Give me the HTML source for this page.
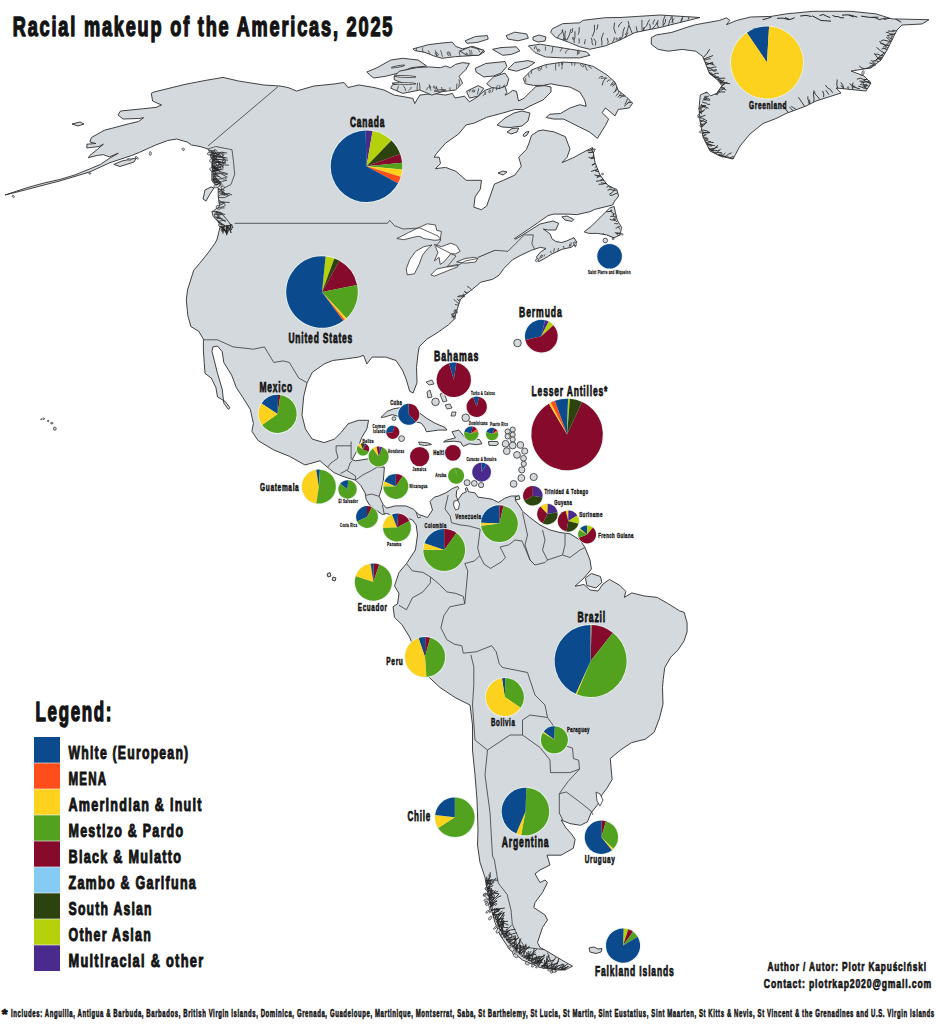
<!DOCTYPE html>
<html><head><meta charset="utf-8"><title>Racial makeup of the Americas, 2025</title>
<style>html,body{margin:0;padding:0;background:#fff;} svg{display:block;}</style>
</head><body><svg width="936" height="1024" viewBox="0 0 936 1024"><polygon points="5.0,195.0 26.0,188.0 44.0,183.0 60.0,179.4 75.0,174.9 89.9,168.9 100.4,164.4 109.4,158.4 118.3,153.2 109.4,156.9 103.4,154.7 97.4,155.4 88.4,157.7 89.9,155.4 97.4,149.4 103.4,144.2 98.9,146.5 86.9,148.0 86.9,144.2 95.9,143.5 89.9,142.0 91.4,137.5 104.9,130.0 113.0,128.0 128.0,124.0 138.5,121.5 143.6,117.7 138.5,118.5 123.0,119.0 118.0,115.0 120.5,111.0 143.6,108.7 156.0,107.4 161.5,105.0 152.6,101.0 151.3,93.3 154.0,92.0 185.0,84.4 205.0,80.5 223.0,77.4 238.5,81.0 264.0,85.0 280.0,86.0 288.0,87.5 296.5,91.0 314.0,86.0 334.0,84.0 344.0,82.5 348.0,87.5 359.0,85.0 374.0,87.5 384.0,90.0 394.2,95.1 404.4,96.8 413.0,98.5 414.7,103.6 419.8,95.1 433.5,93.4 445.5,95.1 452.3,93.4 455.0,98.0 464.6,96.2 469.4,101.9 477.1,97.1 484.8,90.4 495.4,86.5 505.0,86.5 506.9,92.3 505.0,95.2 508.8,93.3 512.7,90.4 516.5,91.3 518.5,101.0 524.2,98.1 531.9,90.4 535.8,86.5 545.0,85.6 551.0,87.0 551.0,92.0 543.0,100.0 530.0,106.0 523.7,109.5 514.6,109.6 501.2,113.5 486.7,117.3 474.2,123.1 466.0,125.0 458.5,134.1 445.6,143.1 436.7,153.3 434.1,157.2 439.2,157.2 440.5,163.6 435.4,168.7 445.6,167.4 455.9,171.3 466.2,180.3 481.5,180.3 480.3,189.2 475.1,196.9 473.8,207.2 481.5,209.7 486.7,205.9 494.4,184.1 503.3,180.3 514.9,175.1 521.3,166.2 518.7,157.2 526.4,149.5 529.0,143.1 531.5,135.4 538.0,131.0 543.1,130.0 554.1,131.9 565.3,136.7 570.0,149.0 567.0,157.4 562.0,162.6 574.0,157.4 580.0,154.0 592.5,147.5 595.0,162.5 600.0,175.0 607.5,185.0 617.0,190.0 618.6,196.0 614.0,202.0 612.6,205.0 594.7,209.4 590.0,211.7 576.9,214.6 567.3,214.1 553.8,214.1 548.1,215.6 538.5,222.3 528.8,229.0 514.4,238.7 516.0,239.0 529.0,231.0 540.0,224.0 553.0,221.0 558.7,223.3 555.8,230.0 548.1,230.0 543.3,229.0 550.0,233.8 551.9,238.7 555.8,241.5 561.5,242.5 566.3,241.1 574.0,237.7 576.9,242.5 571.2,247.3 562.5,249.2 551.9,254.0 544.2,258.8 538.5,261.7 536.5,256.9 540.4,252.1 546.0,248.5 540.4,247.3 531.7,250.2 521.2,255.0 512.5,259.8 503.8,268.5 499.0,275.3 492.6,279.3 480.8,282.2 472.0,289.6 466.2,294.0 460.3,299.8 457.4,308.6 454.5,318.9 448.6,324.7 438.4,332.0 426.6,339.4 419.3,346.7 418.0,354.0 416.5,367.4 417.0,382.7 413.1,393.0 409.7,391.3 406.2,379.3 402.8,370.8 396.0,360.5 385.7,357.1 372.1,357.1 366.9,363.9 363.5,355.4 358.4,357.1 346.4,358.8 332.7,360.5 324.2,363.9 312.2,372.5 307.1,382.7 303.7,396.4 302.0,415.2 305.4,428.9 312.2,439.1 324.2,442.6 334.4,439.1 341.3,432.3 348.1,423.8 358.4,420.3 368.6,420.3 366.9,428.9 361.8,437.4 356.7,451.1 352.2,459.7 355.4,460.8 363.0,459.7 369.4,458.7 384.4,467.3 383.4,480.1 381.2,489.8 379.1,496.3 383.4,504.9 386.6,508.1 395.2,505.9 405.9,505.9 413.4,509.2 418.8,514.5 427.5,517.5 432.5,510.0 430.0,501.4 434.3,497.1 438.5,496.0 446.0,492.8 452.4,488.5 457.8,486.4 458.8,488.5 456.7,490.7 456.2,496.0 457.8,500.3 459.9,497.1 462.0,493.9 466.3,491.8 465.3,488.5 466.9,487.5 468.5,491.8 474.9,492.8 478.0,497.1 485.6,498.2 492.0,499.2 498.4,502.4 504.8,498.2 511.2,496.0 517.6,496.0 515.0,500.0 518.8,505.0 522.5,511.2 530.0,517.5 540.0,525.0 550.0,530.0 560.0,532.5 570.0,533.8 580.0,540.0 585.0,547.5 590.0,560.0 591.4,569.0 584.0,578.0 575.0,586.2 584.0,584.5 590.0,590.0 598.0,591.0 603.0,584.0 609.4,579.4 619.8,585.4 625.8,591.4 624.3,597.4 631.8,592.9 643.8,595.9 657.2,597.4 667.7,603.4 679.7,610.9 684.1,612.3 687.1,622.8 687.1,631.8 684.1,640.8 678.2,649.7 670.7,657.2 664.7,667.7 663.2,679.7 662.5,687.5 663.0,704.1 659.5,718.1 654.2,732.2 645.4,739.2 631.4,742.7 620.8,749.8 610.3,758.5 611.2,769.1 612.1,779.6 606.8,788.4 601.5,795.4 598.0,804.2 591.0,813.0 587.5,821.8 580.4,825.3 569.9,823.6 561.1,820.0 566.0,828.0 571.6,834.1 575.1,839.4 573.4,848.2 561.1,855.2 547.0,855.2 550.0,865.0 540.0,870.0 535.0,873.8 540.0,882.5 545.0,880.0 547.5,882.5 542.5,892.5 535.0,902.5 533.8,907.5 545.0,915.0 547.5,920.0 542.5,927.5 540.0,935.0 537.5,942.5 540.0,947.5 545.0,950.0 557.5,957.5 572.5,966.2 565.0,970.0 555.0,970.0 540.0,967.5 522.5,960.0 510.0,950.0 500.0,935.0 495.0,922.5 490.0,905.0 487.5,892.5 485.0,877.5 480.0,862.5 477.5,845.0 478.0,830.0 477.0,800.0 475.0,775.0 472.5,750.0 472.5,725.0 470.0,705.0 455.0,697.5 440.0,687.5 428.9,677.1 420.0,662.0 409.4,636.7 402.0,624.8 394.5,617.3 393.0,606.8 397.5,603.8 399.0,593.4 394.5,585.9 399.0,572.4 406.5,563.5 415.4,550.0 417.5,535.0 416.2,525.0 412.5,520.0 405.0,517.5 397.5,517.5 386.6,513.4 382.3,514.5 374.8,509.2 369.4,504.9 366.2,499.5 365.1,493.0 360.8,485.5 355.4,480.1 347.9,478.0 341.5,475.9 334.0,472.6 327.5,467.3 320.0,460.8 305.0,465.0 289.4,456.3 273.8,450.0 258.1,440.6 251.9,431.3 253.4,423.4 250.3,409.4 242.5,396.9 236.3,387.5 231.6,375.0 223.8,362.5 222.2,351.6 217.5,346.1 212.8,346.9 212.0,351.6 214.4,360.9 217.5,373.4 222.2,389.1 223.8,403.1 228.4,409.4 230.0,407.8 225.3,401.6 217.5,396.9 215.9,387.5 211.3,378.1 205.0,373.4 204.2,362.5 203.4,350.0 203.4,339.1 198.8,331.3 190.9,326.6 187.8,315.6 186.3,300.0 187.5,290.0 193.7,270.3 199.5,263.5 208.0,253.0 215.2,243.0 217.1,239.1 220.0,227.3 219.5,224.0 214.4,216.3 213.1,211.2 219.5,206.0 218.2,196.0 218.2,188.4 211.9,180.8 211.9,168.0 211.9,160.5 209.3,151.6 208.0,149.0 200.0,146.5 191.6,145.0 187.1,142.0 176.7,139.0 167.7,140.5 155.7,145.0 139.3,152.4 131.8,155.4 109.4,162.9 89.9,171.9 75.0,176.4 60.0,180.9 44.0,185.0 25.0,190.0" fill="#d4d9dd" stroke="#2e2e2e" stroke-width="0.9" stroke-linejoin="round" /><polygon points="396.8,238.5 408.5,232.6 420.3,226.8 427.3,223.8 435.5,225.0 436.7,230.3 441.4,231.5 440.2,239.7 434.4,240.3 423.8,238.5 419.1,236.2 413.2,237.3 403.8,239.7" fill="#ffffff" stroke="#2e2e2e" stroke-width="0.8" stroke-linejoin="round" /><polygon points="432.0,245.0 423.8,246.7 415.6,251.4 409.7,259.7 406.2,269.0 407.3,274.9 414.4,273.8 419.1,264.4 422.6,255.0 427.3,249.1" fill="#ffffff" stroke="#2e2e2e" stroke-width="0.8" stroke-linejoin="round" /><polygon points="434.4,244.4 441.4,246.7 450.8,243.2 456.7,245.6 460.2,251.4 455.5,253.8 450.8,253.8 443.8,262.0 440.2,264.4 439.1,257.3 434.4,260.8 437.9,252.6 435.5,246.7" fill="#ffffff" stroke="#2e2e2e" stroke-width="0.8" stroke-linejoin="round" /><polygon points="430.8,274.9 436.7,269.0 447.3,266.7 457.9,264.4 457.9,266.7 446.1,271.4 434.4,276.1" fill="#ffffff" stroke="#2e2e2e" stroke-width="0.8" stroke-linejoin="round" /><polygon points="456.7,262.0 464.9,258.5 474.3,257.3 477.8,258.5 475.5,262.0 464.9,263.2" fill="#ffffff" stroke="#2e2e2e" stroke-width="0.8" stroke-linejoin="round" /><polyline points="477.8,257.5 486.0,254.0 495.0,250.3" fill="none" stroke="#2e2e2e" stroke-width="0.9" stroke-linejoin="round"/><polygon points="454.0,501.0 458.0,500.5 459.5,504.0 458.5,509.0 455.5,510.0 453.5,505.0" fill="#ffffff" stroke="#2e2e2e" stroke-width="0.8" stroke-linejoin="round" /><polygon points="596.0,792.0 600.0,794.0 603.0,800.0 600.0,806.0 597.0,801.0" fill="#ffffff" stroke="#2e2e2e" stroke-width="0.8" stroke-linejoin="round" /><polygon points="651.3,37.5 656.4,34.9 671.8,32.4 687.2,27.2 695.7,24.7 719.7,20.4 726.5,17.8 729.9,20.4 726.5,24.7 736.8,20.4 750.4,17.0 771.0,16.4 786.0,13.9 813.0,11.3 851.0,11.3 876.0,13.9 892.0,18.9 929.0,19.7 922.0,24.0 902.0,25.0 897.0,30.0 892.0,40.0 887.0,50.0 881.0,60.0 871.0,68.0 851.0,71.0 864.0,76.0 871.0,83.0 866.0,91.0 836.0,88.0 841.0,93.0 816.0,101.0 806.0,106.0 786.0,113.5 776.0,118.5 763.0,123.5 750.0,134.0 740.0,146.0 733.0,159.0 720.0,156.0 710.0,151.0 703.0,137.0 700.0,121.0 699.0,108.6 700.3,95.0 706.7,92.0 710.5,95.9 716.8,93.3 721.9,85.7 717.9,80.2 709.4,73.4 706.0,64.8 702.6,56.3 695.7,51.2 682.1,49.4 668.4,51.2 658.1,49.4 651.3,44.3" fill="#d4d9dd" stroke="#2e2e2e" stroke-width="0.9" stroke-linejoin="round" /><polygon points="523.2,78.4 531.8,69.8 545.5,64.7 562.6,62.1 579.7,63.0 593.3,66.4 607.0,75.0 615.0,82.2 618.2,90.3 626.2,96.7 632.6,103.1 629.4,107.9 618.2,109.5 615.0,115.9 605.4,107.9 602.2,112.7 608.6,119.1 605.4,125.5 597.4,138.3 589.4,131.9 579.7,127.1 570.1,122.3 563.7,119.1 554.1,119.1 546.1,117.5 549.3,114.3 560.5,113.5 570.1,107.9 579.7,104.7 586.2,106.3 584.6,99.9 579.7,91.9 570.1,87.1 558.9,85.4 550.9,83.8 542.9,85.4 533.3,85.4 525.3,83.8" fill="#d4d9dd" stroke="#2e2e2e" stroke-width="0.9" stroke-linejoin="round" /><polygon points="497.0,125.0 505.0,118.0 514.0,113.0 522.0,111.0 530.0,113.0 528.0,121.0 522.0,126.0 510.0,127.5 502.0,127.0" fill="#d4d9dd" stroke="#2e2e2e" stroke-width="0.9" stroke-linejoin="round" /><polygon points="366.8,72.0 377.1,67.7 390.8,60.0 402.7,58.3 418.1,60.0 426.7,66.0 411.3,67.7 399.3,72.9 385.6,76.3 373.7,78.0 370.3,75.4" fill="#d4d9dd" stroke="#2e2e2e" stroke-width="0.9" stroke-linejoin="round" /><polygon points="394.2,76.3 399.3,71.2 416.4,67.7 428.4,66.9 440.3,67.7 445.5,66.0 450.6,67.7 455.7,64.3 462.6,62.6 469.4,63.5 466.0,69.4 459.1,76.3 462.6,83.1 455.7,90.0 442.1,91.7 431.8,95.1 419.8,90.0 402.7,93.4 390.8,88.2 392.5,84.8 402.7,83.1 394.2,79.7" fill="#d4d9dd" stroke="#2e2e2e" stroke-width="0.9" stroke-linejoin="round" /><polygon points="413.0,48.9 428.4,44.7 442.1,43.0 452.3,42.1 455.7,46.4 462.6,48.9 472.8,46.4 479.7,48.9 484.8,51.5 479.7,54.9 469.4,55.8 455.7,56.6 442.1,58.3 433.5,55.8 425.0,52.4 414.7,50.6" fill="#d4d9dd" stroke="#2e2e2e" stroke-width="0.9" stroke-linejoin="round" /><polygon points="465.1,40.8 475.4,36.5 487.4,35.6 488.2,39.1 477.1,42.5 466.8,43.3" fill="#d4d9dd" stroke="#2e2e2e" stroke-width="0.9" stroke-linejoin="round" /><polygon points="506.2,35.6 514.7,32.2 526.7,33.9 528.4,38.2 518.1,40.8 507.9,39.1" fill="#d4d9dd" stroke="#2e2e2e" stroke-width="0.9" stroke-linejoin="round" /><polygon points="533.0,37.0 539.0,35.0 546.0,37.0 545.0,41.0 538.0,42.0 533.0,40.0" fill="#d4d9dd" stroke="#2e2e2e" stroke-width="0.9" stroke-linejoin="round" /><polygon points="552.3,28.8 562.6,23.7 579.7,22.8 583.1,20.3 605.3,17.7 620.0,17.5 660.0,15.0 700.0,17.5 680.0,22.5 660.0,27.5 635.0,32.5 620.0,40.0 605.3,45.9 589.9,49.3 579.7,46.8 569.4,42.5 555.7,37.4 550.6,32.2" fill="#d4d9dd" stroke="#2e2e2e" stroke-width="0.9" stroke-linejoin="round" /><polygon points="528.4,45.9 540.3,44.2 555.7,46.8 571.1,49.3 586.5,51.9 589.9,55.3 579.7,57.9 562.6,57.9 545.5,57.0 535.2,52.7" fill="#d4d9dd" stroke="#2e2e2e" stroke-width="0.9" stroke-linejoin="round" /><polygon points="492.5,49.3 501.0,47.6 516.4,46.8 519.8,51.0 511.3,54.4 502.7,55.3" fill="#d4d9dd" stroke="#2e2e2e" stroke-width="0.9" stroke-linejoin="round" /><polygon points="460.0,51.0 470.3,46.8 483.9,50.2 478.8,55.3 466.8,55.3" fill="#d4d9dd" stroke="#2e2e2e" stroke-width="0.9" stroke-linejoin="round" /><polygon points="475.2,68.3 485.8,63.5 505.0,61.5 506.9,66.3 501.2,73.1 493.5,76.0 483.8,76.9 476.2,72.1" fill="#d4d9dd" stroke="#2e2e2e" stroke-width="0.9" stroke-linejoin="round" /><polygon points="507.9,69.2 514.6,62.5 528.1,60.6 534.8,62.5 528.1,67.3 516.5,71.2" fill="#d4d9dd" stroke="#2e2e2e" stroke-width="0.9" stroke-linejoin="round" /><polygon points="486.7,83.7 493.5,76.9 505.0,73.1 508.8,78.8 506.9,85.6 499.2,88.5 491.5,87.5" fill="#d4d9dd" stroke="#2e2e2e" stroke-width="0.9" stroke-linejoin="round" /><polygon points="466.5,91.3 478.1,85.6 483.8,88.5 478.1,96.2 469.4,98.1" fill="#d4d9dd" stroke="#2e2e2e" stroke-width="0.9" stroke-linejoin="round" /><polygon points="507.0,132.0 512.0,128.5 518.7,128.0 517.0,132.0 511.0,134.0" fill="#d4d9dd" stroke="#2e2e2e" stroke-width="0.9" stroke-linejoin="round" /><polygon points="523.0,135.0 526.0,132.0 529.0,131.5 527.0,135.0 524.0,136.7" fill="#d4d9dd" stroke="#2e2e2e" stroke-width="0.9" stroke-linejoin="round" /><polygon points="498.0,173.0 503.0,171.0 507.0,172.0 503.0,175.0" fill="#d4d9dd" stroke="#2e2e2e" stroke-width="0.9" stroke-linejoin="round" /><polygon points="584.2,231.9 591.7,225.9 602.2,215.4 609.7,208.0 614.1,206.5 617.1,220.0 621.6,227.4 620.1,234.9 614.1,237.9 606.7,234.9 597.7,233.4 588.7,233.4" fill="#d4d9dd" stroke="#2e2e2e" stroke-width="0.9" stroke-linejoin="round" /><polygon points="561.8,216.9 567.0,216.0 573.8,219.5 572.0,221.4 565.0,220.0" fill="#d4d9dd" stroke="#2e2e2e" stroke-width="0.9" stroke-linejoin="round" /><polygon points="211.9,211.2 220.8,212.5 228.4,221.4 230.9,225.2 225.8,226.4 218.2,221.4 213.1,216.3" fill="#d4d9dd" stroke="#2e2e2e" stroke-width="0.9" stroke-linejoin="round" /><polygon points="205.0,190.0 211.0,187.0 214.0,188.0 210.0,194.0 206.0,201.0 203.0,199.0" fill="#d4d9dd" stroke="#2e2e2e" stroke-width="0.9" stroke-linejoin="round" /><polygon points="113.8,164.4 122.0,161.0 136.3,158.0 134.0,162.0 120.0,166.5" fill="#d4d9dd" stroke="#2e2e2e" stroke-width="0.9" stroke-linejoin="round" /><polygon points="72.0,124.0 80.0,122.0 84.0,124.0 78.0,126.0" fill="#d4d9dd" stroke="#2e2e2e" stroke-width="0.9" stroke-linejoin="round" /><polygon points="381.1,417.3 387.1,411.3 393.9,408.7 399.1,407.9 410.0,408.0 419.6,413.0 426.4,418.1 435.0,423.2 445.2,427.5 446.9,430.1 438.4,430.1 426.4,431.8 424.7,427.5 421.3,423.2 414.4,421.5 404.0,418.0 392.2,414.7 383.7,417.3" fill="#d4d9dd" stroke="#2e2e2e" stroke-width="0.9" stroke-linejoin="round" /><polygon points="452.0,431.8 458.9,430.1 463.2,435.2 465.7,438.6 472.6,438.6 479.4,439.5 482.0,443.8 476.0,444.6 469.1,443.8 463.2,446.3 460.6,442.0 453.8,441.2 443.5,442.0 446.1,440.3 455.5,437.8 453.8,435.2" fill="#d4d9dd" stroke="#2e2e2e" stroke-width="0.9" stroke-linejoin="round" /><polygon points="418.7,442.0 428.1,442.9 431.5,444.6 424.7,445.5 419.6,444.6" fill="#d4d9dd" stroke="#2e2e2e" stroke-width="0.9" stroke-linejoin="round" /><polygon points="488.5,441.5 497.5,441.5 498.5,444.0 496.0,445.5 489.0,445.3" fill="#d4d9dd" stroke="#2e2e2e" stroke-width="0.9" stroke-linejoin="round" /><polygon points="585.4,578.0 591.4,573.5 600.4,576.5 601.9,582.4 595.9,588.0 586.9,585.5" fill="#d4d9dd" stroke="#2e2e2e" stroke-width="0.9" stroke-linejoin="round" /><polygon points="589.0,948.0 594.0,947.0 598.0,949.0 602.0,948.5 601.0,952.0 596.0,953.5 590.0,952.0" fill="#d4d9dd" stroke="#2e2e2e" stroke-width="0.9" stroke-linejoin="round" /><polygon points="327.0,574.0 330.0,572.5 331.0,576.0 328.0,577.0" fill="#d4d9dd" stroke="#2e2e2e" stroke-width="0.9" stroke-linejoin="round" /><polygon points="333.0,577.0 336.0,578.0 335.0,581.0 332.0,580.0" fill="#d4d9dd" stroke="#2e2e2e" stroke-width="0.9" stroke-linejoin="round" /><polygon points="515.0,497.0 519.0,495.5 520.0,499.0 516.0,500.0" fill="#d4d9dd" stroke="#2e2e2e" stroke-width="0.9" stroke-linejoin="round" /><ellipse cx="405" cy="76.5" rx="11" ry="0.9" transform="rotate(2 405 76.5)" fill="#ffffff" stroke="#2e2e2e" stroke-width="0.8"/><ellipse cx="404" cy="83.5" rx="12" ry="0.9" transform="rotate(1 404 83.5)" fill="#ffffff" stroke="#2e2e2e" stroke-width="0.8"/><ellipse cx="398" cy="66.5" rx="7" ry="0.7" transform="rotate(-10 398 66.5)" fill="#ffffff" stroke="#2e2e2e" stroke-width="0.8"/><ellipse cx="440" cy="90.5" rx="6" ry="0.7" transform="rotate(-5 440 90.5)" fill="#ffffff" stroke="#2e2e2e" stroke-width="0.8"/><polygon points="426.0,382.0 432.0,380.0 434.0,384.0 429.0,385.0" fill="#d4d9dd" stroke="#2e2e2e" stroke-width="0.8" stroke-linejoin="round" /><polygon points="427.0,392.0 430.0,390.0 432.0,397.0 428.0,398.0" fill="#d4d9dd" stroke="#2e2e2e" stroke-width="0.8" stroke-linejoin="round" /><polygon points="440.0,394.0 444.0,393.0 447.0,401.0 443.0,402.0" fill="#d4d9dd" stroke="#2e2e2e" stroke-width="0.8" stroke-linejoin="round" /><polygon points="445.0,405.0 450.0,404.0 452.0,408.0 447.0,409.0" fill="#d4d9dd" stroke="#2e2e2e" stroke-width="0.8" stroke-linejoin="round" /><polygon points="452.0,412.0 456.0,412.0 455.0,416.0 451.0,416.0" fill="#d4d9dd" stroke="#2e2e2e" stroke-width="0.8" stroke-linejoin="round" /><ellipse cx="223.5" cy="193.5" rx="2.0" ry="1.0" transform="rotate(57 223.5 193.5)" fill="#d4d9dd" stroke="#262626" stroke-width="0.6"/><ellipse cx="215.4" cy="153.1" rx="3.4" ry="1.6" transform="rotate(58 215.4 153.1)" fill="#d4d9dd" stroke="#262626" stroke-width="0.6"/><ellipse cx="215.6" cy="181.5" rx="1.4" ry="1.2" transform="rotate(108 215.6 181.5)" fill="#d4d9dd" stroke="#262626" stroke-width="0.6"/><ellipse cx="216.8" cy="185.9" rx="3.0" ry="1.7" transform="rotate(160 216.8 185.9)" fill="#d4d9dd" stroke="#262626" stroke-width="0.6"/><ellipse cx="218.4" cy="216.9" rx="2.1" ry="1.0" transform="rotate(37 218.4 216.9)" fill="#d4d9dd" stroke="#262626" stroke-width="0.6"/><ellipse cx="214.3" cy="166.1" rx="3.1" ry="0.9" transform="rotate(136 214.3 166.1)" fill="#d4d9dd" stroke="#262626" stroke-width="0.6"/><ellipse cx="214.6" cy="157.8" rx="2.0" ry="1.1" transform="rotate(174 214.6 157.8)" fill="#d4d9dd" stroke="#262626" stroke-width="0.6"/><ellipse cx="210.3" cy="153.3" rx="3.1" ry="1.4" transform="rotate(166 210.3 153.3)" fill="#d4d9dd" stroke="#262626" stroke-width="0.6"/><ellipse cx="212.2" cy="169.5" rx="2.6" ry="1.7" transform="rotate(17 212.2 169.5)" fill="#d4d9dd" stroke="#262626" stroke-width="0.6"/><ellipse cx="218.4" cy="168.4" rx="2.2" ry="1.1" transform="rotate(156 218.4 168.4)" fill="#d4d9dd" stroke="#262626" stroke-width="0.6"/><ellipse cx="217.6" cy="206.8" rx="1.3" ry="1.6" transform="rotate(65 217.6 206.8)" fill="#d4d9dd" stroke="#262626" stroke-width="0.6"/><ellipse cx="222.8" cy="187.6" rx="1.5" ry="1.7" transform="rotate(59 222.8 187.6)" fill="#d4d9dd" stroke="#262626" stroke-width="0.6"/><ellipse cx="222.6" cy="190.2" rx="1.7" ry="1.0" transform="rotate(25 222.6 190.2)" fill="#d4d9dd" stroke="#262626" stroke-width="0.6"/><ellipse cx="216.9" cy="216.6" rx="2.9" ry="1.7" transform="rotate(108 216.9 216.6)" fill="#d4d9dd" stroke="#262626" stroke-width="0.6"/><ellipse cx="211.8" cy="160.1" rx="2.5" ry="1.6" transform="rotate(140 211.8 160.1)" fill="#d4d9dd" stroke="#262626" stroke-width="0.6"/><ellipse cx="219.1" cy="213.8" rx="2.8" ry="1.4" transform="rotate(170 219.1 213.8)" fill="#d4d9dd" stroke="#262626" stroke-width="0.6"/><ellipse cx="220.4" cy="225.2" rx="1.9" ry="1.4" transform="rotate(9 220.4 225.2)" fill="#d4d9dd" stroke="#262626" stroke-width="0.6"/><ellipse cx="216.2" cy="216.3" rx="3.0" ry="1.6" transform="rotate(80 216.2 216.3)" fill="#d4d9dd" stroke="#262626" stroke-width="0.6"/><ellipse cx="701.4" cy="132.0" rx="2.2" ry="1.0" transform="rotate(9 701.4 132.0)" fill="#d4d9dd" stroke="#262626" stroke-width="0.6"/><ellipse cx="722.2" cy="156.0" rx="1.5" ry="0.9" transform="rotate(25 722.2 156.0)" fill="#d4d9dd" stroke="#262626" stroke-width="0.6"/><ellipse cx="699.8" cy="108.6" rx="1.1" ry="1.1" transform="rotate(148 699.8 108.6)" fill="#d4d9dd" stroke="#262626" stroke-width="0.6"/><ellipse cx="701.2" cy="111.3" rx="2.0" ry="0.6" transform="rotate(89 701.2 111.3)" fill="#d4d9dd" stroke="#262626" stroke-width="0.6"/><ellipse cx="711.0" cy="73.4" rx="1.0" ry="0.6" transform="rotate(10 711.0 73.4)" fill="#d4d9dd" stroke="#262626" stroke-width="0.6"/><ellipse cx="720.9" cy="81.4" rx="1.7" ry="1.1" transform="rotate(163 720.9 81.4)" fill="#d4d9dd" stroke="#262626" stroke-width="0.6"/><ellipse cx="705.9" cy="138.1" rx="2.1" ry="0.6" transform="rotate(19 705.9 138.1)" fill="#d4d9dd" stroke="#262626" stroke-width="0.6"/><ellipse cx="713.2" cy="150.3" rx="1.1" ry="0.8" transform="rotate(54 713.2 150.3)" fill="#d4d9dd" stroke="#262626" stroke-width="0.6"/><ellipse cx="705.3" cy="99.0" rx="1.4" ry="1.1" transform="rotate(146 705.3 99.0)" fill="#d4d9dd" stroke="#262626" stroke-width="0.6"/><ellipse cx="699.1" cy="117.0" rx="1.2" ry="1.0" transform="rotate(178 699.1 117.0)" fill="#d4d9dd" stroke="#262626" stroke-width="0.6"/><ellipse cx="723.1" cy="82.9" rx="1.8" ry="1.0" transform="rotate(6 723.1 82.9)" fill="#d4d9dd" stroke="#262626" stroke-width="0.6"/><ellipse cx="698.5" cy="115.6" rx="1.1" ry="0.9" transform="rotate(116 698.5 115.6)" fill="#d4d9dd" stroke="#262626" stroke-width="0.6"/><ellipse cx="701.4" cy="125.8" rx="1.8" ry="0.8" transform="rotate(9 701.4 125.8)" fill="#d4d9dd" stroke="#262626" stroke-width="0.6"/><ellipse cx="710.0" cy="145.3" rx="2.0" ry="0.9" transform="rotate(7 710.0 145.3)" fill="#d4d9dd" stroke="#262626" stroke-width="0.6"/><ellipse cx="863.0" cy="72.8" rx="2.1" ry="1.1" transform="rotate(104 863.0 72.8)" fill="#d4d9dd" stroke="#262626" stroke-width="0.6"/><ellipse cx="893.4" cy="30.9" rx="1.0" ry="0.7" transform="rotate(119 893.4 30.9)" fill="#d4d9dd" stroke="#262626" stroke-width="0.6"/><ellipse cx="874.1" cy="63.9" rx="2.1" ry="0.9" transform="rotate(61 874.1 63.9)" fill="#d4d9dd" stroke="#262626" stroke-width="0.6"/><ellipse cx="884.8" cy="47.3" rx="1.5" ry="1.0" transform="rotate(63 884.8 47.3)" fill="#d4d9dd" stroke="#262626" stroke-width="0.6"/><ellipse cx="887.9" cy="43.6" rx="1.9" ry="0.6" transform="rotate(143 887.9 43.6)" fill="#d4d9dd" stroke="#262626" stroke-width="0.6"/><ellipse cx="865.9" cy="85.9" rx="2.0" ry="0.5" transform="rotate(113 865.9 85.9)" fill="#d4d9dd" stroke="#262626" stroke-width="0.6"/><ellipse cx="869.5" cy="82.2" rx="1.2" ry="0.7" transform="rotate(95 869.5 82.2)" fill="#d4d9dd" stroke="#262626" stroke-width="0.6"/><ellipse cx="879.6" cy="58.7" rx="1.9" ry="0.5" transform="rotate(10 879.6 58.7)" fill="#d4d9dd" stroke="#262626" stroke-width="0.6"/><ellipse cx="891.7" cy="38.7" rx="0.9" ry="1.2" transform="rotate(154 891.7 38.7)" fill="#d4d9dd" stroke="#262626" stroke-width="0.6"/><ellipse cx="891.8" cy="35.9" rx="1.2" ry="0.7" transform="rotate(63 891.8 35.9)" fill="#d4d9dd" stroke="#262626" stroke-width="0.6"/><ellipse cx="864.2" cy="86.5" rx="1.2" ry="0.6" transform="rotate(8 864.2 86.5)" fill="#d4d9dd" stroke="#262626" stroke-width="0.6"/><ellipse cx="853.9" cy="86.6" rx="0.9" ry="0.9" transform="rotate(37 853.9 86.6)" fill="#d4d9dd" stroke="#262626" stroke-width="0.6"/><ellipse cx="848.2" cy="87.7" rx="1.2" ry="0.6" transform="rotate(82 848.2 87.7)" fill="#d4d9dd" stroke="#262626" stroke-width="0.6"/><ellipse cx="809.2" cy="101.8" rx="2.0" ry="0.8" transform="rotate(94 809.2 101.8)" fill="#d4d9dd" stroke="#262626" stroke-width="0.6"/><ellipse cx="619.9" cy="38.4" rx="1.2" ry="0.5" transform="rotate(108 619.9 38.4)" fill="#d4d9dd" stroke="#262626" stroke-width="0.6"/><ellipse cx="565.2" cy="39.3" rx="1.2" ry="0.6" transform="rotate(13 565.2 39.3)" fill="#d4d9dd" stroke="#262626" stroke-width="0.6"/><ellipse cx="617.0" cy="39.2" rx="0.9" ry="1.2" transform="rotate(133 617.0 39.2)" fill="#d4d9dd" stroke="#262626" stroke-width="0.6"/><ellipse cx="573.1" cy="38.4" rx="1.3" ry="0.6" transform="rotate(85 573.1 38.4)" fill="#d4d9dd" stroke="#262626" stroke-width="0.6"/><ellipse cx="466.7" cy="53.9" rx="0.9" ry="0.7" transform="rotate(78 466.7 53.9)" fill="#d4d9dd" stroke="#262626" stroke-width="0.6"/><ellipse cx="448.2" cy="53.8" rx="1.8" ry="0.9" transform="rotate(66 448.2 53.8)" fill="#d4d9dd" stroke="#262626" stroke-width="0.6"/><ellipse cx="436.8" cy="54.1" rx="1.8" ry="1.1" transform="rotate(43 436.8 54.1)" fill="#d4d9dd" stroke="#262626" stroke-width="0.6"/><ellipse cx="429.8" cy="87.0" rx="0.9" ry="1.0" transform="rotate(7 429.8 87.0)" fill="#d4d9dd" stroke="#262626" stroke-width="0.6"/><ellipse cx="435.9" cy="88.3" rx="1.1" ry="0.6" transform="rotate(142 435.9 88.3)" fill="#d4d9dd" stroke="#262626" stroke-width="0.6"/><ellipse cx="434.0" cy="87.0" rx="1.0" ry="0.8" transform="rotate(107 434.0 87.0)" fill="#d4d9dd" stroke="#262626" stroke-width="0.6"/><ellipse cx="474.0" cy="91.0" rx="0.9" ry="0.8" transform="rotate(123 474.0 91.0)" fill="#d4d9dd" stroke="#262626" stroke-width="0.6"/><ellipse cx="489.7" cy="91.4" rx="1.5" ry="0.8" transform="rotate(107 489.7 91.4)" fill="#d4d9dd" stroke="#262626" stroke-width="0.6"/><ellipse cx="473.2" cy="91.0" rx="1.1" ry="1.1" transform="rotate(169 473.2 91.0)" fill="#d4d9dd" stroke="#262626" stroke-width="0.6"/><ellipse cx="539.0" cy="50.2" rx="1.3" ry="0.7" transform="rotate(56 539.0 50.2)" fill="#d4d9dd" stroke="#262626" stroke-width="0.6"/><ellipse cx="578.4" cy="51.8" rx="2.1" ry="0.7" transform="rotate(79 578.4 51.8)" fill="#d4d9dd" stroke="#262626" stroke-width="0.6"/><ellipse cx="582.1" cy="65.2" rx="2.1" ry="1.0" transform="rotate(43 582.1 65.2)" fill="#d4d9dd" stroke="#262626" stroke-width="0.6"/><ellipse cx="562.2" cy="63.5" rx="1.1" ry="0.6" transform="rotate(115 562.2 63.5)" fill="#d4d9dd" stroke="#262626" stroke-width="0.6"/><ellipse cx="539.3" cy="69.2" rx="1.4" ry="1.1" transform="rotate(84 539.3 69.2)" fill="#d4d9dd" stroke="#262626" stroke-width="0.6"/><ellipse cx="41.3" cy="419.3" rx="0.6" ry="0.5" fill="#d4d9dd" stroke="#333" stroke-width="0.8"/><ellipse cx="43.7" cy="418.7" rx="0.9" ry="0.7" fill="#d4d9dd" stroke="#333" stroke-width="0.8"/><ellipse cx="48.2" cy="421" rx="0.8" ry="0.7" fill="#d4d9dd" stroke="#333" stroke-width="0.8"/><ellipse cx="51.8" cy="423.2" rx="1.3" ry="0.7" fill="#d4d9dd" stroke="#333" stroke-width="0.8"/><ellipse cx="54.8" cy="428.7" rx="1.4" ry="1.6" fill="#d4d9dd" stroke="#333" stroke-width="0.8"/><ellipse cx="219.6" cy="168.5" rx="1.6" ry="1.3" transform="rotate(18 219.6 168.5)" fill="#d4d9dd" stroke="#262626" stroke-width="0.6"/><ellipse cx="220.6" cy="166.0" rx="3.1" ry="1.0" transform="rotate(33 220.6 166.0)" fill="#d4d9dd" stroke="#262626" stroke-width="0.6"/><ellipse cx="215.0" cy="174.4" rx="1.6" ry="1.3" transform="rotate(77 215.0 174.4)" fill="#d4d9dd" stroke="#262626" stroke-width="0.6"/><ellipse cx="214.7" cy="180.3" rx="3.0" ry="1.2" transform="rotate(25 214.7 180.3)" fill="#d4d9dd" stroke="#262626" stroke-width="0.6"/><ellipse cx="224.0" cy="160.8" rx="1.6" ry="1.2" transform="rotate(7 224.0 160.8)" fill="#d4d9dd" stroke="#262626" stroke-width="0.6"/><ellipse cx="221.7" cy="167.5" rx="2.7" ry="1.1" transform="rotate(77 221.7 167.5)" fill="#d4d9dd" stroke="#262626" stroke-width="0.6"/><ellipse cx="224.4" cy="178.3" rx="2.1" ry="0.8" transform="rotate(169 224.4 178.3)" fill="#d4d9dd" stroke="#262626" stroke-width="0.6"/><ellipse cx="218.9" cy="162.4" rx="1.3" ry="0.8" transform="rotate(20 218.9 162.4)" fill="#d4d9dd" stroke="#262626" stroke-width="0.6"/><ellipse cx="216.2" cy="167.6" rx="2.9" ry="0.9" transform="rotate(118 216.2 167.6)" fill="#d4d9dd" stroke="#262626" stroke-width="0.6"/><ellipse cx="216.5" cy="152.3" rx="3.2" ry="1.0" transform="rotate(57 216.5 152.3)" fill="#d4d9dd" stroke="#262626" stroke-width="0.6"/><ellipse cx="222.9" cy="154.5" rx="2.2" ry="1.0" transform="rotate(101 222.9 154.5)" fill="#d4d9dd" stroke="#262626" stroke-width="0.6"/><ellipse cx="223.8" cy="161.6" rx="2.1" ry="0.8" transform="rotate(39 223.8 161.6)" fill="#d4d9dd" stroke="#262626" stroke-width="0.6"/><ellipse cx="221.6" cy="154.7" rx="1.4" ry="1.3" transform="rotate(107 221.6 154.7)" fill="#d4d9dd" stroke="#262626" stroke-width="0.6"/><ellipse cx="220.2" cy="155.5" rx="2.5" ry="1.7" transform="rotate(169 220.2 155.5)" fill="#d4d9dd" stroke="#262626" stroke-width="0.6"/><ellipse cx="221.5" cy="228.3" rx="1.4" ry="0.8" transform="rotate(90 221.5 228.3)" fill="#d4d9dd" stroke="#262626" stroke-width="0.6"/><ellipse cx="227.5" cy="229.6" rx="2.0" ry="0.7" transform="rotate(67 227.5 229.6)" fill="#d4d9dd" stroke="#262626" stroke-width="0.6"/><ellipse cx="222.8" cy="230.1" rx="0.9" ry="0.9" transform="rotate(145 222.8 230.1)" fill="#d4d9dd" stroke="#262626" stroke-width="0.6"/><ellipse cx="454.1" cy="317.4" rx="2.0" ry="0.8" transform="rotate(68 454.1 317.4)" fill="#d4d9dd" stroke="#262626" stroke-width="0.6"/><ellipse cx="463.5" cy="294.7" rx="1.0" ry="0.5" transform="rotate(145 463.5 294.7)" fill="#d4d9dd" stroke="#262626" stroke-width="0.6"/><ellipse cx="456.2" cy="311.1" rx="2.0" ry="0.5" transform="rotate(46 456.2 311.1)" fill="#d4d9dd" stroke="#262626" stroke-width="0.6"/><ellipse cx="463.8" cy="296.1" rx="1.0" ry="0.5" transform="rotate(61 463.8 296.1)" fill="#d4d9dd" stroke="#262626" stroke-width="0.6"/><ellipse cx="453.6" cy="315.1" rx="1.8" ry="0.8" transform="rotate(45 453.6 315.1)" fill="#d4d9dd" stroke="#262626" stroke-width="0.6"/><ellipse cx="545.6" cy="964.5" rx="1.7" ry="1.2" transform="rotate(44 545.6 964.5)" fill="#d4d9dd" stroke="#262626" stroke-width="0.6"/><ellipse cx="497.3" cy="910.0" rx="1.8" ry="1.5" transform="rotate(32 497.3 910.0)" fill="#d4d9dd" stroke="#262626" stroke-width="0.6"/><ellipse cx="486.3" cy="900.3" rx="2.4" ry="1.2" transform="rotate(2 486.3 900.3)" fill="#d4d9dd" stroke="#262626" stroke-width="0.6"/><ellipse cx="491.0" cy="881.9" rx="1.9" ry="1.4" transform="rotate(7 491.0 881.9)" fill="#d4d9dd" stroke="#262626" stroke-width="0.6"/><ellipse cx="513.9" cy="952.2" rx="2.4" ry="1.2" transform="rotate(110 513.9 952.2)" fill="#d4d9dd" stroke="#262626" stroke-width="0.6"/><ellipse cx="495.8" cy="904.4" rx="1.2" ry="0.7" transform="rotate(123 495.8 904.4)" fill="#d4d9dd" stroke="#262626" stroke-width="0.6"/><ellipse cx="485.1" cy="894.4" rx="1.9" ry="1.2" transform="rotate(161 485.1 894.4)" fill="#d4d9dd" stroke="#262626" stroke-width="0.6"/><ellipse cx="527.2" cy="963.4" rx="2.2" ry="1.4" transform="rotate(22 527.2 963.4)" fill="#d4d9dd" stroke="#262626" stroke-width="0.6"/><ellipse cx="532.9" cy="964.0" rx="1.6" ry="0.7" transform="rotate(136 532.9 964.0)" fill="#d4d9dd" stroke="#262626" stroke-width="0.6"/><ellipse cx="514.3" cy="938.8" rx="1.9" ry="0.8" transform="rotate(39 514.3 938.8)" fill="#d4d9dd" stroke="#262626" stroke-width="0.6"/><ellipse cx="497.9" cy="909.5" rx="1.4" ry="0.7" transform="rotate(63 497.9 909.5)" fill="#d4d9dd" stroke="#262626" stroke-width="0.6"/><ellipse cx="487.9" cy="889.8" rx="2.2" ry="1.2" transform="rotate(31 487.9 889.8)" fill="#d4d9dd" stroke="#262626" stroke-width="0.6"/><ellipse cx="490.3" cy="897.0" rx="2.3" ry="1.1" transform="rotate(103 490.3 897.0)" fill="#d4d9dd" stroke="#262626" stroke-width="0.6"/><ellipse cx="551.7" cy="971.8" rx="1.5" ry="1.1" transform="rotate(97 551.7 971.8)" fill="#d4d9dd" stroke="#262626" stroke-width="0.6"/><ellipse cx="553.9" cy="968.1" rx="2.2" ry="1.0" transform="rotate(141 553.9 968.1)" fill="#d4d9dd" stroke="#262626" stroke-width="0.6"/><ellipse cx="543.4" cy="967.4" rx="1.2" ry="0.9" transform="rotate(64 543.4 967.4)" fill="#d4d9dd" stroke="#262626" stroke-width="0.6"/><ellipse cx="550.0" cy="969.9" rx="2.2" ry="1.2" transform="rotate(172 550.0 969.9)" fill="#d4d9dd" stroke="#262626" stroke-width="0.6"/><ellipse cx="492.1" cy="891.9" rx="1.7" ry="0.7" transform="rotate(114 492.1 891.9)" fill="#d4d9dd" stroke="#262626" stroke-width="0.6"/><ellipse cx="547.1" cy="965.5" rx="1.1" ry="1.5" transform="rotate(69 547.1 965.5)" fill="#d4d9dd" stroke="#262626" stroke-width="0.6"/><ellipse cx="523.8" cy="951.9" rx="1.5" ry="1.0" transform="rotate(59 523.8 951.9)" fill="#d4d9dd" stroke="#262626" stroke-width="0.6"/><ellipse cx="485.2" cy="894.8" rx="2.3" ry="1.0" transform="rotate(157 485.2 894.8)" fill="#d4d9dd" stroke="#262626" stroke-width="0.6"/><ellipse cx="486.5" cy="888.6" rx="1.4" ry="1.5" transform="rotate(142 486.5 888.6)" fill="#d4d9dd" stroke="#262626" stroke-width="0.6"/><ellipse cx="553.0" cy="968.3" rx="1.2" ry="1.0" transform="rotate(41 553.0 968.3)" fill="#d4d9dd" stroke="#262626" stroke-width="0.6"/><ellipse cx="488.4" cy="881.7" rx="1.6" ry="0.7" transform="rotate(92 488.4 881.7)" fill="#d4d9dd" stroke="#262626" stroke-width="0.6"/><ellipse cx="561.7" cy="966.1" rx="1.9" ry="0.7" transform="rotate(138 561.7 966.1)" fill="#d4d9dd" stroke="#262626" stroke-width="0.6"/><ellipse cx="490.0" cy="893.5" rx="1.2" ry="1.5" transform="rotate(98 490.0 893.5)" fill="#d4d9dd" stroke="#262626" stroke-width="0.6"/><ellipse cx="502.4" cy="935.5" rx="2.0" ry="1.5" transform="rotate(77 502.4 935.5)" fill="#d4d9dd" stroke="#262626" stroke-width="0.6"/><ellipse cx="491.7" cy="906.2" rx="2.7" ry="1.0" transform="rotate(114 491.7 906.2)" fill="#d4d9dd" stroke="#262626" stroke-width="0.6"/><ellipse cx="554.2" cy="970.6" rx="2.5" ry="1.1" transform="rotate(25 554.2 970.6)" fill="#d4d9dd" stroke="#262626" stroke-width="0.6"/><ellipse cx="492.2" cy="882.3" rx="1.9" ry="1.1" transform="rotate(165 492.2 882.3)" fill="#d4d9dd" stroke="#262626" stroke-width="0.6"/><ellipse cx="515.9" cy="947.8" rx="1.6" ry="1.3" transform="rotate(46 515.9 947.8)" fill="#d4d9dd" stroke="#262626" stroke-width="0.6"/><ellipse cx="509.1" cy="935.4" rx="2.1" ry="0.8" transform="rotate(36 509.1 935.4)" fill="#d4d9dd" stroke="#262626" stroke-width="0.6"/><ellipse cx="530.2" cy="956.3" rx="1.2" ry="1.6" transform="rotate(24 530.2 956.3)" fill="#d4d9dd" stroke="#262626" stroke-width="0.6"/><ellipse cx="487.2" cy="904.0" rx="1.9" ry="1.2" transform="rotate(154 487.2 904.0)" fill="#d4d9dd" stroke="#262626" stroke-width="0.6"/><ellipse cx="492.6" cy="898.6" rx="1.2" ry="1.2" transform="rotate(45 492.6 898.6)" fill="#d4d9dd" stroke="#262626" stroke-width="0.6"/><ellipse cx="495.4" cy="927.6" rx="2.4" ry="0.8" transform="rotate(138 495.4 927.6)" fill="#d4d9dd" stroke="#262626" stroke-width="0.6"/><ellipse cx="499.2" cy="920.9" rx="2.2" ry="1.1" transform="rotate(157 499.2 920.9)" fill="#d4d9dd" stroke="#262626" stroke-width="0.6"/><ellipse cx="553.9" cy="970.9" rx="1.6" ry="1.4" transform="rotate(24 553.9 970.9)" fill="#d4d9dd" stroke="#262626" stroke-width="0.6"/><ellipse cx="502.5" cy="932.4" rx="2.8" ry="0.8" transform="rotate(118 502.5 932.4)" fill="#d4d9dd" stroke="#262626" stroke-width="0.6"/><ellipse cx="537.4" cy="960.3" rx="1.0" ry="1.5" transform="rotate(56 537.4 960.3)" fill="#d4d9dd" stroke="#262626" stroke-width="0.6"/><ellipse cx="548.9" cy="965.2" rx="1.8" ry="1.4" transform="rotate(122 548.9 965.2)" fill="#d4d9dd" stroke="#262626" stroke-width="0.6"/><ellipse cx="500.7" cy="920.2" rx="2.0" ry="1.3" transform="rotate(111 500.7 920.2)" fill="#d4d9dd" stroke="#262626" stroke-width="0.6"/><ellipse cx="537.2" cy="966.7" rx="1.9" ry="0.7" transform="rotate(142 537.2 966.7)" fill="#d4d9dd" stroke="#262626" stroke-width="0.6"/><ellipse cx="540.2" cy="960.2" rx="1.1" ry="1.1" transform="rotate(86 540.2 960.2)" fill="#d4d9dd" stroke="#262626" stroke-width="0.6"/><ellipse cx="487.1" cy="896.8" rx="2.8" ry="1.4" transform="rotate(43 487.1 896.8)" fill="#d4d9dd" stroke="#262626" stroke-width="0.6"/><ellipse cx="545.8" cy="964.3" rx="1.7" ry="1.2" transform="rotate(41 545.8 964.3)" fill="#d4d9dd" stroke="#262626" stroke-width="0.6"/><ellipse cx="490.2" cy="918.1" rx="2.2" ry="1.2" transform="rotate(134 490.2 918.1)" fill="#d4d9dd" stroke="#262626" stroke-width="0.6"/><ellipse cx="509.0" cy="941.3" rx="1.6" ry="1.3" transform="rotate(67 509.0 941.3)" fill="#d4d9dd" stroke="#262626" stroke-width="0.6"/><ellipse cx="520.4" cy="947.9" rx="1.8" ry="1.3" transform="rotate(11 520.4 947.9)" fill="#d4d9dd" stroke="#262626" stroke-width="0.6"/><ellipse cx="496.8" cy="910.0" rx="1.3" ry="0.7" transform="rotate(3 496.8 910.0)" fill="#d4d9dd" stroke="#262626" stroke-width="0.6"/><ellipse cx="533.0" cy="965.7" rx="1.9" ry="1.0" transform="rotate(145 533.0 965.7)" fill="#d4d9dd" stroke="#262626" stroke-width="0.6"/><ellipse cx="507.5" cy="937.9" rx="1.1" ry="1.4" transform="rotate(138 507.5 937.9)" fill="#d4d9dd" stroke="#262626" stroke-width="0.6"/><ellipse cx="523.6" cy="949.8" rx="2.2" ry="1.3" transform="rotate(153 523.6 949.8)" fill="#d4d9dd" stroke="#262626" stroke-width="0.6"/><ellipse cx="515.7" cy="955.7" rx="2.6" ry="1.6" transform="rotate(36 515.7 955.7)" fill="#d4d9dd" stroke="#262626" stroke-width="0.6"/><ellipse cx="486.9" cy="888.7" rx="1.2" ry="1.0" transform="rotate(16 486.9 888.7)" fill="#d4d9dd" stroke="#262626" stroke-width="0.6"/><ellipse cx="487.3" cy="911.7" rx="1.8" ry="0.9" transform="rotate(131 487.3 911.7)" fill="#d4d9dd" stroke="#262626" stroke-width="0.6"/><ellipse cx="498.2" cy="930.7" rx="2.8" ry="1.5" transform="rotate(124 498.2 930.7)" fill="#d4d9dd" stroke="#262626" stroke-width="0.6"/><ellipse cx="490.8" cy="908.1" rx="1.9" ry="1.0" transform="rotate(5 490.8 908.1)" fill="#d4d9dd" stroke="#262626" stroke-width="0.6"/><ellipse cx="508.0" cy="933.7" rx="2.3" ry="1.4" transform="rotate(123 508.0 933.7)" fill="#d4d9dd" stroke="#262626" stroke-width="0.6"/><ellipse cx="539.4" cy="959.5" rx="2.7" ry="1.4" transform="rotate(75 539.4 959.5)" fill="#d4d9dd" stroke="#262626" stroke-width="0.6"/><ellipse cx="525.6" cy="954.3" rx="2.6" ry="1.3" transform="rotate(80 525.6 954.3)" fill="#d4d9dd" stroke="#262626" stroke-width="0.6"/><ellipse cx="489.7" cy="905.2" rx="1.5" ry="1.3" transform="rotate(138 489.7 905.2)" fill="#d4d9dd" stroke="#262626" stroke-width="0.6"/><ellipse cx="491.6" cy="903.8" rx="2.6" ry="1.0" transform="rotate(17 491.6 903.8)" fill="#d4d9dd" stroke="#262626" stroke-width="0.6"/><ellipse cx="517.6" cy="951.9" rx="1.3" ry="0.9" transform="rotate(1 517.6 951.9)" fill="#d4d9dd" stroke="#262626" stroke-width="0.6"/><ellipse cx="489.9" cy="898.9" rx="1.2" ry="0.7" transform="rotate(99 489.9 898.9)" fill="#d4d9dd" stroke="#262626" stroke-width="0.6"/><ellipse cx="563.9" cy="967.6" rx="1.6" ry="1.5" transform="rotate(14 563.9 967.6)" fill="#d4d9dd" stroke="#262626" stroke-width="0.6"/><ellipse cx="486.2" cy="902.4" rx="1.1" ry="1.2" transform="rotate(136 486.2 902.4)" fill="#d4d9dd" stroke="#262626" stroke-width="0.6"/><ellipse cx="510.1" cy="935.7" rx="1.9" ry="1.5" transform="rotate(109 510.1 935.7)" fill="#d4d9dd" stroke="#262626" stroke-width="0.6"/><ellipse cx="509.5" cy="946.8" rx="1.8" ry="1.1" transform="rotate(148 509.5 946.8)" fill="#d4d9dd" stroke="#262626" stroke-width="0.6"/><ellipse cx="490.1" cy="910.6" rx="2.5" ry="0.7" transform="rotate(97 490.1 910.6)" fill="#d4d9dd" stroke="#262626" stroke-width="0.6"/><ellipse cx="593.3" cy="149.7" rx="2.2" ry="0.7" transform="rotate(169 593.3 149.7)" fill="#d4d9dd" stroke="#262626" stroke-width="0.6"/><ellipse cx="593.4" cy="150.8" rx="1.2" ry="1.2" transform="rotate(78 593.4 150.8)" fill="#d4d9dd" stroke="#262626" stroke-width="0.6"/><ellipse cx="615.9" cy="189.8" rx="0.9" ry="1.1" transform="rotate(115 615.9 189.8)" fill="#d4d9dd" stroke="#262626" stroke-width="0.6"/><ellipse cx="602.5" cy="174.0" rx="1.0" ry="0.8" transform="rotate(9 602.5 174.0)" fill="#d4d9dd" stroke="#262626" stroke-width="0.6"/><ellipse cx="615.0" cy="216.2" rx="2.0" ry="0.9" transform="rotate(37 615.0 216.2)" fill="#d4d9dd" stroke="#262626" stroke-width="0.6"/><ellipse cx="613.0" cy="238.8" rx="0.9" ry="1.0" transform="rotate(75 613.0 238.8)" fill="#d4d9dd" stroke="#262626" stroke-width="0.6"/><ellipse cx="614.4" cy="219.2" rx="1.0" ry="1.1" transform="rotate(168 614.4 219.2)" fill="#d4d9dd" stroke="#262626" stroke-width="0.6"/><ellipse cx="621.2" cy="234.2" rx="2.1" ry="0.7" transform="rotate(5 621.2 234.2)" fill="#d4d9dd" stroke="#262626" stroke-width="0.6"/><ellipse cx="614.6" cy="215.1" rx="2.0" ry="1.0" transform="rotate(50 614.6 215.1)" fill="#d4d9dd" stroke="#262626" stroke-width="0.6"/><ellipse cx="574.8" cy="245.0" rx="2.2" ry="0.5" transform="rotate(75 574.8 245.0)" fill="#d4d9dd" stroke="#262626" stroke-width="0.6"/><ellipse cx="537.0" cy="260.1" rx="1.8" ry="1.2" transform="rotate(145 537.0 260.1)" fill="#d4d9dd" stroke="#262626" stroke-width="0.6"/><ellipse cx="575.1" cy="243.8" rx="2.2" ry="1.0" transform="rotate(62 575.1 243.8)" fill="#d4d9dd" stroke="#262626" stroke-width="0.6"/><ellipse cx="13.3" cy="196.4" rx="1.3" ry="0.8" transform="rotate(38 13.3 196.4)" fill="#d4d9dd" stroke="#262626" stroke-width="0.6"/><ellipse cx="89.8" cy="173.4" rx="0.9" ry="0.9" transform="rotate(19 89.8 173.4)" fill="#d4d9dd" stroke="#262626" stroke-width="0.6"/><ellipse cx="150.3" cy="153.5" rx="1.9" ry="1.1" transform="rotate(90 150.3 153.5)" fill="#d4d9dd" stroke="#262626" stroke-width="0.6"/><ellipse cx="136.8" cy="157.7" rx="1.8" ry="0.8" transform="rotate(42 136.8 157.7)" fill="#d4d9dd" stroke="#262626" stroke-width="0.6"/><ellipse cx="183.3" cy="149.2" rx="1.3" ry="1.1" transform="rotate(66 183.3 149.2)" fill="#d4d9dd" stroke="#262626" stroke-width="0.6"/><ellipse cx="129.2" cy="159.4" rx="2.0" ry="0.7" transform="rotate(9 129.2 159.4)" fill="#d4d9dd" stroke="#262626" stroke-width="0.6"/><defs><clipPath id="landclip"><polygon points="5.0,195.0 26.0,188.0 44.0,183.0 60.0,179.4 75.0,174.9 89.9,168.9 100.4,164.4 109.4,158.4 118.3,153.2 109.4,156.9 103.4,154.7 97.4,155.4 88.4,157.7 89.9,155.4 97.4,149.4 103.4,144.2 98.9,146.5 86.9,148.0 86.9,144.2 95.9,143.5 89.9,142.0 91.4,137.5 104.9,130.0 113.0,128.0 128.0,124.0 138.5,121.5 143.6,117.7 138.5,118.5 123.0,119.0 118.0,115.0 120.5,111.0 143.6,108.7 156.0,107.4 161.5,105.0 152.6,101.0 151.3,93.3 154.0,92.0 185.0,84.4 205.0,80.5 223.0,77.4 238.5,81.0 264.0,85.0 280.0,86.0 288.0,87.5 296.5,91.0 314.0,86.0 334.0,84.0 344.0,82.5 348.0,87.5 359.0,85.0 374.0,87.5 384.0,90.0 394.2,95.1 404.4,96.8 413.0,98.5 414.7,103.6 419.8,95.1 433.5,93.4 445.5,95.1 452.3,93.4 455.0,98.0 464.6,96.2 469.4,101.9 477.1,97.1 484.8,90.4 495.4,86.5 505.0,86.5 506.9,92.3 505.0,95.2 508.8,93.3 512.7,90.4 516.5,91.3 518.5,101.0 524.2,98.1 531.9,90.4 535.8,86.5 545.0,85.6 551.0,87.0 551.0,92.0 543.0,100.0 530.0,106.0 523.7,109.5 514.6,109.6 501.2,113.5 486.7,117.3 474.2,123.1 466.0,125.0 458.5,134.1 445.6,143.1 436.7,153.3 434.1,157.2 439.2,157.2 440.5,163.6 435.4,168.7 445.6,167.4 455.9,171.3 466.2,180.3 481.5,180.3 480.3,189.2 475.1,196.9 473.8,207.2 481.5,209.7 486.7,205.9 494.4,184.1 503.3,180.3 514.9,175.1 521.3,166.2 518.7,157.2 526.4,149.5 529.0,143.1 531.5,135.4 538.0,131.0 543.1,130.0 554.1,131.9 565.3,136.7 570.0,149.0 567.0,157.4 562.0,162.6 574.0,157.4 580.0,154.0 592.5,147.5 595.0,162.5 600.0,175.0 607.5,185.0 617.0,190.0 618.6,196.0 614.0,202.0 612.6,205.0 594.7,209.4 590.0,211.7 576.9,214.6 567.3,214.1 553.8,214.1 548.1,215.6 538.5,222.3 528.8,229.0 514.4,238.7 516.0,239.0 529.0,231.0 540.0,224.0 553.0,221.0 558.7,223.3 555.8,230.0 548.1,230.0 543.3,229.0 550.0,233.8 551.9,238.7 555.8,241.5 561.5,242.5 566.3,241.1 574.0,237.7 576.9,242.5 571.2,247.3 562.5,249.2 551.9,254.0 544.2,258.8 538.5,261.7 536.5,256.9 540.4,252.1 546.0,248.5 540.4,247.3 531.7,250.2 521.2,255.0 512.5,259.8 503.8,268.5 499.0,275.3 492.6,279.3 480.8,282.2 472.0,289.6 466.2,294.0 460.3,299.8 457.4,308.6 454.5,318.9 448.6,324.7 438.4,332.0 426.6,339.4 419.3,346.7 418.0,354.0 416.5,367.4 417.0,382.7 413.1,393.0 409.7,391.3 406.2,379.3 402.8,370.8 396.0,360.5 385.7,357.1 372.1,357.1 366.9,363.9 363.5,355.4 358.4,357.1 346.4,358.8 332.7,360.5 324.2,363.9 312.2,372.5 307.1,382.7 303.7,396.4 302.0,415.2 305.4,428.9 312.2,439.1 324.2,442.6 334.4,439.1 341.3,432.3 348.1,423.8 358.4,420.3 368.6,420.3 366.9,428.9 361.8,437.4 356.7,451.1 352.2,459.7 355.4,460.8 363.0,459.7 369.4,458.7 384.4,467.3 383.4,480.1 381.2,489.8 379.1,496.3 383.4,504.9 386.6,508.1 395.2,505.9 405.9,505.9 413.4,509.2 418.8,514.5 427.5,517.5 432.5,510.0 430.0,501.4 434.3,497.1 438.5,496.0 446.0,492.8 452.4,488.5 457.8,486.4 458.8,488.5 456.7,490.7 456.2,496.0 457.8,500.3 459.9,497.1 462.0,493.9 466.3,491.8 465.3,488.5 466.9,487.5 468.5,491.8 474.9,492.8 478.0,497.1 485.6,498.2 492.0,499.2 498.4,502.4 504.8,498.2 511.2,496.0 517.6,496.0 515.0,500.0 518.8,505.0 522.5,511.2 530.0,517.5 540.0,525.0 550.0,530.0 560.0,532.5 570.0,533.8 580.0,540.0 585.0,547.5 590.0,560.0 591.4,569.0 584.0,578.0 575.0,586.2 584.0,584.5 590.0,590.0 598.0,591.0 603.0,584.0 609.4,579.4 619.8,585.4 625.8,591.4 624.3,597.4 631.8,592.9 643.8,595.9 657.2,597.4 667.7,603.4 679.7,610.9 684.1,612.3 687.1,622.8 687.1,631.8 684.1,640.8 678.2,649.7 670.7,657.2 664.7,667.7 663.2,679.7 662.5,687.5 663.0,704.1 659.5,718.1 654.2,732.2 645.4,739.2 631.4,742.7 620.8,749.8 610.3,758.5 611.2,769.1 612.1,779.6 606.8,788.4 601.5,795.4 598.0,804.2 591.0,813.0 587.5,821.8 580.4,825.3 569.9,823.6 561.1,820.0 566.0,828.0 571.6,834.1 575.1,839.4 573.4,848.2 561.1,855.2 547.0,855.2 550.0,865.0 540.0,870.0 535.0,873.8 540.0,882.5 545.0,880.0 547.5,882.5 542.5,892.5 535.0,902.5 533.8,907.5 545.0,915.0 547.5,920.0 542.5,927.5 540.0,935.0 537.5,942.5 540.0,947.5 545.0,950.0 557.5,957.5 572.5,966.2 565.0,970.0 555.0,970.0 540.0,967.5 522.5,960.0 510.0,950.0 500.0,935.0 495.0,922.5 490.0,905.0 487.5,892.5 485.0,877.5 480.0,862.5 477.5,845.0 478.0,830.0 477.0,800.0 475.0,775.0 472.5,750.0 472.5,725.0 470.0,705.0 455.0,697.5 440.0,687.5 428.9,677.1 420.0,662.0 409.4,636.7 402.0,624.8 394.5,617.3 393.0,606.8 397.5,603.8 399.0,593.4 394.5,585.9 399.0,572.4 406.5,563.5 415.4,550.0 417.5,535.0 416.2,525.0 412.5,520.0 405.0,517.5 397.5,517.5 386.6,513.4 382.3,514.5 374.8,509.2 369.4,504.9 366.2,499.5 365.1,493.0 360.8,485.5 355.4,480.1 347.9,478.0 341.5,475.9 334.0,472.6 327.5,467.3 320.0,460.8 305.0,465.0 289.4,456.3 273.8,450.0 258.1,440.6 251.9,431.3 253.4,423.4 250.3,409.4 242.5,396.9 236.3,387.5 231.6,375.0 223.8,362.5 222.2,351.6 217.5,346.1 212.8,346.9 212.0,351.6 214.4,360.9 217.5,373.4 222.2,389.1 223.8,403.1 228.4,409.4 230.0,407.8 225.3,401.6 217.5,396.9 215.9,387.5 211.3,378.1 205.0,373.4 204.2,362.5 203.4,350.0 203.4,339.1 198.8,331.3 190.9,326.6 187.8,315.6 186.3,300.0 187.5,290.0 193.7,270.3 199.5,263.5 208.0,253.0 215.2,243.0 217.1,239.1 220.0,227.3 219.5,224.0 214.4,216.3 213.1,211.2 219.5,206.0 218.2,196.0 218.2,188.4 211.9,180.8 211.9,168.0 211.9,160.5 209.3,151.6 208.0,149.0 200.0,146.5 191.6,145.0 187.1,142.0 176.7,139.0 167.7,140.5 155.7,145.0 139.3,152.4 131.8,155.4 109.4,162.9 89.9,171.9 75.0,176.4 60.0,180.9 44.0,185.0 25.0,190.0"/><polygon points="651.3,37.5 656.4,34.9 671.8,32.4 687.2,27.2 695.7,24.7 719.7,20.4 726.5,17.8 729.9,20.4 726.5,24.7 736.8,20.4 750.4,17.0 771.0,16.4 786.0,13.9 813.0,11.3 851.0,11.3 876.0,13.9 892.0,18.9 929.0,19.7 922.0,24.0 902.0,25.0 897.0,30.0 892.0,40.0 887.0,50.0 881.0,60.0 871.0,68.0 851.0,71.0 864.0,76.0 871.0,83.0 866.0,91.0 836.0,88.0 841.0,93.0 816.0,101.0 806.0,106.0 786.0,113.5 776.0,118.5 763.0,123.5 750.0,134.0 740.0,146.0 733.0,159.0 720.0,156.0 710.0,151.0 703.0,137.0 700.0,121.0 699.0,108.6 700.3,95.0 706.7,92.0 710.5,95.9 716.8,93.3 721.9,85.7 717.9,80.2 709.4,73.4 706.0,64.8 702.6,56.3 695.7,51.2 682.1,49.4 668.4,51.2 658.1,49.4 651.3,44.3"/><polygon points="523.2,78.4 531.8,69.8 545.5,64.7 562.6,62.1 579.7,63.0 593.3,66.4 607.0,75.0 615.0,82.2 618.2,90.3 626.2,96.7 632.6,103.1 629.4,107.9 618.2,109.5 615.0,115.9 605.4,107.9 602.2,112.7 608.6,119.1 605.4,125.5 597.4,138.3 589.4,131.9 579.7,127.1 570.1,122.3 563.7,119.1 554.1,119.1 546.1,117.5 549.3,114.3 560.5,113.5 570.1,107.9 579.7,104.7 586.2,106.3 584.6,99.9 579.7,91.9 570.1,87.1 558.9,85.4 550.9,83.8 542.9,85.4 533.3,85.4 525.3,83.8"/><polygon points="497.0,125.0 505.0,118.0 514.0,113.0 522.0,111.0 530.0,113.0 528.0,121.0 522.0,126.0 510.0,127.5 502.0,127.0"/><polygon points="366.8,72.0 377.1,67.7 390.8,60.0 402.7,58.3 418.1,60.0 426.7,66.0 411.3,67.7 399.3,72.9 385.6,76.3 373.7,78.0 370.3,75.4"/><polygon points="394.2,76.3 399.3,71.2 416.4,67.7 428.4,66.9 440.3,67.7 445.5,66.0 450.6,67.7 455.7,64.3 462.6,62.6 469.4,63.5 466.0,69.4 459.1,76.3 462.6,83.1 455.7,90.0 442.1,91.7 431.8,95.1 419.8,90.0 402.7,93.4 390.8,88.2 392.5,84.8 402.7,83.1 394.2,79.7"/><polygon points="413.0,48.9 428.4,44.7 442.1,43.0 452.3,42.1 455.7,46.4 462.6,48.9 472.8,46.4 479.7,48.9 484.8,51.5 479.7,54.9 469.4,55.8 455.7,56.6 442.1,58.3 433.5,55.8 425.0,52.4 414.7,50.6"/><polygon points="465.1,40.8 475.4,36.5 487.4,35.6 488.2,39.1 477.1,42.5 466.8,43.3"/><polygon points="506.2,35.6 514.7,32.2 526.7,33.9 528.4,38.2 518.1,40.8 507.9,39.1"/><polygon points="533.0,37.0 539.0,35.0 546.0,37.0 545.0,41.0 538.0,42.0 533.0,40.0"/><polygon points="552.3,28.8 562.6,23.7 579.7,22.8 583.1,20.3 605.3,17.7 620.0,17.5 660.0,15.0 700.0,17.5 680.0,22.5 660.0,27.5 635.0,32.5 620.0,40.0 605.3,45.9 589.9,49.3 579.7,46.8 569.4,42.5 555.7,37.4 550.6,32.2"/><polygon points="528.4,45.9 540.3,44.2 555.7,46.8 571.1,49.3 586.5,51.9 589.9,55.3 579.7,57.9 562.6,57.9 545.5,57.0 535.2,52.7"/><polygon points="492.5,49.3 501.0,47.6 516.4,46.8 519.8,51.0 511.3,54.4 502.7,55.3"/><polygon points="460.0,51.0 470.3,46.8 483.9,50.2 478.8,55.3 466.8,55.3"/><polygon points="475.2,68.3 485.8,63.5 505.0,61.5 506.9,66.3 501.2,73.1 493.5,76.0 483.8,76.9 476.2,72.1"/><polygon points="507.9,69.2 514.6,62.5 528.1,60.6 534.8,62.5 528.1,67.3 516.5,71.2"/><polygon points="486.7,83.7 493.5,76.9 505.0,73.1 508.8,78.8 506.9,85.6 499.2,88.5 491.5,87.5"/><polygon points="466.5,91.3 478.1,85.6 483.8,88.5 478.1,96.2 469.4,98.1"/><polygon points="507.0,132.0 512.0,128.5 518.7,128.0 517.0,132.0 511.0,134.0"/><polygon points="523.0,135.0 526.0,132.0 529.0,131.5 527.0,135.0 524.0,136.7"/><polygon points="498.0,173.0 503.0,171.0 507.0,172.0 503.0,175.0"/><polygon points="584.2,231.9 591.7,225.9 602.2,215.4 609.7,208.0 614.1,206.5 617.1,220.0 621.6,227.4 620.1,234.9 614.1,237.9 606.7,234.9 597.7,233.4 588.7,233.4"/><polygon points="561.8,216.9 567.0,216.0 573.8,219.5 572.0,221.4 565.0,220.0"/><polygon points="211.9,211.2 220.8,212.5 228.4,221.4 230.9,225.2 225.8,226.4 218.2,221.4 213.1,216.3"/><polygon points="205.0,190.0 211.0,187.0 214.0,188.0 210.0,194.0 206.0,201.0 203.0,199.0"/><polygon points="113.8,164.4 122.0,161.0 136.3,158.0 134.0,162.0 120.0,166.5"/><polygon points="72.0,124.0 80.0,122.0 84.0,124.0 78.0,126.0"/><polygon points="381.1,417.3 387.1,411.3 393.9,408.7 399.1,407.9 410.0,408.0 419.6,413.0 426.4,418.1 435.0,423.2 445.2,427.5 446.9,430.1 438.4,430.1 426.4,431.8 424.7,427.5 421.3,423.2 414.4,421.5 404.0,418.0 392.2,414.7 383.7,417.3"/><polygon points="452.0,431.8 458.9,430.1 463.2,435.2 465.7,438.6 472.6,438.6 479.4,439.5 482.0,443.8 476.0,444.6 469.1,443.8 463.2,446.3 460.6,442.0 453.8,441.2 443.5,442.0 446.1,440.3 455.5,437.8 453.8,435.2"/><polygon points="418.7,442.0 428.1,442.9 431.5,444.6 424.7,445.5 419.6,444.6"/><polygon points="488.5,441.5 497.5,441.5 498.5,444.0 496.0,445.5 489.0,445.3"/><polygon points="585.4,578.0 591.4,573.5 600.4,576.5 601.9,582.4 595.9,588.0 586.9,585.5"/><polygon points="589.0,948.0 594.0,947.0 598.0,949.0 602.0,948.5 601.0,952.0 596.0,953.5 590.0,952.0"/><polygon points="327.0,574.0 330.0,572.5 331.0,576.0 328.0,577.0"/><polygon points="333.0,577.0 336.0,578.0 335.0,581.0 332.0,580.0"/><polygon points="515.0,497.0 519.0,495.5 520.0,499.0 516.0,500.0"/></clipPath></defs><g clip-path="url(#landclip)"><polyline points="209.1,150.3 213.5,150.9 216.9,153.8 221.0,155.7" fill="none" stroke="#262626" stroke-width="0.8" stroke-linejoin="round"/><polyline points="209.5,152.7 211.9,152.9 214.1,153.7 216.4,153.0" fill="none" stroke="#262626" stroke-width="0.8" stroke-linejoin="round"/><polyline points="210.0,154.8 216.0,155.8 221.1,152.4" fill="none" stroke="#262626" stroke-width="0.8" stroke-linejoin="round"/><polyline points="210.2,156.0 212.5,158.6 214.1,161.7 216.3,164.3" fill="none" stroke="#262626" stroke-width="0.8" stroke-linejoin="round"/><polyline points="210.8,158.9 213.6,160.3 216.5,161.7 219.3,163.0 221.8,165.0" fill="none" stroke="#262626" stroke-width="0.8" stroke-linejoin="round"/><polyline points="211.1,160.4 211.9,161.5 213.1,161.8 214.2,162.6 215.1,163.5" fill="none" stroke="#262626" stroke-width="0.8" stroke-linejoin="round"/><polyline points="211.5,162.4 214.0,164.3 215.6,166.9 218.1,168.8 219.8,171.4" fill="none" stroke="#262626" stroke-width="0.8" stroke-linejoin="round"/><polyline points="211.8,164.2 213.2,166.4 215.1,168.2 216.9,170.1" fill="none" stroke="#262626" stroke-width="0.8" stroke-linejoin="round"/><polyline points="212.1,165.9 214.0,167.4 216.3,168.3 217.9,170.2" fill="none" stroke="#262626" stroke-width="0.8" stroke-linejoin="round"/><polyline points="212.3,169.4 215.2,168.3 218.3,168.0 221.2,166.9 224.0,165.6" fill="none" stroke="#262626" stroke-width="0.8" stroke-linejoin="round"/><polyline points="212.4,170.8 213.7,170.7 214.9,170.3 216.2,169.8 217.5,169.5" fill="none" stroke="#262626" stroke-width="0.8" stroke-linejoin="round"/><polyline points="212.4,172.2 215.8,170.7 219.4,170.2" fill="none" stroke="#262626" stroke-width="0.8" stroke-linejoin="round"/><polyline points="212.6,174.3 214.7,175.7 216.0,177.9 217.6,179.8 219.4,181.6" fill="none" stroke="#262626" stroke-width="0.8" stroke-linejoin="round"/><polyline points="212.8,177.3 214.6,178.6 216.7,179.1 218.2,180.7 220.3,181.5" fill="none" stroke="#262626" stroke-width="0.8" stroke-linejoin="round"/><polyline points="212.9,179.8 215.3,179.1 217.7,179.1 220.2,179.0 222.6,178.6" fill="none" stroke="#262626" stroke-width="0.8" stroke-linejoin="round"/><polyline points="213.0,180.6 215.5,181.0 217.9,181.9 220.1,183.3 222.5,184.4" fill="none" stroke="#262626" stroke-width="0.8" stroke-linejoin="round"/><polyline points="214.0,182.7 215.7,182.6 217.4,182.5 218.8,181.5 220.5,181.5" fill="none" stroke="#262626" stroke-width="0.8" stroke-linejoin="round"/><polyline points="215.1,184.7 217.9,184.1 220.3,182.3" fill="none" stroke="#262626" stroke-width="0.8" stroke-linejoin="round"/><polyline points="215.6,185.8 219.2,183.3 222.9,181.1 227.1,180.2" fill="none" stroke="#262626" stroke-width="0.8" stroke-linejoin="round"/><polyline points="216.5,187.3 218.7,188.8 221.0,189.8 223.6,190.0" fill="none" stroke="#262626" stroke-width="0.8" stroke-linejoin="round"/><polyline points="217.6,189.4 220.4,189.8 222.2,192.0 224.7,193.3" fill="none" stroke="#262626" stroke-width="0.8" stroke-linejoin="round"/><polyline points="218.1,191.1 223.4,192.7 228.3,195.1" fill="none" stroke="#262626" stroke-width="0.8" stroke-linejoin="round"/><polyline points="218.2,192.7 221.7,193.6 225.3,194.0 228.9,193.4 232.1,195.2" fill="none" stroke="#262626" stroke-width="0.8" stroke-linejoin="round"/><polyline points="218.4,196.3 220.5,194.8 223.0,194.7 225.6,194.9 228.1,194.8" fill="none" stroke="#262626" stroke-width="0.8" stroke-linejoin="round"/><polyline points="218.5,197.5 224.7,197.6 230.2,194.8" fill="none" stroke="#262626" stroke-width="0.8" stroke-linejoin="round"/><polyline points="218.6,200.4 220.5,201.2 222.0,202.5 223.9,203.3 225.4,204.6" fill="none" stroke="#262626" stroke-width="0.8" stroke-linejoin="round"/><polyline points="218.8,202.4 221.4,201.8 224.1,202.0 226.8,202.4 229.6,202.5" fill="none" stroke="#262626" stroke-width="0.8" stroke-linejoin="round"/><polyline points="218.9,203.9 221.3,202.7 223.9,202.5" fill="none" stroke="#262626" stroke-width="0.8" stroke-linejoin="round"/><polyline points="219.0,205.6 220.6,204.8 222.2,204.3 223.5,203.1 225.1,202.7" fill="none" stroke="#262626" stroke-width="0.8" stroke-linejoin="round"/><polyline points="218.2,207.3 220.8,207.3 223.3,206.7 225.5,205.3" fill="none" stroke="#262626" stroke-width="0.8" stroke-linejoin="round"/><polyline points="217.1,209.0 219.7,209.1 221.9,207.9 224.5,207.9" fill="none" stroke="#262626" stroke-width="0.8" stroke-linejoin="round"/><polyline points="215.8,211.2 220.4,212.9 225.0,214.6" fill="none" stroke="#262626" stroke-width="0.8" stroke-linejoin="round"/><polyline points="215.3,212.0 217.3,212.9 219.4,213.5 221.4,214.5" fill="none" stroke="#262626" stroke-width="0.8" stroke-linejoin="round"/><polyline points="214.0,214.1 216.1,214.4 218.2,214.5 220.3,214.3 222.4,214.2" fill="none" stroke="#262626" stroke-width="0.8" stroke-linejoin="round"/><polyline points="215.3,216.6 217.9,217.5 220.5,218.3 223.1,219.2" fill="none" stroke="#262626" stroke-width="0.8" stroke-linejoin="round"/><polyline points="215.8,217.6 219.5,218.1 222.7,220.0 225.9,221.9" fill="none" stroke="#262626" stroke-width="0.8" stroke-linejoin="round"/><polyline points="217.3,220.5 219.3,221.1 221.5,220.8 223.6,220.2 225.7,220.5" fill="none" stroke="#262626" stroke-width="0.8" stroke-linejoin="round"/><polyline points="218.0,222.1 220.5,222.8 222.6,224.3" fill="none" stroke="#262626" stroke-width="0.8" stroke-linejoin="round"/><polyline points="218.9,223.8 220.5,224.5 222.2,224.8 223.9,225.2 225.5,225.6" fill="none" stroke="#262626" stroke-width="0.8" stroke-linejoin="round"/><polyline points="219.8,225.5 221.0,227.1 222.5,228.4 223.7,230.0" fill="none" stroke="#262626" stroke-width="0.8" stroke-linejoin="round"/><polyline points="703.2,57.6 706.8,53.7 709.6,49.2" fill="none" stroke="#262626" stroke-width="0.9" stroke-linejoin="round"/><polyline points="703.8,59.1 708.4,57.3 713.1,55.5" fill="none" stroke="#262626" stroke-width="0.9" stroke-linejoin="round"/><polyline points="704.0,59.7 705.7,59.8 707.4,59.4 709.1,58.7 710.8,59.0" fill="none" stroke="#262626" stroke-width="0.9" stroke-linejoin="round"/><polyline points="704.8,62.0 708.0,63.3 711.4,64.1 714.6,65.2" fill="none" stroke="#262626" stroke-width="0.9" stroke-linejoin="round"/><polyline points="705.7,64.3 709.5,63.4 713.1,62.2" fill="none" stroke="#262626" stroke-width="0.9" stroke-linejoin="round"/><polyline points="705.9,64.8 707.8,64.5 709.4,63.5 711.3,63.6 713.2,63.5" fill="none" stroke="#262626" stroke-width="0.9" stroke-linejoin="round"/><polyline points="707.0,67.4 709.6,67.8 711.6,69.4 713.6,71.0 716.2,70.9" fill="none" stroke="#262626" stroke-width="0.9" stroke-linejoin="round"/><polyline points="707.7,69.1 709.8,68.3 712.0,67.5 714.2,67.2 716.4,66.9" fill="none" stroke="#262626" stroke-width="0.9" stroke-linejoin="round"/><polyline points="708.5,70.9 711.2,70.0 714.1,70.1 717.0,69.8" fill="none" stroke="#262626" stroke-width="0.9" stroke-linejoin="round"/><polyline points="709.0,72.0 710.4,73.5 711.9,75.1 713.6,76.4 715.2,77.8" fill="none" stroke="#262626" stroke-width="0.9" stroke-linejoin="round"/><polyline points="710.0,73.5 711.4,74.0 712.8,74.5 714.2,75.1 715.7,75.5" fill="none" stroke="#262626" stroke-width="0.9" stroke-linejoin="round"/><polyline points="711.7,74.9 713.6,74.6 715.0,73.4 716.9,73.4 718.7,73.3" fill="none" stroke="#262626" stroke-width="0.9" stroke-linejoin="round"/><polyline points="713.4,76.2 715.9,77.1 718.6,76.6" fill="none" stroke="#262626" stroke-width="0.9" stroke-linejoin="round"/><polyline points="714.3,77.0 716.5,77.4 718.6,78.0 720.2,79.5 721.6,81.2" fill="none" stroke="#262626" stroke-width="0.9" stroke-linejoin="round"/><polyline points="715.0,77.6 720.1,78.3 725.2,78.2" fill="none" stroke="#262626" stroke-width="0.9" stroke-linejoin="round"/><polyline points="717.3,79.4 719.5,79.7 721.0,81.5" fill="none" stroke="#262626" stroke-width="0.9" stroke-linejoin="round"/><polyline points="718.2,80.3 719.4,80.6 720.3,81.3 721.5,81.8 722.7,82.0" fill="none" stroke="#262626" stroke-width="0.9" stroke-linejoin="round"/><polyline points="719.8,82.7 721.4,82.1 722.8,81.1 724.2,80.3" fill="none" stroke="#262626" stroke-width="0.9" stroke-linejoin="round"/><polyline points="720.1,83.2 722.0,82.9 723.8,82.6 725.6,82.6 727.5,82.3" fill="none" stroke="#262626" stroke-width="0.9" stroke-linejoin="round"/><polyline points="721.7,85.6 725.6,83.4 730.1,83.6" fill="none" stroke="#262626" stroke-width="0.9" stroke-linejoin="round"/><polyline points="721.2,86.9 723.2,87.6 724.9,88.7" fill="none" stroke="#262626" stroke-width="0.9" stroke-linejoin="round"/><polyline points="720.4,87.8 722.5,88.3 724.3,89.3 726.3,90.0" fill="none" stroke="#262626" stroke-width="0.9" stroke-linejoin="round"/><polyline points="719.8,88.6 722.5,85.7 724.9,82.5" fill="none" stroke="#262626" stroke-width="0.9" stroke-linejoin="round"/><polyline points="718.4,90.2 720.2,90.0 722.0,89.9 723.4,88.7 724.9,87.9" fill="none" stroke="#262626" stroke-width="0.9" stroke-linejoin="round"/><polyline points="717.2,91.7 719.1,92.2 721.1,91.9 723.2,91.9 725.2,92.1" fill="none" stroke="#262626" stroke-width="0.9" stroke-linejoin="round"/><polyline points="716.3,92.7 718.3,92.2 720.1,91.1" fill="none" stroke="#262626" stroke-width="0.9" stroke-linejoin="round"/><polyline points="714.4,93.0 716.5,93.0 718.5,93.6" fill="none" stroke="#262626" stroke-width="0.9" stroke-linejoin="round"/><polyline points="711.9,93.0 714.9,93.8 717.8,94.8" fill="none" stroke="#262626" stroke-width="0.9" stroke-linejoin="round"/><polyline points="710.6,93.0 715.4,92.4 719.4,89.7" fill="none" stroke="#262626" stroke-width="0.9" stroke-linejoin="round"/><polyline points="708.4,93.0 711.9,91.5 715.2,89.5" fill="none" stroke="#262626" stroke-width="0.9" stroke-linejoin="round"/><polyline points="707.3,93.0 709.7,90.4 713.2,89.7 715.9,87.2" fill="none" stroke="#262626" stroke-width="0.9" stroke-linejoin="round"/><polyline points="705.8,93.5 707.6,91.1 710.2,90.0 713.0,88.9" fill="none" stroke="#262626" stroke-width="0.9" stroke-linejoin="round"/><polyline points="704.5,96.5 705.9,96.2 707.4,96.5 708.8,96.1" fill="none" stroke="#262626" stroke-width="0.9" stroke-linejoin="round"/><polyline points="704.1,97.2 707.3,98.1 710.2,99.7" fill="none" stroke="#262626" stroke-width="0.9" stroke-linejoin="round"/><polyline points="703.5,98.6 706.6,100.0 709.8,100.4" fill="none" stroke="#262626" stroke-width="0.9" stroke-linejoin="round"/><polyline points="702.8,100.3 704.2,99.4 705.7,99.0 707.1,98.2" fill="none" stroke="#262626" stroke-width="0.9" stroke-linejoin="round"/><polyline points="702.1,101.8 704.1,102.8 706.2,103.0 707.9,104.4 710.0,104.3" fill="none" stroke="#262626" stroke-width="0.9" stroke-linejoin="round"/><polyline points="701.2,104.1 702.4,105.4 703.9,106.6 705.2,107.9 706.6,109.1" fill="none" stroke="#262626" stroke-width="0.9" stroke-linejoin="round"/><polyline points="700.5,105.6 702.4,105.5 704.2,105.6 706.1,105.7" fill="none" stroke="#262626" stroke-width="0.9" stroke-linejoin="round"/><polyline points="699.9,106.9 704.4,106.4 708.5,108.3" fill="none" stroke="#262626" stroke-width="0.9" stroke-linejoin="round"/><polyline points="699.1,108.7 702.4,107.5 705.4,105.7" fill="none" stroke="#262626" stroke-width="0.9" stroke-linejoin="round"/><polyline points="698.4,111.6 699.7,112.0 700.8,113.0 701.8,113.9" fill="none" stroke="#262626" stroke-width="0.9" stroke-linejoin="round"/><polyline points="698.1,112.7 699.9,112.3 701.8,111.8 703.3,110.6 704.6,109.2" fill="none" stroke="#262626" stroke-width="0.9" stroke-linejoin="round"/><polyline points="697.7,114.1 700.9,112.0 704.4,110.6" fill="none" stroke="#262626" stroke-width="0.9" stroke-linejoin="round"/><polyline points="697.2,116.2 699.6,117.5 702.3,118.2 704.7,119.5 707.0,120.9" fill="none" stroke="#262626" stroke-width="0.9" stroke-linejoin="round"/><polyline points="696.8,117.9 701.2,116.7 705.5,115.2" fill="none" stroke="#262626" stroke-width="0.9" stroke-linejoin="round"/><polyline points="696.8,120.2 700.3,120.4 703.7,121.2 707.0,122.5" fill="none" stroke="#262626" stroke-width="0.9" stroke-linejoin="round"/><polyline points="697.3,122.3 698.5,122.5 699.5,123.0 700.6,123.3 701.6,123.8" fill="none" stroke="#262626" stroke-width="0.9" stroke-linejoin="round"/><polyline points="697.8,124.2 699.8,122.3 702.4,121.1 704.3,119.1" fill="none" stroke="#262626" stroke-width="0.9" stroke-linejoin="round"/><polyline points="697.9,124.6 700.2,124.5 702.5,124.2" fill="none" stroke="#262626" stroke-width="0.9" stroke-linejoin="round"/><polyline points="698.7,127.6 701.0,126.6 702.5,124.5 704.8,123.4 706.9,122.0" fill="none" stroke="#262626" stroke-width="0.9" stroke-linejoin="round"/><polyline points="698.8,128.1 700.9,127.1 702.9,125.7 704.9,124.3 706.4,122.5" fill="none" stroke="#262626" stroke-width="0.9" stroke-linejoin="round"/><polyline points="699.8,130.7 703.4,130.1 706.9,130.9 709.9,132.9" fill="none" stroke="#262626" stroke-width="0.9" stroke-linejoin="round"/><polyline points="700.6,132.2 702.8,132.8 705.1,132.4 707.4,132.9 709.7,132.5" fill="none" stroke="#262626" stroke-width="0.9" stroke-linejoin="round"/><polyline points="701.7,134.4 704.1,133.0 706.8,132.4 709.5,132.4" fill="none" stroke="#262626" stroke-width="0.9" stroke-linejoin="round"/><polyline points="702.3,135.5 703.7,135.6 705.1,135.1 706.5,134.6" fill="none" stroke="#262626" stroke-width="0.9" stroke-linejoin="round"/><polyline points="702.9,136.8 703.9,135.9 704.6,134.8 705.7,134.0" fill="none" stroke="#262626" stroke-width="0.9" stroke-linejoin="round"/><polyline points="703.7,138.4 704.8,139.1 706.0,138.8 707.1,139.3 708.3,139.3" fill="none" stroke="#262626" stroke-width="0.9" stroke-linejoin="round"/><polyline points="704.5,140.4 707.7,140.8 710.5,142.2 713.7,142.6" fill="none" stroke="#262626" stroke-width="0.9" stroke-linejoin="round"/><polyline points="704.9,141.3 708.2,143.8 711.8,145.7" fill="none" stroke="#262626" stroke-width="0.9" stroke-linejoin="round"/><polyline points="705.7,143.2 708.4,142.8 710.9,141.3" fill="none" stroke="#262626" stroke-width="0.9" stroke-linejoin="round"/><polyline points="706.2,144.5 709.1,144.7 712.0,145.2 714.8,145.6" fill="none" stroke="#262626" stroke-width="0.9" stroke-linejoin="round"/><polyline points="707.0,146.6 708.9,148.3 710.6,150.1 713.0,151.0" fill="none" stroke="#262626" stroke-width="0.9" stroke-linejoin="round"/><polyline points="707.9,148.8 713.2,148.8 718.1,146.9" fill="none" stroke="#262626" stroke-width="0.9" stroke-linejoin="round"/><polyline points="709.5,149.9 714.3,148.6 717.8,145.1" fill="none" stroke="#262626" stroke-width="0.9" stroke-linejoin="round"/><polyline points="711.1,151.0 713.1,150.2 715.2,150.4 717.3,150.7 719.3,150.2" fill="none" stroke="#262626" stroke-width="0.9" stroke-linejoin="round"/><polyline points="712.5,151.8 714.7,153.2 716.9,154.8 719.3,156.0 721.4,157.6" fill="none" stroke="#262626" stroke-width="0.9" stroke-linejoin="round"/><polyline points="713.4,152.4 716.2,152.3 719.0,152.7 721.7,152.5" fill="none" stroke="#262626" stroke-width="0.9" stroke-linejoin="round"/><polyline points="715.9,153.9 718.3,151.3 720.8,148.8" fill="none" stroke="#262626" stroke-width="0.9" stroke-linejoin="round"/><polyline points="717.7,154.7 720.0,154.3 722.3,153.7" fill="none" stroke="#262626" stroke-width="0.9" stroke-linejoin="round"/><polyline points="719.0,155.3 722.4,156.2 725.9,156.3" fill="none" stroke="#262626" stroke-width="0.9" stroke-linejoin="round"/><polyline points="720.3,155.9 722.6,156.6 724.2,158.4 726.6,158.7" fill="none" stroke="#262626" stroke-width="0.9" stroke-linejoin="round"/><polyline points="721.3,156.3 722.8,155.4 724.1,154.1 725.4,152.9" fill="none" stroke="#262626" stroke-width="0.9" stroke-linejoin="round"/><polyline points="723.9,157.5 726.4,155.8 728.8,154.0 731.6,152.8" fill="none" stroke="#262626" stroke-width="0.9" stroke-linejoin="round"/><polyline points="724.7,157.8 726.0,157.1 727.4,156.9 728.9,157.1" fill="none" stroke="#262626" stroke-width="0.9" stroke-linejoin="round"/><polyline points="726.7,158.3 729.8,157.8 732.7,156.7 735.7,157.6" fill="none" stroke="#262626" stroke-width="0.9" stroke-linejoin="round"/><polyline points="728.7,158.7 731.3,158.9 733.8,159.0 736.3,159.0 738.7,159.9" fill="none" stroke="#262626" stroke-width="0.9" stroke-linejoin="round"/><polyline points="731.4,159.3 734.6,158.4 737.8,157.8 741.1,158.3" fill="none" stroke="#262626" stroke-width="0.9" stroke-linejoin="round"/><polyline points="732.2,159.4 733.9,158.2 735.1,156.6 736.6,155.3 738.2,154.0" fill="none" stroke="#262626" stroke-width="0.9" stroke-linejoin="round"/><polyline points="734.5,159.9 737.3,159.5 740.2,159.0" fill="none" stroke="#262626" stroke-width="0.9" stroke-linejoin="round"/><polyline points="896.7,30.5 894.6,30.9 892.4,31.1 890.2,31.3 888.0,30.9" fill="none" stroke="#262626" stroke-width="0.9" stroke-linejoin="round"/><polyline points="895.3,33.4 893.3,34.2 891.1,34.4 889.0,35.3 886.9,35.8" fill="none" stroke="#262626" stroke-width="0.9" stroke-linejoin="round"/><polyline points="894.5,34.9 892.3,34.1 890.0,34.0 888.1,32.5 885.8,32.2" fill="none" stroke="#262626" stroke-width="0.9" stroke-linejoin="round"/><polyline points="892.5,39.1 890.8,38.5 889.3,37.6 887.9,36.5" fill="none" stroke="#262626" stroke-width="0.9" stroke-linejoin="round"/><polyline points="891.6,40.8 888.8,41.3 886.0,40.6 883.2,40.0 880.7,41.3" fill="none" stroke="#262626" stroke-width="0.9" stroke-linejoin="round"/><polyline points="891.1,41.8 889.6,40.2 888.2,38.5 886.3,37.5" fill="none" stroke="#262626" stroke-width="0.9" stroke-linejoin="round"/><polyline points="889.2,45.6 886.2,45.3 883.4,44.1 880.5,43.5" fill="none" stroke="#262626" stroke-width="0.9" stroke-linejoin="round"/><polyline points="887.9,48.2 886.0,46.2 884.0,44.3 881.5,43.1 879.3,41.5" fill="none" stroke="#262626" stroke-width="0.9" stroke-linejoin="round"/><polyline points="887.2,49.6 885.9,49.0 884.5,48.6 883.1,48.6 881.7,48.9" fill="none" stroke="#262626" stroke-width="0.9" stroke-linejoin="round"/><polyline points="885.5,52.5 880.5,55.7 876.4,60.0" fill="none" stroke="#262626" stroke-width="0.9" stroke-linejoin="round"/><polyline points="884.9,53.4 880.5,50.7 876.5,47.4" fill="none" stroke="#262626" stroke-width="0.9" stroke-linejoin="round"/><polyline points="883.5,55.8 880.5,55.6 877.8,54.1 874.8,54.5" fill="none" stroke="#262626" stroke-width="0.9" stroke-linejoin="round"/><polyline points="882.6,57.3 878.1,58.1 874.7,61.2" fill="none" stroke="#262626" stroke-width="0.9" stroke-linejoin="round"/><polyline points="881.0,59.9 878.1,58.6 876.2,55.9 874.3,53.2" fill="none" stroke="#262626" stroke-width="0.9" stroke-linejoin="round"/><polyline points="878.8,61.7 876.9,61.0 874.9,60.7 872.9,61.3 871.1,60.5" fill="none" stroke="#262626" stroke-width="0.9" stroke-linejoin="round"/><polyline points="876.0,64.0 874.2,64.1 872.5,64.2 871.1,63.2 869.4,62.9" fill="none" stroke="#262626" stroke-width="0.9" stroke-linejoin="round"/><polyline points="874.5,65.2 873.3,65.5 872.0,65.8 870.8,65.8 869.6,66.4" fill="none" stroke="#262626" stroke-width="0.9" stroke-linejoin="round"/><polyline points="872.3,66.9 869.9,67.1 867.6,68.0 865.2,68.5" fill="none" stroke="#262626" stroke-width="0.9" stroke-linejoin="round"/><polyline points="870.5,68.6 867.8,71.4 864.6,73.6 861.2,75.5" fill="none" stroke="#262626" stroke-width="0.9" stroke-linejoin="round"/><polyline points="869.3,70.0 866.8,69.8 864.5,70.9 862.0,70.8" fill="none" stroke="#262626" stroke-width="0.9" stroke-linejoin="round"/><polyline points="867.9,71.5 866.1,69.6 863.6,68.5 861.1,67.7 859.3,65.7" fill="none" stroke="#262626" stroke-width="0.9" stroke-linejoin="round"/><polyline points="866.0,73.7 864.6,74.3 863.0,74.3 861.5,73.8 860.0,73.7" fill="none" stroke="#262626" stroke-width="0.9" stroke-linejoin="round"/><polyline points="864.4,75.6 859.5,73.4 855.4,70.0" fill="none" stroke="#262626" stroke-width="0.9" stroke-linejoin="round"/><polyline points="866.6,78.6 863.6,81.4 859.5,81.1" fill="none" stroke="#262626" stroke-width="0.9" stroke-linejoin="round"/><polyline points="867.4,79.4 863.8,79.6 860.4,78.2 856.9,79.2" fill="none" stroke="#262626" stroke-width="0.9" stroke-linejoin="round"/><polyline points="869.7,81.7 867.5,81.4 865.3,82.0 863.1,82.6 860.8,82.9" fill="none" stroke="#262626" stroke-width="0.9" stroke-linejoin="round"/><polyline points="870.9,83.2 867.0,82.2 863.6,80.4" fill="none" stroke="#262626" stroke-width="0.9" stroke-linejoin="round"/><polyline points="868.9,86.3 866.8,85.4 864.6,84.5 862.3,85.0 860.1,84.5" fill="none" stroke="#262626" stroke-width="0.9" stroke-linejoin="round"/><polyline points="867.6,88.5 864.4,88.3 861.4,87.1 858.3,86.1" fill="none" stroke="#262626" stroke-width="0.9" stroke-linejoin="round"/><polyline points="866.2,90.7 862.3,95.2 856.5,95.8" fill="none" stroke="#262626" stroke-width="0.9" stroke-linejoin="round"/><polyline points="865.9,88.0 864.7,87.2 864.5,85.8 863.7,84.5 863.2,83.2" fill="none" stroke="#262626" stroke-width="0.9" stroke-linejoin="round"/><polyline points="860.0,89.0 854.3,87.2 849.6,83.7" fill="none" stroke="#262626" stroke-width="0.9" stroke-linejoin="round"/><polyline points="853.1,90.1 852.0,86.4 853.2,82.6" fill="none" stroke="#262626" stroke-width="0.9" stroke-linejoin="round"/><polyline points="845.5,90.8 843.6,89.2 842.7,86.9 840.6,85.6" fill="none" stroke="#262626" stroke-width="0.9" stroke-linejoin="round"/><polyline points="843.8,90.6 843.2,86.1 840.9,82.2" fill="none" stroke="#262626" stroke-width="0.9" stroke-linejoin="round"/><polyline points="838.5,90.1 836.8,84.9 837.2,79.5" fill="none" stroke="#262626" stroke-width="0.9" stroke-linejoin="round"/><polyline points="832.6,92.7 830.6,89.7 827.6,87.9 825.4,85.1" fill="none" stroke="#262626" stroke-width="0.9" stroke-linejoin="round"/><polyline points="828.8,94.6 827.9,93.1 826.8,91.7 826.0,90.2" fill="none" stroke="#262626" stroke-width="0.9" stroke-linejoin="round"/><polyline points="823.6,97.2 823.8,94.0 822.6,90.9" fill="none" stroke="#262626" stroke-width="0.9" stroke-linejoin="round"/><polyline points="819.5,99.3 818.2,97.3 816.7,95.5 814.9,93.9 814.6,91.6" fill="none" stroke="#262626" stroke-width="0.9" stroke-linejoin="round"/><polyline points="813.8,102.1 814.0,98.2 813.4,94.4 814.0,90.5" fill="none" stroke="#262626" stroke-width="0.9" stroke-linejoin="round"/><polyline points="809.8,104.1 809.2,101.4 807.8,99.1 807.9,96.4" fill="none" stroke="#262626" stroke-width="0.9" stroke-linejoin="round"/><polyline points="804.7,106.5 801.6,101.9 798.4,97.3" fill="none" stroke="#262626" stroke-width="0.9" stroke-linejoin="round"/><polyline points="796.0,109.7 795.1,108.5 793.7,107.9 792.4,107.1 791.3,106.1" fill="none" stroke="#262626" stroke-width="0.9" stroke-linejoin="round"/><polyline points="792.8,110.9 791.3,108.8 789.5,106.9" fill="none" stroke="#262626" stroke-width="0.9" stroke-linejoin="round"/><polyline points="788.5,112.6 786.1,109.9 784.3,106.8 781.1,105.1" fill="none" stroke="#262626" stroke-width="0.9" stroke-linejoin="round"/><polyline points="762.6,19.7 767.2,18.5 771.6,17.0" fill="none" stroke="#262626" stroke-width="1.0" stroke-linejoin="round"/><polyline points="777.1,18.3 783.1,18.2 788.9,19.7" fill="none" stroke="#262626" stroke-width="1.0" stroke-linejoin="round"/><polyline points="785.1,17.5 789.9,19.6 794.7,17.7" fill="none" stroke="#262626" stroke-width="1.0" stroke-linejoin="round"/><polyline points="800.2,16.0 805.9,15.4 811.7,16.5" fill="none" stroke="#262626" stroke-width="1.0" stroke-linejoin="round"/><polyline points="812.2,15.8 821.0,20.5 831.0,21.1" fill="none" stroke="#262626" stroke-width="1.0" stroke-linejoin="round"/><polyline points="819.5,15.6 823.2,14.5 826.6,16.2 830.2,17.6" fill="none" stroke="#262626" stroke-width="1.0" stroke-linejoin="round"/><polyline points="832.4,15.4 835.2,16.5 838.2,16.6 841.0,17.9 844.1,17.7" fill="none" stroke="#262626" stroke-width="1.0" stroke-linejoin="round"/><polyline points="842.1,15.2 848.1,14.8 853.7,17.0" fill="none" stroke="#262626" stroke-width="1.0" stroke-linejoin="round"/><polyline points="848.9,15.0 851.8,15.5 854.6,16.3 857.3,17.2" fill="none" stroke="#262626" stroke-width="1.0" stroke-linejoin="round"/><polyline points="861.1,16.1 869.7,17.4 878.4,17.2" fill="none" stroke="#262626" stroke-width="1.0" stroke-linejoin="round"/><polyline points="872.6,17.3 876.0,17.9 879.1,19.6 882.6,18.8 886.0,18.0" fill="none" stroke="#262626" stroke-width="1.0" stroke-linejoin="round"/><polyline points="883.9,19.3 893.1,17.6 901.2,22.2" fill="none" stroke="#262626" stroke-width="1.0" stroke-linejoin="round"/><polyline points="557.5,37.8 559.2,34.9 561.8,32.7 562.8,29.5" fill="none" stroke="#262626" stroke-width="0.8" stroke-linejoin="round"/><polyline points="565.1,40.0 564.8,35.4 565.4,30.8" fill="none" stroke="#262626" stroke-width="0.8" stroke-linejoin="round"/><polyline points="566.7,40.5 569.4,35.0 571.0,29.1" fill="none" stroke="#262626" stroke-width="0.8" stroke-linejoin="round"/><polyline points="574.3,42.8 574.0,39.9 575.0,37.2 574.9,34.2 575.0,31.3" fill="none" stroke="#262626" stroke-width="0.8" stroke-linejoin="round"/><polyline points="578.8,43.5 579.3,41.8 579.1,40.0 579.0,38.3" fill="none" stroke="#262626" stroke-width="0.8" stroke-linejoin="round"/><polyline points="584.9,44.2 584.5,43.0 584.8,41.8 585.2,40.6 585.3,39.3" fill="none" stroke="#262626" stroke-width="0.8" stroke-linejoin="round"/><polyline points="593.1,45.2 592.0,42.8 592.0,40.2 591.1,37.8" fill="none" stroke="#262626" stroke-width="0.8" stroke-linejoin="round"/><polyline points="595.4,45.5 595.9,41.7 593.7,38.6" fill="none" stroke="#262626" stroke-width="0.8" stroke-linejoin="round"/><polyline points="601.8,45.5 602.0,42.2 601.4,39.0 602.3,35.8 603.6,32.8" fill="none" stroke="#262626" stroke-width="0.8" stroke-linejoin="round"/><polyline points="607.7,43.7 608.2,41.8 607.7,40.0 607.4,38.1" fill="none" stroke="#262626" stroke-width="0.8" stroke-linejoin="round"/><polyline points="612.3,42.3 613.9,40.0 614.4,37.3" fill="none" stroke="#262626" stroke-width="0.8" stroke-linejoin="round"/><polyline points="620.2,39.9 622.7,36.0 623.1,31.4 624.7,27.1" fill="none" stroke="#262626" stroke-width="0.8" stroke-linejoin="round"/><polyline points="624.1,38.6 624.9,36.9 626.4,35.9 627.0,34.1 628.0,32.5" fill="none" stroke="#262626" stroke-width="0.8" stroke-linejoin="round"/><polyline points="633.2,35.6 631.1,30.6 629.2,25.6" fill="none" stroke="#262626" stroke-width="0.8" stroke-linejoin="round"/><polyline points="638.3,33.9 636.9,30.2 636.0,26.3" fill="none" stroke="#262626" stroke-width="0.8" stroke-linejoin="round"/><polyline points="643.1,32.3 643.1,31.0 643.7,29.9 643.8,28.6 644.0,27.3" fill="none" stroke="#262626" stroke-width="0.8" stroke-linejoin="round"/><polyline points="649.9,30.0 650.4,26.8 649.4,23.6" fill="none" stroke="#262626" stroke-width="0.8" stroke-linejoin="round"/><polyline points="651.7,29.5 655.6,25.3 658.3,20.1" fill="none" stroke="#262626" stroke-width="0.8" stroke-linejoin="round"/><polyline points="659.0,27.5 657.3,25.2 657.9,22.4" fill="none" stroke="#262626" stroke-width="0.8" stroke-linejoin="round"/><polyline points="663.2,26.4 663.1,23.5 663.2,20.7 664.2,18.0 665.3,15.4" fill="none" stroke="#262626" stroke-width="0.8" stroke-linejoin="round"/><polyline points="668.2,25.0 669.2,22.9 669.5,20.6 671.0,18.8 671.2,16.5" fill="none" stroke="#262626" stroke-width="0.8" stroke-linejoin="round"/><polyline points="673.2,23.6 672.3,20.0 672.2,16.3" fill="none" stroke="#262626" stroke-width="0.8" stroke-linejoin="round"/><polyline points="681.7,21.3 683.0,14.5 684.8,7.9" fill="none" stroke="#262626" stroke-width="0.8" stroke-linejoin="round"/><polyline points="688.1,19.5 690.0,14.3 693.3,9.8" fill="none" stroke="#262626" stroke-width="0.8" stroke-linejoin="round"/><polyline points="416.3,50.9 416.5,48.1 418.1,45.7" fill="none" stroke="#262626" stroke-width="0.7" stroke-linejoin="round"/><polyline points="423.4,52.7 423.0,51.4 422.4,50.1 422.5,48.7 423.0,47.4" fill="none" stroke="#262626" stroke-width="0.7" stroke-linejoin="round"/><polyline points="429.6,54.3 429.6,53.2 428.9,52.4 428.8,51.3 428.3,50.3" fill="none" stroke="#262626" stroke-width="0.7" stroke-linejoin="round"/><polyline points="436.9,56.2 436.2,53.1 435.1,50.1" fill="none" stroke="#262626" stroke-width="0.7" stroke-linejoin="round"/><polyline points="442.7,56.8 441.8,54.7 441.4,52.4 440.5,50.3" fill="none" stroke="#262626" stroke-width="0.7" stroke-linejoin="round"/><polyline points="450.6,56.3 450.6,54.9 450.2,53.6 449.7,52.3 448.8,51.3" fill="none" stroke="#262626" stroke-width="0.7" stroke-linejoin="round"/><polyline points="460.0,55.7 459.8,54.3 459.2,53.0 459.4,51.6 459.9,50.3" fill="none" stroke="#262626" stroke-width="0.7" stroke-linejoin="round"/><polyline points="469.9,55.0 470.2,53.1 469.7,51.3 469.1,49.5" fill="none" stroke="#262626" stroke-width="0.7" stroke-linejoin="round"/><polyline points="471.8,54.5 472.0,53.4 471.8,52.3 471.3,51.4 471.4,50.3" fill="none" stroke="#262626" stroke-width="0.7" stroke-linejoin="round"/><polyline points="480.0,52.1 479.0,50.8 478.1,49.4 477.7,47.7" fill="none" stroke="#262626" stroke-width="0.7" stroke-linejoin="round"/><polyline points="396.5,91.9 397.5,88.8 398.6,85.8" fill="none" stroke="#262626" stroke-width="0.7" stroke-linejoin="round"/><polyline points="405.9,91.1 405.0,88.2 403.3,85.6" fill="none" stroke="#262626" stroke-width="0.7" stroke-linejoin="round"/><polyline points="408.4,90.9 409.3,90.0 410.2,89.1 411.0,88.1 411.0,86.8" fill="none" stroke="#262626" stroke-width="0.7" stroke-linejoin="round"/><polyline points="417.2,90.2 417.1,87.7 417.4,85.3 417.5,82.8" fill="none" stroke="#262626" stroke-width="0.7" stroke-linejoin="round"/><polyline points="419.9,90.0 420.0,88.2 419.8,86.4 419.6,84.6 419.4,82.8" fill="none" stroke="#262626" stroke-width="0.7" stroke-linejoin="round"/><polyline points="426.1,90.3 426.7,89.7 427.1,88.9 427.4,88.0 427.9,87.3" fill="none" stroke="#262626" stroke-width="0.7" stroke-linejoin="round"/><polyline points="430.9,90.5 430.1,87.4 429.1,84.4" fill="none" stroke="#262626" stroke-width="0.7" stroke-linejoin="round"/><polyline points="438.0,90.9 437.5,89.4 436.6,88.0 436.2,86.4" fill="none" stroke="#262626" stroke-width="0.7" stroke-linejoin="round"/><polyline points="443.2,90.8 442.3,89.7 441.8,88.4 441.5,87.0" fill="none" stroke="#262626" stroke-width="0.7" stroke-linejoin="round"/><polyline points="450.4,90.4 449.9,88.9 449.8,87.4" fill="none" stroke="#262626" stroke-width="0.7" stroke-linejoin="round"/><polyline points="457.0,88.8 456.6,87.6 456.7,86.3 456.8,85.0 456.8,83.6" fill="none" stroke="#262626" stroke-width="0.7" stroke-linejoin="round"/><polyline points="459.0,86.5 459.0,84.7 459.4,83.0 459.4,81.1 458.8,79.4" fill="none" stroke="#262626" stroke-width="0.7" stroke-linejoin="round"/><polyline points="469.5,92.1 470.3,89.0 471.1,85.8" fill="none" stroke="#262626" stroke-width="0.7" stroke-linejoin="round"/><polyline points="477.3,94.4 477.9,92.9 477.9,91.3 478.6,89.9 478.4,88.4" fill="none" stroke="#262626" stroke-width="0.7" stroke-linejoin="round"/><polyline points="482.7,95.9 483.9,94.9 484.9,93.8 485.3,92.3" fill="none" stroke="#262626" stroke-width="0.7" stroke-linejoin="round"/><polyline points="485.8,94.8 485.1,93.4 485.2,91.8 484.4,90.4 484.0,88.9" fill="none" stroke="#262626" stroke-width="0.7" stroke-linejoin="round"/><polyline points="491.7,92.3 492.8,91.0 492.8,89.4 493.6,88.0" fill="none" stroke="#262626" stroke-width="0.7" stroke-linejoin="round"/><polyline points="496.4,90.2 496.7,88.3 496.9,86.3 498.2,84.9" fill="none" stroke="#262626" stroke-width="0.7" stroke-linejoin="round"/><polyline points="499.3,89.0 499.7,87.1 499.8,85.1" fill="none" stroke="#262626" stroke-width="0.7" stroke-linejoin="round"/><polyline points="502.6,87.5 503.3,86.5 503.8,85.4 504.8,84.8" fill="none" stroke="#262626" stroke-width="0.7" stroke-linejoin="round"/><polyline points="535.4,46.2 534.5,47.5 534.5,49.0" fill="none" stroke="#262626" stroke-width="0.7" stroke-linejoin="round"/><polyline points="536.1,46.3 536.0,47.8 536.9,49.1 537.6,50.4 537.9,52.0" fill="none" stroke="#262626" stroke-width="0.7" stroke-linejoin="round"/><polyline points="545.5,46.5 545.4,48.6 545.5,50.6" fill="none" stroke="#262626" stroke-width="0.7" stroke-linejoin="round"/><polyline points="552.7,46.8 552.5,50.1 551.5,53.3" fill="none" stroke="#262626" stroke-width="0.7" stroke-linejoin="round"/><polyline points="562.4,47.4 561.8,48.9 560.8,50.2 560.1,51.6" fill="none" stroke="#262626" stroke-width="0.7" stroke-linejoin="round"/><polyline points="569.4,48.6 567.6,49.9 566.1,51.4 565.5,53.5" fill="none" stroke="#262626" stroke-width="0.7" stroke-linejoin="round"/><polyline points="577.9,50.1 578.1,51.4 577.6,52.7 577.6,54.1 576.9,55.2" fill="none" stroke="#262626" stroke-width="0.7" stroke-linejoin="round"/><polyline points="588.2,51.9 588.4,53.0 588.8,54.0 589.4,55.0 589.9,56.1" fill="none" stroke="#262626" stroke-width="0.7" stroke-linejoin="round"/><polyline points="524.6,77.4 525.8,78.8 525.7,80.6 525.9,82.3" fill="none" stroke="#262626" stroke-width="0.7" stroke-linejoin="round"/><polyline points="528.5,73.5 528.8,74.8 528.9,76.2 529.3,77.5" fill="none" stroke="#262626" stroke-width="0.7" stroke-linejoin="round"/><polyline points="532.0,70.0 531.5,72.0 531.1,74.0" fill="none" stroke="#262626" stroke-width="0.7" stroke-linejoin="round"/><polyline points="541.6,66.3 541.6,67.1 541.5,67.9 541.5,68.6 541.8,69.4" fill="none" stroke="#262626" stroke-width="0.7" stroke-linejoin="round"/><polyline points="546.1,64.8 546.1,65.7 546.0,66.5 546.3,67.3 546.8,68.0" fill="none" stroke="#262626" stroke-width="0.7" stroke-linejoin="round"/><polyline points="555.7,63.2 555.7,65.0 555.5,66.8 555.6,68.6 555.7,70.4" fill="none" stroke="#262626" stroke-width="0.7" stroke-linejoin="round"/><polyline points="558.6,62.7 559.1,64.6 558.9,66.5" fill="none" stroke="#262626" stroke-width="0.7" stroke-linejoin="round"/><polyline points="562.1,62.1 562.2,65.7 561.8,69.3" fill="none" stroke="#262626" stroke-width="0.7" stroke-linejoin="round"/><polyline points="571.4,62.5 571.7,64.0 572.1,65.5" fill="none" stroke="#262626" stroke-width="0.7" stroke-linejoin="round"/><polyline points="574.7,62.7 574.9,63.5 574.9,64.3 574.6,65.0 574.5,65.8" fill="none" stroke="#262626" stroke-width="0.7" stroke-linejoin="round"/><polyline points="584.8,64.1 585.8,67.5 587.4,70.7" fill="none" stroke="#262626" stroke-width="0.7" stroke-linejoin="round"/><polyline points="588.4,64.9 589.5,67.2 591.7,68.4" fill="none" stroke="#262626" stroke-width="0.7" stroke-linejoin="round"/><polyline points="211.0,150.4 214.6,158.2 221.6,163.0" fill="none" stroke="#262626" stroke-width="0.8" stroke-linejoin="round"/><polyline points="211.1,151.5 218.4,155.2 225.2,159.7" fill="none" stroke="#262626" stroke-width="0.8" stroke-linejoin="round"/><polyline points="211.3,152.6 214.4,154.6 217.0,157.3" fill="none" stroke="#262626" stroke-width="0.8" stroke-linejoin="round"/><polyline points="211.4,153.6 216.6,152.9 221.9,152.2 227.1,153.1" fill="none" stroke="#262626" stroke-width="0.8" stroke-linejoin="round"/><polyline points="211.5,154.8 215.9,156.5 220.5,157.2 225.2,157.9" fill="none" stroke="#262626" stroke-width="0.8" stroke-linejoin="round"/><polyline points="211.5,155.5 213.0,156.3 214.5,157.2 215.7,158.4 217.3,159.1" fill="none" stroke="#262626" stroke-width="0.8" stroke-linejoin="round"/><polyline points="211.6,156.1 214.2,158.0 216.2,160.6 218.5,162.8 220.7,165.2" fill="none" stroke="#262626" stroke-width="0.8" stroke-linejoin="round"/><polyline points="211.7,157.4 219.6,156.6 227.4,158.2" fill="none" stroke="#262626" stroke-width="0.8" stroke-linejoin="round"/><polyline points="211.9,158.8 215.6,161.4 220.0,162.2 224.3,163.5" fill="none" stroke="#262626" stroke-width="0.8" stroke-linejoin="round"/><polyline points="212.0,159.9 220.0,159.4 228.0,160.2" fill="none" stroke="#262626" stroke-width="0.8" stroke-linejoin="round"/><polyline points="212.0,160.7 214.6,159.5 217.5,159.2 220.3,159.6" fill="none" stroke="#262626" stroke-width="0.8" stroke-linejoin="round"/><polyline points="212.0,161.8 216.1,162.2 220.2,162.5 224.1,163.6" fill="none" stroke="#262626" stroke-width="0.8" stroke-linejoin="round"/><polyline points="212.0,162.4 213.4,167.4 217.1,170.9" fill="none" stroke="#262626" stroke-width="0.8" stroke-linejoin="round"/><polyline points="212.0,163.3 212.4,164.8 213.3,166.2 214.5,167.2 215.3,168.5" fill="none" stroke="#262626" stroke-width="0.8" stroke-linejoin="round"/><polyline points="212.0,164.5 218.8,161.4 226.0,163.1" fill="none" stroke="#262626" stroke-width="0.8" stroke-linejoin="round"/><polyline points="212.0,165.7 213.9,168.3 216.7,169.8" fill="none" stroke="#262626" stroke-width="0.8" stroke-linejoin="round"/><polyline points="212.0,166.4 219.2,171.5 227.7,173.6" fill="none" stroke="#262626" stroke-width="0.8" stroke-linejoin="round"/><polyline points="212.0,168.0 215.8,165.8 220.1,164.7 224.5,164.9 228.9,165.2" fill="none" stroke="#262626" stroke-width="0.8" stroke-linejoin="round"/><polyline points="212.0,168.2 213.1,170.2 214.6,171.9 216.5,173.3" fill="none" stroke="#262626" stroke-width="0.8" stroke-linejoin="round"/><polyline points="212.0,169.1 215.4,168.1 218.7,166.7" fill="none" stroke="#262626" stroke-width="0.8" stroke-linejoin="round"/><polyline points="212.1,170.8 216.7,169.8 221.4,169.4" fill="none" stroke="#262626" stroke-width="0.8" stroke-linejoin="round"/><polyline points="212.2,171.5 213.7,171.7 215.1,171.2 216.5,171.8 217.9,172.4" fill="none" stroke="#262626" stroke-width="0.8" stroke-linejoin="round"/><polyline points="212.2,172.2 217.1,175.3 221.8,178.4" fill="none" stroke="#262626" stroke-width="0.8" stroke-linejoin="round"/><polyline points="212.4,173.9 220.0,172.9 227.5,174.6" fill="none" stroke="#262626" stroke-width="0.8" stroke-linejoin="round"/><polyline points="212.5,175.0 220.4,173.5 227.5,177.2" fill="none" stroke="#262626" stroke-width="0.8" stroke-linejoin="round"/><polyline points="212.6,175.7 216.4,178.6 219.5,182.4 221.4,186.8" fill="none" stroke="#262626" stroke-width="0.8" stroke-linejoin="round"/><polyline points="212.7,176.8 216.1,176.0 219.5,176.6" fill="none" stroke="#262626" stroke-width="0.8" stroke-linejoin="round"/><polyline points="212.8,177.6 214.3,178.5 215.6,179.9 216.9,181.2 218.2,182.5" fill="none" stroke="#262626" stroke-width="0.8" stroke-linejoin="round"/><polyline points="212.8,178.2 213.7,180.3 214.4,182.4 215.3,184.5" fill="none" stroke="#262626" stroke-width="0.8" stroke-linejoin="round"/><polyline points="213.0,179.7 214.9,180.2 216.0,181.8 217.8,182.6 219.0,184.2" fill="none" stroke="#262626" stroke-width="0.8" stroke-linejoin="round"/><polyline points="220.7,226.8 224.4,229.5 226.7,233.4" fill="none" stroke="#262626" stroke-width="1.1" stroke-linejoin="round"/><polyline points="221.1,226.7 222.8,228.0 223.5,230.1 225.4,230.9 226.9,232.5" fill="none" stroke="#262626" stroke-width="1.1" stroke-linejoin="round"/><polyline points="222.7,226.3 224.5,229.8 226.9,232.9" fill="none" stroke="#262626" stroke-width="1.1" stroke-linejoin="round"/><polyline points="223.4,226.1 222.2,228.8 222.1,231.7" fill="none" stroke="#262626" stroke-width="1.1" stroke-linejoin="round"/><polyline points="224.6,225.9 223.4,229.7 222.8,233.7" fill="none" stroke="#262626" stroke-width="1.1" stroke-linejoin="round"/><polyline points="225.9,225.6 227.8,227.1 229.6,228.7 230.5,230.9 231.1,233.2" fill="none" stroke="#262626" stroke-width="1.1" stroke-linejoin="round"/><polyline points="226.9,225.4 226.2,228.7 226.4,232.0 226.7,235.3" fill="none" stroke="#262626" stroke-width="1.1" stroke-linejoin="round"/><polyline points="227.6,225.3 228.0,228.2 227.9,231.1 227.0,233.8" fill="none" stroke="#262626" stroke-width="1.1" stroke-linejoin="round"/><polyline points="228.2,225.2 227.0,228.5 226.7,232.0" fill="none" stroke="#262626" stroke-width="1.1" stroke-linejoin="round"/><polyline points="229.7,224.8 230.2,226.1 230.7,227.4 231.1,228.7 231.7,229.9" fill="none" stroke="#262626" stroke-width="1.1" stroke-linejoin="round"/><polyline points="230.4,224.5 230.2,226.0 230.3,227.5 229.7,228.9 230.0,230.4" fill="none" stroke="#262626" stroke-width="1.1" stroke-linejoin="round"/><polyline points="231.4,224.2 232.0,225.5 232.1,227.0 233.0,228.1" fill="none" stroke="#262626" stroke-width="1.1" stroke-linejoin="round"/><polyline points="471.7,289.9 470.2,288.6 468.9,287.2 467.1,286.6" fill="none" stroke="#262626" stroke-width="0.8" stroke-linejoin="round"/><polyline points="468.0,292.6 466.2,293.0 464.7,291.9" fill="none" stroke="#262626" stroke-width="0.8" stroke-linejoin="round"/><polyline points="467.1,293.3 465.7,292.1 464.2,291.3" fill="none" stroke="#262626" stroke-width="0.8" stroke-linejoin="round"/><polyline points="464.2,296.0 462.3,296.7 460.2,296.8 458.2,296.7" fill="none" stroke="#262626" stroke-width="0.8" stroke-linejoin="round"/><polyline points="463.9,296.2 460.6,295.5 457.4,296.6" fill="none" stroke="#262626" stroke-width="0.8" stroke-linejoin="round"/><polyline points="460.9,299.2 460.2,299.5 459.4,299.8 458.8,300.2 458.2,300.6" fill="none" stroke="#262626" stroke-width="0.8" stroke-linejoin="round"/><polyline points="459.7,301.6 458.3,300.2 457.0,298.8" fill="none" stroke="#262626" stroke-width="0.8" stroke-linejoin="round"/><polyline points="459.1,303.5 457.5,302.9 456.3,301.6 455.1,300.4 453.8,299.4" fill="none" stroke="#262626" stroke-width="0.8" stroke-linejoin="round"/><polyline points="458.5,305.1 457.4,305.0 456.2,304.7 455.0,304.6" fill="none" stroke="#262626" stroke-width="0.8" stroke-linejoin="round"/><polyline points="457.3,309.1 455.6,310.7 453.4,311.3" fill="none" stroke="#262626" stroke-width="0.8" stroke-linejoin="round"/><polyline points="456.6,311.5 455.8,311.7 455.2,312.1 454.5,312.4 453.8,312.6" fill="none" stroke="#262626" stroke-width="0.8" stroke-linejoin="round"/><polyline points="456.1,313.1 454.9,313.1 453.8,313.6 452.5,313.6" fill="none" stroke="#262626" stroke-width="0.8" stroke-linejoin="round"/><polyline points="455.2,316.3 453.2,316.3 451.4,317.1" fill="none" stroke="#262626" stroke-width="0.8" stroke-linejoin="round"/><polyline points="454.7,318.1 452.5,316.3 451.4,313.7" fill="none" stroke="#262626" stroke-width="0.8" stroke-linejoin="round"/><polyline points="486.1,880.6 489.1,880.3 492.1,879.8 495.1,880.1 498.1,880.2" fill="none" stroke="#262626" stroke-width="0.9" stroke-linejoin="round"/><polyline points="486.1,881.1 486.4,879.6 486.5,878.1 486.9,876.6" fill="none" stroke="#262626" stroke-width="0.9" stroke-linejoin="round"/><polyline points="486.2,882.3 486.3,880.9 487.2,879.8 487.6,878.5" fill="none" stroke="#262626" stroke-width="0.9" stroke-linejoin="round"/><polyline points="486.3,883.3 487.4,882.1 488.3,880.8 489.9,880.5" fill="none" stroke="#262626" stroke-width="0.9" stroke-linejoin="round"/><polyline points="486.4,883.7 489.6,883.5 492.3,885.1" fill="none" stroke="#262626" stroke-width="0.9" stroke-linejoin="round"/><polyline points="486.5,884.9 486.7,882.1 488.6,879.9 489.3,877.1 489.0,874.3" fill="none" stroke="#262626" stroke-width="0.9" stroke-linejoin="round"/><polyline points="486.6,885.7 487.8,881.1 490.2,877.0 490.2,872.2" fill="none" stroke="#262626" stroke-width="0.9" stroke-linejoin="round"/><polyline points="486.7,886.8 487.9,884.5 488.8,882.1 490.0,879.9" fill="none" stroke="#262626" stroke-width="0.9" stroke-linejoin="round"/><polyline points="486.8,887.7 488.8,888.8 491.1,888.8" fill="none" stroke="#262626" stroke-width="0.9" stroke-linejoin="round"/><polyline points="486.8,888.3 489.2,885.9 490.1,882.7 491.1,879.5" fill="none" stroke="#262626" stroke-width="0.9" stroke-linejoin="round"/><polyline points="486.9,889.0 491.5,883.4 496.2,877.9" fill="none" stroke="#262626" stroke-width="0.9" stroke-linejoin="round"/><polyline points="487.0,890.1 488.4,887.8 490.7,886.6 493.2,885.6" fill="none" stroke="#262626" stroke-width="0.9" stroke-linejoin="round"/><polyline points="487.3,891.4 489.5,890.9 491.7,891.1" fill="none" stroke="#262626" stroke-width="0.9" stroke-linejoin="round"/><polyline points="487.4,891.8 488.1,890.6 488.5,889.2 488.9,887.9 489.1,886.5" fill="none" stroke="#262626" stroke-width="0.9" stroke-linejoin="round"/><polyline points="487.5,892.4 489.0,891.2 490.3,889.9 492.2,890.0" fill="none" stroke="#262626" stroke-width="0.9" stroke-linejoin="round"/><polyline points="487.8,893.7 488.4,891.6 488.7,889.6 489.8,887.7 489.9,885.6" fill="none" stroke="#262626" stroke-width="0.9" stroke-linejoin="round"/><polyline points="488.1,894.9 491.8,895.3 494.9,893.5 498.6,893.5" fill="none" stroke="#262626" stroke-width="0.9" stroke-linejoin="round"/><polyline points="488.3,895.8 493.1,893.1 498.2,891.4" fill="none" stroke="#262626" stroke-width="0.9" stroke-linejoin="round"/><polyline points="488.3,895.9 489.4,894.0 490.7,892.3 491.1,890.2 491.5,888.1" fill="none" stroke="#262626" stroke-width="0.9" stroke-linejoin="round"/><polyline points="488.6,897.3 490.9,895.3 491.4,892.2 493.5,890.0" fill="none" stroke="#262626" stroke-width="0.9" stroke-linejoin="round"/><polyline points="488.8,898.0 490.7,897.6 492.7,897.6 494.7,897.7" fill="none" stroke="#262626" stroke-width="0.9" stroke-linejoin="round"/><polyline points="489.0,898.9 489.8,895.8 490.5,892.8 491.5,889.7" fill="none" stroke="#262626" stroke-width="0.9" stroke-linejoin="round"/><polyline points="489.1,899.6 490.1,895.9 493.1,893.4 495.5,890.3" fill="none" stroke="#262626" stroke-width="0.9" stroke-linejoin="round"/><polyline points="489.3,901.0 490.3,897.3 492.2,894.0" fill="none" stroke="#262626" stroke-width="0.9" stroke-linejoin="round"/><polyline points="489.3,901.4 490.3,899.9 491.5,898.6 492.1,897.0 493.1,895.6" fill="none" stroke="#262626" stroke-width="0.9" stroke-linejoin="round"/><polyline points="489.5,902.6 494.6,898.6 499.1,893.8" fill="none" stroke="#262626" stroke-width="0.9" stroke-linejoin="round"/><polyline points="489.6,903.7 493.1,902.7 495.2,899.8 497.7,897.2 501.1,895.8" fill="none" stroke="#262626" stroke-width="0.9" stroke-linejoin="round"/><polyline points="489.6,904.0 490.9,902.9 492.5,902.6 494.0,902.1" fill="none" stroke="#262626" stroke-width="0.9" stroke-linejoin="round"/><polyline points="489.8,905.2 491.4,903.8 493.6,903.7 495.1,902.1 497.1,901.2" fill="none" stroke="#262626" stroke-width="0.9" stroke-linejoin="round"/><polyline points="489.9,906.1 492.8,905.6 495.2,903.7" fill="none" stroke="#262626" stroke-width="0.9" stroke-linejoin="round"/><polyline points="490.0,906.8 489.1,903.7 490.6,900.8" fill="none" stroke="#262626" stroke-width="0.9" stroke-linejoin="round"/><polyline points="490.1,907.7 492.0,904.9 494.4,902.6 496.7,900.2" fill="none" stroke="#262626" stroke-width="0.9" stroke-linejoin="round"/><polyline points="490.2,908.4 491.9,904.0 493.2,899.6 494.5,895.1" fill="none" stroke="#262626" stroke-width="0.9" stroke-linejoin="round"/><polyline points="490.3,909.6 492.8,910.1 495.2,909.5 497.7,909.8 500.2,909.7" fill="none" stroke="#262626" stroke-width="0.9" stroke-linejoin="round"/><polyline points="490.4,910.4 495.1,909.3 499.9,908.7 504.8,908.1" fill="none" stroke="#262626" stroke-width="0.9" stroke-linejoin="round"/><polyline points="490.6,911.2 492.3,910.2 493.9,909.3 495.2,907.9" fill="none" stroke="#262626" stroke-width="0.9" stroke-linejoin="round"/><polyline points="491.0,911.9 489.8,905.1 492.1,898.6" fill="none" stroke="#262626" stroke-width="0.9" stroke-linejoin="round"/><polyline points="491.5,912.8 493.4,912.5 495.3,912.2 497.1,911.7 498.9,911.2" fill="none" stroke="#262626" stroke-width="0.9" stroke-linejoin="round"/><polyline points="492.1,913.9 496.2,914.6 500.2,914.1" fill="none" stroke="#262626" stroke-width="0.9" stroke-linejoin="round"/><polyline points="492.6,914.7 495.4,913.2 497.0,910.5 499.8,909.0" fill="none" stroke="#262626" stroke-width="0.9" stroke-linejoin="round"/><polyline points="492.7,914.8 493.8,913.9 494.7,912.9 495.8,911.9" fill="none" stroke="#262626" stroke-width="0.9" stroke-linejoin="round"/><polyline points="493.2,915.8 497.7,914.7 502.0,913.0" fill="none" stroke="#262626" stroke-width="0.9" stroke-linejoin="round"/><polyline points="493.6,916.4 493.7,914.1 494.5,912.0 495.0,909.7" fill="none" stroke="#262626" stroke-width="0.9" stroke-linejoin="round"/><polyline points="494.2,917.5 498.2,914.0 502.5,910.9" fill="none" stroke="#262626" stroke-width="0.9" stroke-linejoin="round"/><polyline points="494.5,918.0 497.1,916.6 499.6,915.1 501.9,913.3 504.7,912.4" fill="none" stroke="#262626" stroke-width="0.9" stroke-linejoin="round"/><polyline points="495.1,919.0 495.9,917.8 496.0,916.3 496.8,915.1" fill="none" stroke="#262626" stroke-width="0.9" stroke-linejoin="round"/><polyline points="495.3,919.5 497.5,919.2 499.7,919.2 501.8,919.1 504.0,918.6" fill="none" stroke="#262626" stroke-width="0.9" stroke-linejoin="round"/><polyline points="496.0,920.9 496.8,919.0 497.7,917.2 499.4,916.0 500.0,914.0" fill="none" stroke="#262626" stroke-width="0.9" stroke-linejoin="round"/><polyline points="496.3,921.6 499.3,919.1 501.8,916.2 503.9,912.9" fill="none" stroke="#262626" stroke-width="0.9" stroke-linejoin="round"/><polyline points="496.4,921.9 500.3,921.9 504.2,921.4 508.0,921.4" fill="none" stroke="#262626" stroke-width="0.9" stroke-linejoin="round"/><polyline points="496.7,922.6 500.6,918.0 503.9,913.0" fill="none" stroke="#262626" stroke-width="0.9" stroke-linejoin="round"/><polyline points="497.1,923.4 500.9,924.6 504.7,923.5 508.4,925.1" fill="none" stroke="#262626" stroke-width="0.9" stroke-linejoin="round"/><polyline points="497.5,924.4 500.0,925.5 502.5,926.8 505.2,927.5 508.0,927.6" fill="none" stroke="#262626" stroke-width="0.9" stroke-linejoin="round"/><polyline points="497.8,925.2 500.9,924.9 503.4,923.2" fill="none" stroke="#262626" stroke-width="0.9" stroke-linejoin="round"/><polyline points="498.2,925.9 498.8,921.9 497.9,917.9" fill="none" stroke="#262626" stroke-width="0.9" stroke-linejoin="round"/><polyline points="498.6,927.0 497.7,921.6 498.2,916.2" fill="none" stroke="#262626" stroke-width="0.9" stroke-linejoin="round"/><polyline points="499.0,927.9 501.2,921.1 504.3,914.6" fill="none" stroke="#262626" stroke-width="0.9" stroke-linejoin="round"/><polyline points="499.4,928.8 500.8,926.3 501.5,923.5 501.8,920.7 502.5,917.9" fill="none" stroke="#262626" stroke-width="0.9" stroke-linejoin="round"/><polyline points="499.9,929.8 503.2,931.2 506.7,931.5" fill="none" stroke="#262626" stroke-width="0.9" stroke-linejoin="round"/><polyline points="500.2,930.2 499.5,928.5 499.8,926.7 499.2,925.0" fill="none" stroke="#262626" stroke-width="0.9" stroke-linejoin="round"/><polyline points="500.5,930.8 501.8,927.5 502.6,924.1 504.7,921.3" fill="none" stroke="#262626" stroke-width="0.9" stroke-linejoin="round"/><polyline points="500.9,931.5 503.5,926.1 503.6,920.1" fill="none" stroke="#262626" stroke-width="0.9" stroke-linejoin="round"/><polyline points="501.7,932.8 502.0,929.8 501.6,926.8 502.5,923.8 502.6,920.8" fill="none" stroke="#262626" stroke-width="0.9" stroke-linejoin="round"/><polyline points="502.1,933.6 503.9,933.5 505.7,933.3 507.4,932.8 509.1,933.4" fill="none" stroke="#262626" stroke-width="0.9" stroke-linejoin="round"/><polyline points="502.5,934.3 505.4,931.1 508.5,928.2 511.6,925.2" fill="none" stroke="#262626" stroke-width="0.9" stroke-linejoin="round"/><polyline points="503.0,935.1 502.4,931.0 501.9,926.8" fill="none" stroke="#262626" stroke-width="0.9" stroke-linejoin="round"/><polyline points="503.3,935.7 506.3,932.0 510.6,929.9 515.4,929.4" fill="none" stroke="#262626" stroke-width="0.9" stroke-linejoin="round"/><polyline points="503.8,936.6 506.0,932.8 509.4,930.2" fill="none" stroke="#262626" stroke-width="0.9" stroke-linejoin="round"/><polyline points="504.0,936.9 508.2,935.2 512.5,933.9 516.9,932.7" fill="none" stroke="#262626" stroke-width="0.9" stroke-linejoin="round"/><polyline points="504.5,937.8 506.1,936.0 506.7,933.7 508.0,931.7" fill="none" stroke="#262626" stroke-width="0.9" stroke-linejoin="round"/><polyline points="505.1,938.6 505.1,937.0 505.7,935.6 505.2,934.1" fill="none" stroke="#262626" stroke-width="0.9" stroke-linejoin="round"/><polyline points="505.9,939.5 507.7,939.5 508.9,938.2 510.6,937.8 512.3,937.2" fill="none" stroke="#262626" stroke-width="0.9" stroke-linejoin="round"/><polyline points="506.4,940.2 509.1,939.8 511.8,939.4 514.5,939.3 517.1,938.8" fill="none" stroke="#262626" stroke-width="0.9" stroke-linejoin="round"/><polyline points="507.1,940.9 506.9,934.9 507.0,929.0" fill="none" stroke="#262626" stroke-width="0.9" stroke-linejoin="round"/><polyline points="507.2,941.1 509.8,938.6 512.5,936.3 516.1,936.0" fill="none" stroke="#262626" stroke-width="0.9" stroke-linejoin="round"/><polyline points="508.0,942.0 509.0,941.4 510.1,941.1 511.1,940.6 511.8,939.8" fill="none" stroke="#262626" stroke-width="0.9" stroke-linejoin="round"/><polyline points="508.8,943.0 509.5,941.9 510.0,940.8 510.8,939.8 511.3,938.7" fill="none" stroke="#262626" stroke-width="0.9" stroke-linejoin="round"/><polyline points="509.1,943.3 512.3,940.4 515.6,937.8" fill="none" stroke="#262626" stroke-width="0.9" stroke-linejoin="round"/><polyline points="509.7,943.9 514.9,941.4 518.8,937.0" fill="none" stroke="#262626" stroke-width="0.9" stroke-linejoin="round"/><polyline points="510.3,944.7 512.5,943.3 514.9,942.4" fill="none" stroke="#262626" stroke-width="0.9" stroke-linejoin="round"/><polyline points="510.8,945.3 511.9,944.3 513.1,943.8 514.3,943.0" fill="none" stroke="#262626" stroke-width="0.9" stroke-linejoin="round"/><polyline points="511.4,945.9 512.3,945.6 513.4,945.6 514.3,945.1 515.1,944.5" fill="none" stroke="#262626" stroke-width="0.9" stroke-linejoin="round"/><polyline points="512.0,946.7 513.6,946.0 514.9,945.1 516.3,944.2" fill="none" stroke="#262626" stroke-width="0.9" stroke-linejoin="round"/><polyline points="512.6,947.3 513.5,946.5 514.2,945.4 515.0,944.5 515.6,943.4" fill="none" stroke="#262626" stroke-width="0.9" stroke-linejoin="round"/><polyline points="513.5,948.2 519.3,945.6 525.6,946.7" fill="none" stroke="#262626" stroke-width="0.9" stroke-linejoin="round"/><polyline points="513.9,948.6 514.4,944.5 515.2,940.4 515.4,936.3" fill="none" stroke="#262626" stroke-width="0.9" stroke-linejoin="round"/><polyline points="514.6,949.3 520.9,947.7 527.1,945.9" fill="none" stroke="#262626" stroke-width="0.9" stroke-linejoin="round"/><polyline points="515.1,949.8 518.2,944.1 521.1,938.4" fill="none" stroke="#262626" stroke-width="0.9" stroke-linejoin="round"/><polyline points="515.7,950.4 516.4,945.7 519.7,942.3" fill="none" stroke="#262626" stroke-width="0.9" stroke-linejoin="round"/><polyline points="516.6,951.3 517.3,949.3 517.3,947.1" fill="none" stroke="#262626" stroke-width="0.9" stroke-linejoin="round"/><polyline points="517.0,951.7 516.8,948.1 516.4,944.5 515.9,940.9 514.4,937.6" fill="none" stroke="#262626" stroke-width="0.9" stroke-linejoin="round"/><polyline points="517.8,952.5 523.5,949.3 529.9,947.7" fill="none" stroke="#262626" stroke-width="0.9" stroke-linejoin="round"/><polyline points="518.5,953.2 520.4,953.2 521.9,952.2 523.6,951.4" fill="none" stroke="#262626" stroke-width="0.9" stroke-linejoin="round"/><polyline points="519.3,954.0 520.3,951.2 522.7,949.2 523.9,946.5" fill="none" stroke="#262626" stroke-width="0.9" stroke-linejoin="round"/><polyline points="519.7,954.4 520.8,949.8 520.4,945.1" fill="none" stroke="#262626" stroke-width="0.9" stroke-linejoin="round"/><polyline points="520.0,954.7 519.3,951.1 520.1,947.5 519.7,943.8 519.8,940.1" fill="none" stroke="#262626" stroke-width="0.9" stroke-linejoin="round"/><polyline points="520.8,955.5 522.0,952.4 524.1,950.0 525.0,946.9 526.2,943.8" fill="none" stroke="#262626" stroke-width="0.9" stroke-linejoin="round"/><polyline points="521.4,956.1 528.8,955.9 536.1,954.3" fill="none" stroke="#262626" stroke-width="0.9" stroke-linejoin="round"/><polyline points="522.1,956.5 525.1,950.7 529.6,945.8" fill="none" stroke="#262626" stroke-width="0.9" stroke-linejoin="round"/><polyline points="523.3,957.3 525.7,957.3 528.0,957.3 530.4,957.4" fill="none" stroke="#262626" stroke-width="0.9" stroke-linejoin="round"/><polyline points="523.6,957.5 526.4,956.3 529.4,955.3" fill="none" stroke="#262626" stroke-width="0.9" stroke-linejoin="round"/><polyline points="524.4,958.0 526.8,954.6 528.9,951.1" fill="none" stroke="#262626" stroke-width="0.9" stroke-linejoin="round"/><polyline points="525.4,958.6 528.7,958.7 532.0,958.4 535.3,958.3" fill="none" stroke="#262626" stroke-width="0.9" stroke-linejoin="round"/><polyline points="526.3,959.2 529.0,956.5 532.1,954.5 535.5,952.7" fill="none" stroke="#262626" stroke-width="0.9" stroke-linejoin="round"/><polyline points="526.9,959.6 528.1,956.3 528.8,952.8" fill="none" stroke="#262626" stroke-width="0.9" stroke-linejoin="round"/><polyline points="527.9,960.3 531.3,954.0 536.9,949.4" fill="none" stroke="#262626" stroke-width="0.9" stroke-linejoin="round"/><polyline points="528.0,960.4 532.1,960.0 536.1,959.0 540.1,958.4" fill="none" stroke="#262626" stroke-width="0.9" stroke-linejoin="round"/><polyline points="529.3,961.2 529.2,958.5 529.3,955.8 529.8,953.2 531.3,951.0" fill="none" stroke="#262626" stroke-width="0.9" stroke-linejoin="round"/><polyline points="529.8,961.5 533.5,958.3 538.2,956.9 543.1,956.6" fill="none" stroke="#262626" stroke-width="0.9" stroke-linejoin="round"/><polyline points="530.9,962.2 535.3,959.1 539.8,956.1" fill="none" stroke="#262626" stroke-width="0.9" stroke-linejoin="round"/><polyline points="531.5,962.6 532.7,955.3 534.4,948.1" fill="none" stroke="#262626" stroke-width="0.9" stroke-linejoin="round"/><polyline points="532.0,962.8 537.0,960.7 542.4,960.1" fill="none" stroke="#262626" stroke-width="0.9" stroke-linejoin="round"/><polyline points="532.7,963.1 535.4,962.2 538.1,961.5 540.7,960.4 542.9,958.6" fill="none" stroke="#262626" stroke-width="0.9" stroke-linejoin="round"/><polyline points="533.8,963.4 537.0,963.2 540.1,961.9 543.2,963.0" fill="none" stroke="#262626" stroke-width="0.9" stroke-linejoin="round"/><polyline points="534.5,963.7 535.4,961.0 536.3,958.2 536.2,955.4" fill="none" stroke="#262626" stroke-width="0.9" stroke-linejoin="round"/><polyline points="535.2,964.0 537.4,962.5 539.2,960.5 541.8,960.3 543.7,958.5" fill="none" stroke="#262626" stroke-width="0.9" stroke-linejoin="round"/><polyline points="536.4,964.4 537.0,962.9 538.0,961.7 538.1,960.1" fill="none" stroke="#262626" stroke-width="0.9" stroke-linejoin="round"/><polyline points="537.3,964.8 539.8,958.6 545.2,954.8" fill="none" stroke="#262626" stroke-width="0.9" stroke-linejoin="round"/><polyline points="537.7,964.9 540.1,961.9 542.2,958.7" fill="none" stroke="#262626" stroke-width="0.9" stroke-linejoin="round"/><polyline points="538.7,965.3 540.7,962.9 541.9,960.0 543.9,957.6 543.8,954.5" fill="none" stroke="#262626" stroke-width="0.9" stroke-linejoin="round"/><polyline points="539.3,965.5 539.4,963.9 540.4,962.7 541.5,961.6" fill="none" stroke="#262626" stroke-width="0.9" stroke-linejoin="round"/><polyline points="540.7,966.0 543.0,965.9 545.1,965.2 547.3,965.5" fill="none" stroke="#262626" stroke-width="0.9" stroke-linejoin="round"/><polyline points="541.2,966.2 544.9,964.9 546.6,961.5 550.0,959.6" fill="none" stroke="#262626" stroke-width="0.9" stroke-linejoin="round"/><polyline points="542.4,966.6 543.8,964.6 544.7,962.4 544.5,960.0" fill="none" stroke="#262626" stroke-width="0.9" stroke-linejoin="round"/><polyline points="542.9,966.8 544.3,967.0 545.6,967.3 547.0,967.4 548.4,967.1" fill="none" stroke="#262626" stroke-width="0.9" stroke-linejoin="round"/><polyline points="543.7,967.1 547.7,961.7 554.1,960.0" fill="none" stroke="#262626" stroke-width="0.9" stroke-linejoin="round"/><polyline points="544.5,967.3 546.2,961.6 547.2,955.7" fill="none" stroke="#262626" stroke-width="0.9" stroke-linejoin="round"/><polyline points="545.3,967.6 551.3,964.7 557.7,963.2" fill="none" stroke="#262626" stroke-width="0.9" stroke-linejoin="round"/><polyline points="546.7,968.1 548.0,968.1 549.1,967.2 550.4,967.0" fill="none" stroke="#262626" stroke-width="0.9" stroke-linejoin="round"/><polyline points="547.6,968.4 546.6,961.7 549.1,955.4" fill="none" stroke="#262626" stroke-width="0.9" stroke-linejoin="round"/><polyline points="547.7,968.4 549.8,969.5 552.2,970.1 554.6,970.3 556.9,969.5" fill="none" stroke="#262626" stroke-width="0.9" stroke-linejoin="round"/><polyline points="548.8,968.8 551.7,967.4 554.1,965.4 556.4,963.3 558.7,961.1" fill="none" stroke="#262626" stroke-width="0.9" stroke-linejoin="round"/><polyline points="549.5,969.0 552.4,969.1 555.0,967.9 557.9,968.2" fill="none" stroke="#262626" stroke-width="0.9" stroke-linejoin="round"/><polyline points="550.8,969.5 552.0,962.7 556.2,957.1" fill="none" stroke="#262626" stroke-width="0.9" stroke-linejoin="round"/><polyline points="551.9,969.8 552.7,967.9 553.9,966.1 554.5,964.0" fill="none" stroke="#262626" stroke-width="0.9" stroke-linejoin="round"/><polyline points="552.4,970.0 557.4,966.3 563.2,964.0" fill="none" stroke="#262626" stroke-width="0.9" stroke-linejoin="round"/><polyline points="553.5,970.3 557.0,964.4 559.1,957.9" fill="none" stroke="#262626" stroke-width="0.9" stroke-linejoin="round"/><polyline points="553.9,970.4 558.0,968.6 562.2,966.9" fill="none" stroke="#262626" stroke-width="0.9" stroke-linejoin="round"/><polyline points="554.5,970.6 555.3,968.7 556.8,967.4 557.9,965.7" fill="none" stroke="#262626" stroke-width="0.9" stroke-linejoin="round"/><polyline points="555.5,970.8 557.3,970.8 559.1,970.4 560.8,969.8 562.6,969.5" fill="none" stroke="#262626" stroke-width="0.9" stroke-linejoin="round"/><polyline points="556.5,971.0 561.0,969.9 564.0,966.4 567.9,963.8" fill="none" stroke="#262626" stroke-width="0.9" stroke-linejoin="round"/><polyline points="557.3,971.2 561.6,968.6 566.5,967.7" fill="none" stroke="#262626" stroke-width="0.9" stroke-linejoin="round"/><polyline points="558.0,971.3 558.7,969.4 559.6,967.5" fill="none" stroke="#262626" stroke-width="0.9" stroke-linejoin="round"/><polyline points="559.5,971.6 561.5,970.4 563.6,969.6" fill="none" stroke="#262626" stroke-width="0.9" stroke-linejoin="round"/><polyline points="560.4,971.8 564.3,968.6 568.8,966.4" fill="none" stroke="#262626" stroke-width="0.9" stroke-linejoin="round"/><polyline points="560.9,971.9 563.3,972.0 565.8,972.2 567.9,971.0 569.9,969.5" fill="none" stroke="#262626" stroke-width="0.9" stroke-linejoin="round"/><polyline points="562.2,972.2 562.8,971.2 563.7,970.4 564.2,969.3 565.1,968.4" fill="none" stroke="#262626" stroke-width="0.9" stroke-linejoin="round"/><polyline points="563.0,972.4 564.4,970.1 566.1,968.0 568.0,966.0" fill="none" stroke="#262626" stroke-width="0.9" stroke-linejoin="round"/><polyline points="563.3,972.5 562.2,968.1 564.0,964.0" fill="none" stroke="#262626" stroke-width="0.9" stroke-linejoin="round"/><polyline points="564.4,972.7 566.9,972.9 569.5,973.0 571.9,972.0" fill="none" stroke="#262626" stroke-width="0.9" stroke-linejoin="round"/><polyline points="594.3,147.6 592.2,149.2 589.9,150.5 587.3,150.9" fill="none" stroke="#262626" stroke-width="0.9" stroke-linejoin="round"/><polyline points="594.8,150.1 591.8,152.2 588.1,152.8" fill="none" stroke="#262626" stroke-width="0.9" stroke-linejoin="round"/><polyline points="595.1,151.6 593.9,152.3 592.6,152.4 591.2,152.4 589.8,152.3" fill="none" stroke="#262626" stroke-width="0.9" stroke-linejoin="round"/><polyline points="595.5,153.6 594.0,155.2 592.9,157.1 590.9,158.1" fill="none" stroke="#262626" stroke-width="0.9" stroke-linejoin="round"/><polyline points="596.0,155.9 593.5,157.3 590.9,158.5" fill="none" stroke="#262626" stroke-width="0.9" stroke-linejoin="round"/><polyline points="596.1,156.5 595.5,156.0 594.7,155.8 594.0,155.3 593.2,155.3" fill="none" stroke="#262626" stroke-width="0.9" stroke-linejoin="round"/><polyline points="596.7,159.6 595.0,158.1 592.8,158.4 590.7,158.1 588.6,157.3" fill="none" stroke="#262626" stroke-width="0.9" stroke-linejoin="round"/><polyline points="597.0,161.1 595.7,162.1 594.9,163.5 593.5,164.4 592.5,165.6" fill="none" stroke="#262626" stroke-width="0.9" stroke-linejoin="round"/><polyline points="597.4,162.9 594.6,163.9 591.8,164.8" fill="none" stroke="#262626" stroke-width="0.9" stroke-linejoin="round"/><polyline points="598.2,165.6 597.5,166.3 596.5,166.5 595.6,167.0 594.8,167.7" fill="none" stroke="#262626" stroke-width="0.9" stroke-linejoin="round"/><polyline points="598.9,167.2 598.0,168.8 596.7,169.9 595.0,170.7" fill="none" stroke="#262626" stroke-width="0.9" stroke-linejoin="round"/><polyline points="599.7,169.2 595.3,170.0 591.1,171.5" fill="none" stroke="#262626" stroke-width="0.9" stroke-linejoin="round"/><polyline points="600.9,172.1 598.1,171.5 595.3,171.0" fill="none" stroke="#262626" stroke-width="0.9" stroke-linejoin="round"/><polyline points="601.5,173.7 600.3,174.4 599.3,175.4 598.1,176.0 596.8,176.4" fill="none" stroke="#262626" stroke-width="0.9" stroke-linejoin="round"/><polyline points="601.7,174.3 600.3,175.8 598.4,176.8 596.8,178.0" fill="none" stroke="#262626" stroke-width="0.9" stroke-linejoin="round"/><polyline points="602.9,177.3 600.2,176.1 597.3,175.7 594.4,174.8" fill="none" stroke="#262626" stroke-width="0.9" stroke-linejoin="round"/><polyline points="603.7,179.1 602.4,179.4 601.2,179.9 600.1,180.5" fill="none" stroke="#262626" stroke-width="0.9" stroke-linejoin="round"/><polyline points="604.4,180.3 602.3,180.3 600.2,180.7 598.1,181.0 596.0,181.1" fill="none" stroke="#262626" stroke-width="0.9" stroke-linejoin="round"/><polyline points="607.0,182.6 602.9,184.1 598.6,184.3" fill="none" stroke="#262626" stroke-width="0.9" stroke-linejoin="round"/><polyline points="607.6,183.2 605.9,183.0 604.3,183.4 602.7,183.0 601.0,182.7" fill="none" stroke="#262626" stroke-width="0.9" stroke-linejoin="round"/><polyline points="608.9,184.4 607.9,184.5 607.1,183.9 606.2,183.3 605.2,182.9" fill="none" stroke="#262626" stroke-width="0.9" stroke-linejoin="round"/><polyline points="610.5,185.8 608.4,186.2 606.6,187.4" fill="none" stroke="#262626" stroke-width="0.9" stroke-linejoin="round"/><polyline points="612.5,187.6 611.7,187.8 610.9,187.7 610.1,187.7 609.4,187.4" fill="none" stroke="#262626" stroke-width="0.9" stroke-linejoin="round"/><polyline points="614.5,189.5 612.4,192.4 609.3,194.3" fill="none" stroke="#262626" stroke-width="0.9" stroke-linejoin="round"/><polyline points="615.4,190.4 612.8,190.0 610.2,189.3 607.6,190.2" fill="none" stroke="#262626" stroke-width="0.9" stroke-linejoin="round"/><polyline points="617.9,192.9 615.2,193.8 612.7,195.1 609.9,195.3" fill="none" stroke="#262626" stroke-width="0.9" stroke-linejoin="round"/><polyline points="612.0,209.6 611.2,210.4 610.3,211.3 609.2,211.6" fill="none" stroke="#262626" stroke-width="0.9" stroke-linejoin="round"/><polyline points="612.3,210.7 609.2,211.6 605.9,211.7" fill="none" stroke="#262626" stroke-width="0.9" stroke-linejoin="round"/><polyline points="613.6,215.0 613.2,213.6 612.4,212.4 611.2,211.7 610.1,210.7" fill="none" stroke="#262626" stroke-width="0.9" stroke-linejoin="round"/><polyline points="613.9,216.4 613.0,216.3 612.1,216.4 611.2,216.3 610.3,216.5" fill="none" stroke="#262626" stroke-width="0.9" stroke-linejoin="round"/><polyline points="615.2,219.7 613.5,220.2 611.7,219.9 609.9,219.3" fill="none" stroke="#262626" stroke-width="0.9" stroke-linejoin="round"/><polyline points="616.8,221.9 616.3,221.2 615.6,220.6 614.9,220.0 614.6,219.2" fill="none" stroke="#262626" stroke-width="0.9" stroke-linejoin="round"/><polyline points="618.1,223.7 616.8,223.8 615.5,223.4 614.2,223.8" fill="none" stroke="#262626" stroke-width="0.9" stroke-linejoin="round"/><polyline points="619.8,226.4 618.7,226.8 617.7,227.2 616.7,227.8 615.6,228.1" fill="none" stroke="#262626" stroke-width="0.9" stroke-linejoin="round"/><polyline points="619.8,229.1 619.0,228.4 618.7,227.3 617.8,226.6" fill="none" stroke="#262626" stroke-width="0.9" stroke-linejoin="round"/><polyline points="619.8,232.8 618.1,233.7 616.3,233.3" fill="none" stroke="#262626" stroke-width="0.9" stroke-linejoin="round"/><polyline points="619.8,233.8 618.2,233.1 616.5,232.8 614.8,232.8" fill="none" stroke="#262626" stroke-width="0.9" stroke-linejoin="round"/><polyline points="619.5,236.1 618.7,235.7 618.2,235.0 617.4,234.7 616.6,234.2" fill="none" stroke="#262626" stroke-width="0.9" stroke-linejoin="round"/><polyline points="614.9,238.0 611.6,237.2 608.4,236.4" fill="none" stroke="#262626" stroke-width="0.9" stroke-linejoin="round"/><polyline points="612.9,238.8 611.0,237.4 608.8,236.7 607.3,234.9" fill="none" stroke="#262626" stroke-width="0.9" stroke-linejoin="round"/><polyline points="609.2,238.7 608.8,237.7 607.7,237.3 606.9,236.5" fill="none" stroke="#262626" stroke-width="0.9" stroke-linejoin="round"/><polyline points="607.4,238.1 606.3,238.3 605.2,238.3 604.3,238.8 603.4,239.5" fill="none" stroke="#262626" stroke-width="0.9" stroke-linejoin="round"/><polyline points="605.9,237.6 604.9,236.5 604.7,235.1 603.7,234.1 602.7,233.0" fill="none" stroke="#262626" stroke-width="0.9" stroke-linejoin="round"/><polyline points="603.4,236.8 602.0,237.6 600.4,237.3 598.8,237.5" fill="none" stroke="#262626" stroke-width="0.9" stroke-linejoin="round"/><polyline points="539.7,258.9 540.4,256.6 541.7,254.6" fill="none" stroke="#262626" stroke-width="0.8" stroke-linejoin="round"/><polyline points="541.4,257.9 541.9,257.0 542.2,256.0 542.6,255.1" fill="none" stroke="#262626" stroke-width="0.8" stroke-linejoin="round"/><polyline points="544.1,256.5 544.1,255.8 544.5,255.2 544.8,254.5" fill="none" stroke="#262626" stroke-width="0.8" stroke-linejoin="round"/><polyline points="551.3,253.3 551.0,252.5 550.7,251.7 550.7,250.8" fill="none" stroke="#262626" stroke-width="0.8" stroke-linejoin="round"/><polyline points="553.8,252.3 553.6,251.3 554.1,250.3 554.2,249.2 554.5,248.2" fill="none" stroke="#262626" stroke-width="0.8" stroke-linejoin="round"/><polyline points="557.3,251.1 557.9,250.4 558.2,249.6 558.4,248.8 558.8,248.0" fill="none" stroke="#262626" stroke-width="0.8" stroke-linejoin="round"/><polyline points="564.3,248.6 563.8,247.4 563.5,246.1" fill="none" stroke="#262626" stroke-width="0.8" stroke-linejoin="round"/><polyline points="569.2,246.9 569.5,245.5 569.7,244.1" fill="none" stroke="#262626" stroke-width="0.8" stroke-linejoin="round"/><polyline points="570.8,246.4 570.7,245.0 571.2,243.6 571.1,242.2" fill="none" stroke="#262626" stroke-width="0.8" stroke-linejoin="round"/><polyline points="576.3,242.6 576.8,240.9 576.9,239.2" fill="none" stroke="#262626" stroke-width="0.8" stroke-linejoin="round"/><polyline points="602.8,76.4 600.4,76.8 598.8,78.5" fill="none" stroke="#262626" stroke-width="0.8" stroke-linejoin="round"/><polyline points="605.8,77.7 603.3,81.3 602.1,85.4" fill="none" stroke="#262626" stroke-width="0.8" stroke-linejoin="round"/><polyline points="607.0,78.3 603.9,77.9 600.9,78.4" fill="none" stroke="#262626" stroke-width="0.8" stroke-linejoin="round"/><polyline points="610.5,79.9 608.4,80.2 607.1,81.9" fill="none" stroke="#262626" stroke-width="0.8" stroke-linejoin="round"/><polyline points="613.6,81.3 611.9,83.5 610.3,85.7" fill="none" stroke="#262626" stroke-width="0.8" stroke-linejoin="round"/><polyline points="615.2,82.6 613.4,83.9 611.4,85.0" fill="none" stroke="#262626" stroke-width="0.8" stroke-linejoin="round"/><polyline points="615.6,83.5 614.9,84.3 614.0,85.0 613.4,85.9 612.5,86.4" fill="none" stroke="#262626" stroke-width="0.8" stroke-linejoin="round"/><polyline points="616.8,86.7 616.1,89.2 614.9,91.6" fill="none" stroke="#262626" stroke-width="0.8" stroke-linejoin="round"/><polyline points="617.8,89.5 616.4,89.8 615.6,91.0 614.6,92.0 613.3,92.6" fill="none" stroke="#262626" stroke-width="0.8" stroke-linejoin="round"/><polyline points="618.9,90.8 618.7,92.4 617.9,93.7 616.8,95.0 615.7,96.1" fill="none" stroke="#262626" stroke-width="0.8" stroke-linejoin="round"/><polyline points="621.2,92.8 620.2,94.4 619.1,96.0 617.8,97.4" fill="none" stroke="#262626" stroke-width="0.8" stroke-linejoin="round"/><polyline points="623.9,95.2 622.5,95.5 621.1,95.4 619.6,95.5" fill="none" stroke="#262626" stroke-width="0.8" stroke-linejoin="round"/><polyline points="625.0,96.2 622.1,96.3 619.6,97.9" fill="none" stroke="#262626" stroke-width="0.8" stroke-linejoin="round"/><polyline points="627.6,98.6 626.8,100.6 625.9,102.5 624.8,104.4" fill="none" stroke="#262626" stroke-width="0.8" stroke-linejoin="round"/><polyline points="629.9,100.9 629.2,101.7 628.6,102.7 627.7,103.4 626.9,104.0" fill="none" stroke="#262626" stroke-width="0.8" stroke-linejoin="round"/><polyline points="631.5,102.5 628.5,102.5 626.2,104.5 624.0,106.4" fill="none" stroke="#262626" stroke-width="0.8" stroke-linejoin="round"/><polyline points="562.1,29.7 563.3,33.4 564.1,37.2 562.7,40.8 562.3,44.7" fill="none" stroke="#262626" stroke-width="0.8" stroke-linejoin="round"/><polyline points="572.9,28.1 572.4,29.8 572.4,31.5 571.4,33.0" fill="none" stroke="#262626" stroke-width="0.8" stroke-linejoin="round"/><polyline points="579.3,27.1 579.1,29.6 579.1,32.2 578.1,34.5" fill="none" stroke="#262626" stroke-width="0.8" stroke-linejoin="round"/><polyline points="594.4,24.8 594.5,31.0 592.3,36.7" fill="none" stroke="#262626" stroke-width="0.8" stroke-linejoin="round"/><polyline points="597.9,24.3 597.5,27.1 596.7,29.8" fill="none" stroke="#262626" stroke-width="0.8" stroke-linejoin="round"/><polyline points="614.6,22.5 613.8,28.2 615.5,33.6" fill="none" stroke="#262626" stroke-width="0.8" stroke-linejoin="round"/><polyline points="622.0,21.8 620.6,23.5 619.0,25.0 618.4,27.2" fill="none" stroke="#262626" stroke-width="0.8" stroke-linejoin="round"/><polyline points="628.1,21.2 629.0,24.7 628.0,28.3 627.0,31.8 625.3,35.0" fill="none" stroke="#262626" stroke-width="0.8" stroke-linejoin="round"/><polyline points="641.9,19.9 641.9,25.2 642.2,30.5" fill="none" stroke="#262626" stroke-width="0.8" stroke-linejoin="round"/><polyline points="649.5,19.6 647.8,22.6 646.6,25.9 644.0,28.2 643.0,31.6" fill="none" stroke="#262626" stroke-width="0.8" stroke-linejoin="round"/><polyline points="654.7,19.4 654.0,21.0 653.1,22.6 653.3,24.4" fill="none" stroke="#262626" stroke-width="0.8" stroke-linejoin="round"/><polyline points="665.7,19.0 665.3,22.4 663.4,25.2" fill="none" stroke="#262626" stroke-width="0.8" stroke-linejoin="round"/><polyline points="674.1,18.6 673.0,19.9 672.2,21.4 671.0,22.6" fill="none" stroke="#262626" stroke-width="0.8" stroke-linejoin="round"/><polyline points="682.0,18.3 680.2,23.6 679.9,29.2" fill="none" stroke="#262626" stroke-width="0.8" stroke-linejoin="round"/><polyline points="16.0,192.4 16.6,192.9 17.0,193.6 17.1,194.3 17.7,194.8" fill="none" stroke="#262626" stroke-width="0.7" stroke-linejoin="round"/><polyline points="30.0,188.7 31.1,189.4 31.4,190.7 31.7,191.9" fill="none" stroke="#262626" stroke-width="0.7" stroke-linejoin="round"/><polyline points="41.2,185.7 42.0,186.7 42.3,187.9" fill="none" stroke="#262626" stroke-width="0.7" stroke-linejoin="round"/><polyline points="56.4,182.2 56.2,183.2 56.0,184.3 56.4,185.3 56.8,186.3" fill="none" stroke="#262626" stroke-width="0.7" stroke-linejoin="round"/><polyline points="71.9,178.3 71.3,180.5 70.7,182.8" fill="none" stroke="#262626" stroke-width="0.7" stroke-linejoin="round"/><polyline points="75.1,177.1 76.3,177.8 77.3,178.8 78.1,179.8" fill="none" stroke="#262626" stroke-width="0.7" stroke-linejoin="round"/><polyline points="87.3,172.6 86.0,173.6 85.8,175.2" fill="none" stroke="#262626" stroke-width="0.7" stroke-linejoin="round"/><polyline points="109.2,164.9 109.2,165.8 109.1,166.6 108.6,167.4" fill="none" stroke="#262626" stroke-width="0.7" stroke-linejoin="round"/><polyline points="112.4,163.9 112.5,165.0 112.6,166.1" fill="none" stroke="#262626" stroke-width="0.7" stroke-linejoin="round"/><polyline points="133.0,157.2 132.5,158.3 132.1,159.3" fill="none" stroke="#262626" stroke-width="0.7" stroke-linejoin="round"/><polyline points="138.2,155.9 137.6,157.2 137.0,158.5" fill="none" stroke="#262626" stroke-width="0.7" stroke-linejoin="round"/><polyline points="158.1,151.0 157.5,151.4 157.3,152.1 156.9,152.7" fill="none" stroke="#262626" stroke-width="0.7" stroke-linejoin="round"/><polyline points="164.1,149.5 163.9,150.2 163.6,150.9 163.2,151.6 163.2,152.3" fill="none" stroke="#262626" stroke-width="0.7" stroke-linejoin="round"/><polyline points="188.4,147.1 188.4,148.6 188.9,150.1" fill="none" stroke="#262626" stroke-width="0.7" stroke-linejoin="round"/></g><polyline points="278.0,86.7 208.0,145.9" fill="none" stroke="#3a3a3a" stroke-width="0.8" stroke-linejoin="round"/><polyline points="208.0,149.0 215.7,146.5 232.0,149.7 233.5,161.7 234.7,174.4 230.9,184.6 224.0,188.0" fill="none" stroke="#3a3a3a" stroke-width="0.8" stroke-linejoin="round"/><polyline points="234.7,223.3 387.5,223.3 389.7,220.3 394.4,225.6 403.0,229.0 420.0,228.0 438.0,236.0 441.0,240.0 436.0,246.0 456.0,256.0 447.0,267.0 457.9,265.5 465.0,261.0 477.8,258.5" fill="none" stroke="#3a3a3a" stroke-width="0.8" stroke-linejoin="round"/><polyline points="495.0,250.3 508.0,251.3 515.4,243.8 524.4,234.9 533.4,234.9 531.9,243.8 534.9,249.8" fill="none" stroke="#3a3a3a" stroke-width="0.8" stroke-linejoin="round"/><polyline points="203.4,339.8 217.5,339.8 233.1,346.9 253.4,349.2 264.4,346.9 273.8,362.5 283.1,360.9 289.4,362.5 298.8,378.1 307.1,382.7" fill="none" stroke="#3a3a3a" stroke-width="0.8" stroke-linejoin="round"/><polyline points="327.5,467.3 331.0,463.0 338.0,458.0 336.1,451.0 336.1,445.8 351.1,445.8 351.1,441.5" fill="none" stroke="#3a3a3a" stroke-width="0.8" stroke-linejoin="round"/><polyline points="351.1,445.8 351.1,459.7" fill="none" stroke="#3a3a3a" stroke-width="0.8" stroke-linejoin="round"/><polyline points="340.4,473.7 347.9,469.4 350.1,463.0 352.2,460.8" fill="none" stroke="#3a3a3a" stroke-width="0.8" stroke-linejoin="round"/><polyline points="346.9,470.5 355.4,475.9 355.4,480.1" fill="none" stroke="#3a3a3a" stroke-width="0.8" stroke-linejoin="round"/><polyline points="355.4,480.1 363.0,474.8 371.6,470.5 376.9,467.3 384.4,467.3" fill="none" stroke="#3a3a3a" stroke-width="0.8" stroke-linejoin="round"/><polyline points="366.2,495.2 371.6,494.1 379.1,496.3" fill="none" stroke="#3a3a3a" stroke-width="0.8" stroke-linejoin="round"/><polyline points="382.3,504.9 384.4,514.5" fill="none" stroke="#3a3a3a" stroke-width="0.8" stroke-linejoin="round"/><polyline points="416.0,512.0 418.0,518.0 421.0,517.0" fill="none" stroke="#3a3a3a" stroke-width="0.8" stroke-linejoin="round"/><polyline points="448.2,495.0 445.0,508.8 450.3,516.3 451.4,522.7 459.9,524.9 468.5,525.9 480.2,529.1 479.1,537.7 477.7,548.1 479.8,555.6 474.5,560.9 467.0,563.0 464.8,563.5 467.8,570.9 466.3,587.4 464.8,603.8" fill="none" stroke="#3a3a3a" stroke-width="0.8" stroke-linejoin="round"/><polyline points="479.8,555.6 484.1,564.1 490.5,568.4 501.2,562.0 505.5,557.7 500.1,547.0 508.7,544.9 515.0,540.0 522.0,541.0 530.0,560.0 535.0,565.0" fill="none" stroke="#3a3a3a" stroke-width="0.8" stroke-linejoin="round"/><polyline points="406.5,563.5 412.4,570.9 422.9,572.4 430.4,576.9 439.4,584.4 446.8,591.9 455.8,593.4 463.3,596.4 464.8,603.8" fill="none" stroke="#3a3a3a" stroke-width="0.8" stroke-linejoin="round"/><polyline points="399.0,605.3 406.5,609.8 412.4,597.9 422.9,591.9 430.4,582.9 430.4,576.9" fill="none" stroke="#3a3a3a" stroke-width="0.8" stroke-linejoin="round"/><polyline points="464.8,603.8 449.8,606.8 443.8,615.8 440.9,627.8 446.8,639.7 454.3,644.2 461.8,645.7 463.3,653.2 476.7,651.7 491.7,645.7 496.2,651.7 499.2,663.7 502.5,667.5 527.5,672.5 535.0,695.0 545.0,705.0 547.5,717.5" fill="none" stroke="#3a3a3a" stroke-width="0.8" stroke-linejoin="round"/><polyline points="470.8,654.7 473.8,666.7 473.8,684.6 472.5,705.0 475.0,740.0 487.5,750.0 485.0,775.0 490.0,812.5 492.5,856.0 494.4,860.0 498.2,883.0 507.2,894.6 511.0,910.0 512.3,924.1 518.7,938.2 525.1,947.2 544.4,949.7" fill="none" stroke="#3a3a3a" stroke-width="0.8" stroke-linejoin="round"/><polyline points="487.5,750.0 510.0,735.0 522.5,735.0 522.5,720.0 530.0,715.0 547.5,717.5 560.0,735.0 566.4,746.2" fill="none" stroke="#3a3a3a" stroke-width="0.8" stroke-linejoin="round"/><polyline points="522.5,735.0 540.0,747.5 550.0,760.0 550.5,772.6 569.9,772.6" fill="none" stroke="#3a3a3a" stroke-width="0.8" stroke-linejoin="round"/><polyline points="569.9,772.6 579.5,769.1 578.7,760.3 573.4,758.5 572.5,748.0 566.4,746.2" fill="none" stroke="#3a3a3a" stroke-width="0.8" stroke-linejoin="round"/><polyline points="579.5,769.1 568.1,781.4 559.3,793.7 566.4,792.0 580.4,802.5 591.0,811.0 593.0,815.0" fill="none" stroke="#3a3a3a" stroke-width="0.8" stroke-linejoin="round"/><polyline points="559.3,793.7 559.3,813.0 562.8,820.0" fill="none" stroke="#3a3a3a" stroke-width="0.8" stroke-linejoin="round"/><polyline points="522.5,512.5 527.5,535.0 525.0,545.0 530.0,560.0 535.0,565.0 545.0,562.5 547.5,560.0" fill="none" stroke="#3a3a3a" stroke-width="0.8" stroke-linejoin="round"/><polyline points="542.5,530.0 545.0,540.0 542.5,550.0 547.5,560.0 555.0,557.5 562.5,555.0" fill="none" stroke="#3a3a3a" stroke-width="0.8" stroke-linejoin="round"/><polyline points="565.0,533.8 565.0,545.0 562.5,555.0 570.0,557.5 580.0,550.0 585.0,547.5" fill="none" stroke="#3a3a3a" stroke-width="0.8" stroke-linejoin="round"/><polyline points="547.5,952.5 552.5,966.0" fill="none" stroke="#3a3a3a" stroke-width="0.8" stroke-linejoin="round"/><circle cx="366.5" cy="166.3" r="36.699999999999996" fill="#eaf6f0" opacity="0.85"/><path d="M366.50,166.30 L365.63,130.51 A35.8,35.8 0 0 1 372.59,131.02 Z" fill="#4a2a8c"/><path d="M366.50,166.30 L372.59,131.02 A35.8,35.8 0 0 1 391.37,140.55 Z" fill="#b4d10b"/><path d="M366.50,166.30 L391.37,140.55 A35.8,35.8 0 0 1 400.14,154.06 Z" fill="#2d430f"/><path d="M366.50,166.30 L400.14,154.06 A35.8,35.8 0 0 1 402.13,162.81 Z" fill="#860a2c"/><path d="M366.50,166.30 L402.13,162.81 A35.8,35.8 0 0 1 402.16,169.42 Z" fill="#52a21f"/><path d="M366.50,166.30 L402.16,169.42 A35.8,35.8 0 0 1 400.74,176.77 Z" fill="#fdd21f"/><path d="M366.50,166.30 L400.74,176.77 A35.8,35.8 0 0 1 397.99,183.33 Z" fill="#ff4e1b"/><path d="M366.50,166.30 L397.99,183.33 A35.8,35.8 0 1 1 365.63,130.51 Z" fill="#0c4a8e"/><circle cx="322" cy="292" r="36.699999999999996" fill="#eaf6f0" opacity="0.85"/><path d="M322.00,292.00 L325.56,256.38 A35.8,35.8 0 0 1 334.36,258.40 Z" fill="#b4d10b"/><path d="M322.00,292.00 L334.36,258.40 A35.8,35.8 0 0 1 339.41,260.72 Z" fill="#2d430f"/><path d="M322.00,292.00 L339.41,260.72 A35.8,35.8 0 0 1 357.11,284.99 Z" fill="#860a2c"/><path d="M322.00,292.00 L357.11,284.99 A35.8,35.8 0 0 1 346.46,318.14 Z" fill="#52a21f"/><path d="M322.00,292.00 L346.46,318.14 A35.8,35.8 0 0 1 344.68,319.70 Z" fill="#fdd21f"/><path d="M322.00,292.00 L344.68,319.70 A35.8,35.8 0 0 1 343.19,320.85 Z" fill="#ff4e1b"/><path d="M322.00,292.00 L343.19,320.85 A35.8,35.8 0 1 1 325.56,256.38 Z" fill="#0c4a8e"/><circle cx="767" cy="62.5" r="36.9" fill="#eaf6f0" opacity="0.85"/><path d="M767.00,62.50 L746.87,32.65 A36,36 0 0 1 769.07,26.56 Z" fill="#0c4a8e"/><path d="M767.00,62.50 L769.07,26.56 A36,36 0 1 1 746.87,32.65 Z" fill="#fdd21f"/><circle cx="609.6" cy="256.3" r="13.200000000000001" fill="#eaf6f0" opacity="0.85"/><circle cx="609.6" cy="256.3" r="12.3" fill="#0c4a8e"/><circle cx="541.3" cy="336.2" r="17.299999999999997" fill="#eaf6f0" opacity="0.85"/><path d="M541.30,336.20 L525.32,339.89 A16.4,16.4 0 0 1 544.91,320.20 Z" fill="#0c4a8e"/><path d="M541.30,336.20 L544.91,320.20 A16.4,16.4 0 0 1 548.75,321.59 Z" fill="#4a2a8c"/><path d="M541.30,336.20 L548.75,321.59 A16.4,16.4 0 0 1 553.41,325.14 Z" fill="#b4d10b"/><path d="M541.30,336.20 L553.41,325.14 A16.4,16.4 0 1 1 525.32,339.89 Z" fill="#860a2c"/><circle cx="453.8" cy="379.8" r="18.099999999999998" fill="#eaf6f0" opacity="0.85"/><path d="M453.80,379.80 L449.06,363.27 A17.2,17.2 0 0 1 456.34,362.79 Z" fill="#0c4a8e"/><path d="M453.80,379.80 L456.34,362.79 A17.2,17.2 0 1 1 449.06,363.27 Z" fill="#860a2c"/><circle cx="476.7" cy="406.8" r="11.1" fill="#eaf6f0" opacity="0.85"/><path d="M476.70,406.80 L473.21,397.22 A10.2,10.2 0 0 1 479.17,396.90 Z" fill="#0c4a8e"/><path d="M476.70,406.80 L479.17,396.90 A10.2,10.2 0 1 1 473.21,397.22 Z" fill="#860a2c"/><circle cx="567.1" cy="434.5" r="36.699999999999996" fill="#eaf6f0" opacity="0.85"/><path d="M567.10,434.50 L582.00,401.95 A35.8,35.8 0 1 1 548.93,403.65 Z" fill="#860a2c"/><path d="M567.10,434.50 L548.93,403.65 A35.8,35.8 0 0 1 550.74,402.66 Z" fill="#fdd21f"/><path d="M567.10,434.50 L550.74,402.66 A35.8,35.8 0 0 1 554.86,400.86 Z" fill="#ff4e1b"/><path d="M567.10,434.50 L554.86,400.86 A35.8,35.8 0 0 1 568.04,398.71 Z" fill="#0c4a8e"/><path d="M567.10,434.50 L568.04,398.71 A35.8,35.8 0 0 1 569.91,398.81 Z" fill="#b4d10b"/><path d="M567.10,434.50 L569.91,398.81 A35.8,35.8 0 0 1 582.00,401.95 Z" fill="#2d430f"/><circle cx="277.6" cy="413.9" r="20.0" fill="#eaf6f0" opacity="0.85"/><path d="M277.60,413.90 L261.56,403.53 A19.1,19.1 0 0 1 278.07,394.81 Z" fill="#0c4a8e"/><path d="M277.60,413.90 L278.07,394.81 A19.1,19.1 0 0 1 280.39,395.00 Z" fill="#860a2c"/><path d="M277.60,413.90 L280.39,395.00 A19.1,19.1 0 1 1 262.09,425.05 Z" fill="#52a21f"/><path d="M277.60,413.90 L262.09,425.05 A19.1,19.1 0 0 1 261.56,403.53 Z" fill="#fdd21f"/><circle cx="318.9" cy="486.6" r="17.9" fill="#eaf6f0" opacity="0.85"/><path d="M318.90,486.60 L316.27,503.40 A17.0,17.0 0 0 1 316.24,469.81 Z" fill="#fdd21f"/><path d="M318.90,486.60 L316.24,469.81 A17.0,17.0 0 0 1 319.88,469.63 Z" fill="#0c4a8e"/><path d="M318.90,486.60 L319.88,469.63 A17.0,17.0 0 1 1 316.27,503.40 Z" fill="#52a21f"/><circle cx="347.5" cy="489.4" r="10.1" fill="#eaf6f0" opacity="0.85"/><path d="M347.50,489.40 L340.25,483.74 A9.2,9.2 0 0 1 348.17,480.22 Z" fill="#0c4a8e"/><path d="M347.50,489.40 L348.17,480.22 A9.2,9.2 0 1 1 340.25,483.74 Z" fill="#52a21f"/><circle cx="378.6" cy="456.6" r="10.9" fill="#eaf6f0" opacity="0.85"/><path d="M378.60,456.60 L382.25,447.29 A10,10 0 1 1 372.91,448.38 Z" fill="#52a21f"/><path d="M378.60,456.60 L372.91,448.38 A10,10 0 0 1 376.57,446.81 Z" fill="#fdd21f"/><path d="M378.60,456.60 L376.57,446.81 A10,10 0 0 1 379.59,446.65 Z" fill="#860a2c"/><path d="M378.60,456.60 L379.59,446.65 A10,10 0 0 1 382.25,447.29 Z" fill="#4a2a8c"/><circle cx="362.9" cy="449.4" r="7.1000000000000005" fill="#eaf6f0" opacity="0.85"/><path d="M362.90,449.40 L368.73,451.52 A6.2,6.2 0 1 1 357.82,445.84 Z" fill="#52a21f"/><path d="M362.90,449.40 L357.82,445.84 A6.2,6.2 0 0 1 360.78,443.57 Z" fill="#fdd21f"/><path d="M362.90,449.40 L360.78,443.57 A6.2,6.2 0 0 1 364.50,443.41 Z" fill="#2d430f"/><path d="M362.90,449.40 L364.50,443.41 A6.2,6.2 0 0 1 366.46,444.32 Z" fill="#4a2a8c"/><path d="M362.90,449.40 L366.46,444.32 A6.2,6.2 0 0 1 368.73,451.52 Z" fill="#860a2c"/><circle cx="395.8" cy="486.4" r="13.4" fill="#eaf6f0" opacity="0.85"/><path d="M395.80,486.40 L383.30,486.40 A12.5,12.5 0 0 1 384.38,481.32 Z" fill="#fdd21f"/><path d="M395.80,486.40 L384.38,481.32 A12.5,12.5 0 0 1 395.80,473.90 Z" fill="#0c4a8e"/><path d="M395.80,486.40 L395.80,473.90 A12.5,12.5 0 0 1 402.79,476.04 Z" fill="#860a2c"/><path d="M395.80,486.40 L402.79,476.04 A12.5,12.5 0 1 1 383.30,486.40 Z" fill="#52a21f"/><circle cx="367" cy="517" r="11.8" fill="#eaf6f0" opacity="0.85"/><path d="M367.00,517.00 L357.12,521.61 A10.9,10.9 0 0 1 367.00,506.10 Z" fill="#0c4a8e"/><path d="M367.00,517.00 L367.00,506.10 A10.9,10.9 0 0 1 371.88,507.25 Z" fill="#860a2c"/><path d="M367.00,517.00 L371.88,507.25 A10.9,10.9 0 1 1 357.12,521.61 Z" fill="#52a21f"/><circle cx="397" cy="527.5" r="14.9" fill="#eaf6f0" opacity="0.85"/><path d="M397.00,527.50 L383.01,527.92 A14,14 0 0 1 392.07,514.40 Z" fill="#fdd21f"/><path d="M397.00,527.50 L392.07,514.40 A14,14 0 0 1 398.27,513.56 Z" fill="#0c4a8e"/><path d="M397.00,527.50 L398.27,513.56 A14,14 0 0 1 409.36,520.93 Z" fill="#860a2c"/><path d="M397.00,527.50 L409.36,520.93 A14,14 0 1 1 383.01,527.92 Z" fill="#52a21f"/><circle cx="408.7" cy="414.3" r="11.4" fill="#eaf6f0" opacity="0.85"/><path d="M408.70,414.30 L408.70,403.80 A10.5,10.5 0 0 1 415.86,421.98 Z" fill="#860a2c"/><path d="M408.70,414.30 L415.86,421.98 A10.5,10.5 0 1 1 408.70,403.80 Z" fill="#0c4a8e"/><circle cx="392.8" cy="432.3" r="7.5" fill="#eaf6f0" opacity="0.85"/><path d="M392.80,432.30 L386.25,433.10 A6.6,6.6 0 0 1 394.62,425.96 Z" fill="#0c4a8e"/><path d="M392.80,432.30 L394.62,425.96 A6.6,6.6 0 1 1 386.25,433.10 Z" fill="#860a2c"/><circle cx="419.6" cy="456.6" r="10.5" fill="#eaf6f0" opacity="0.85"/><circle cx="419.6" cy="456.6" r="9.6" fill="#860a2c"/><circle cx="452.9" cy="452.8" r="8.8" fill="#eaf6f0" opacity="0.85"/><circle cx="452.9" cy="452.8" r="7.9" fill="#860a2c"/><circle cx="471.3" cy="433.6" r="8.1" fill="#eaf6f0" opacity="0.85"/><path d="M471.30,433.60 L464.35,431.74 A7.2,7.2 0 0 1 472.55,426.51 Z" fill="#0c4a8e"/><path d="M471.30,433.60 L472.55,426.51 A7.2,7.2 0 0 1 476.82,428.97 Z" fill="#860a2c"/><path d="M471.30,433.60 L476.82,428.97 A7.2,7.2 0 0 1 478.07,431.14 Z" fill="#ff4e1b"/><path d="M471.30,433.60 L478.07,431.14 A7.2,7.2 0 1 1 464.35,431.74 Z" fill="#52a21f"/><circle cx="492.1" cy="434.1" r="7.1000000000000005" fill="#eaf6f0" opacity="0.85"/><path d="M492.10,434.10 L486.27,431.98 A6.2,6.2 0 0 1 494.72,428.48 Z" fill="#0c4a8e"/><path d="M492.10,434.10 L494.72,428.48 A6.2,6.2 0 0 1 497.18,430.54 Z" fill="#860a2c"/><path d="M492.10,434.10 L497.18,430.54 A6.2,6.2 0 0 1 497.93,431.98 Z" fill="#ff4e1b"/><path d="M492.10,434.10 L497.93,431.98 A6.2,6.2 0 1 1 486.27,431.98 Z" fill="#52a21f"/><circle cx="456.1" cy="475.8" r="8.9" fill="#eaf6f0" opacity="0.85"/><path d="M456.10,475.80 L455.40,467.83 A8.0,8.0 0 0 1 456.80,467.83 Z" fill="#2d430f"/><path d="M456.10,475.80 L456.80,467.83 A8.0,8.0 0 1 1 455.40,467.83 Z" fill="#52a21f"/><circle cx="481.6" cy="472.1" r="10.3" fill="#eaf6f0" opacity="0.85"/><path d="M481.60,472.10 L481.60,462.70 A9.4,9.4 0 0 1 486.30,463.96 Z" fill="#0c4a8e"/><path d="M481.60,472.10 L486.30,463.96 A9.4,9.4 0 1 1 481.60,462.70 Z" fill="#4a2a8c"/><circle cx="532.8" cy="495.7" r="10.700000000000001" fill="#eaf6f0" opacity="0.85"/><path d="M532.80,495.70 L532.80,485.90 A9.8,9.8 0 0 1 542.45,497.40 Z" fill="#4a2a8c"/><path d="M532.80,495.70 L542.45,497.40 A9.8,9.8 0 0 1 524.23,500.45 Z" fill="#2d430f"/><path d="M532.80,495.70 L524.23,500.45 A9.8,9.8 0 0 1 532.80,485.90 Z" fill="#860a2c"/><circle cx="547.4" cy="514.1" r="11.15" fill="#eaf6f0" opacity="0.85"/><path d="M547.40,514.10 L540.41,506.60 A10.25,10.25 0 0 1 547.76,503.86 Z" fill="#fdd21f"/><path d="M547.40,514.10 L547.76,503.86 A10.25,10.25 0 0 1 557.49,512.32 Z" fill="#4a2a8c"/><path d="M547.40,514.10 L557.49,512.32 A10.25,10.25 0 0 1 542.75,523.23 Z" fill="#2d430f"/><path d="M547.40,514.10 L542.75,523.23 A10.25,10.25 0 0 1 540.41,506.60 Z" fill="#860a2c"/><circle cx="568.3" cy="521.1" r="11.5" fill="#eaf6f0" opacity="0.85"/><path d="M568.30,521.10 L565.56,510.86 A10.6,10.6 0 0 1 568.30,510.50 Z" fill="#fdd21f"/><path d="M568.30,521.10 L568.30,510.50 A10.6,10.6 0 0 1 577.29,515.48 Z" fill="#4a2a8c"/><path d="M568.30,521.10 L577.29,515.48 A10.6,10.6 0 0 1 578.54,523.84 Z" fill="#b4d10b"/><path d="M568.30,521.10 L578.54,523.84 A10.6,10.6 0 0 1 566.46,531.54 Z" fill="#2d430f"/><path d="M568.30,521.10 L566.46,531.54 A10.6,10.6 0 0 1 565.56,510.86 Z" fill="#860a2c"/><circle cx="587.1" cy="534.4" r="9.9" fill="#eaf6f0" opacity="0.85"/><path d="M587.10,534.40 L579.31,529.90 A9.0,9.0 0 0 1 580.21,528.61 Z" fill="#fdd21f"/><path d="M587.10,534.40 L580.21,528.61 A9.0,9.0 0 0 1 587.10,525.40 Z" fill="#0c4a8e"/><path d="M587.10,534.40 L587.10,525.40 A9.0,9.0 0 0 1 592.89,527.51 Z" fill="#b4d10b"/><path d="M587.10,534.40 L592.89,527.51 A9.0,9.0 0 1 1 578.76,537.77 Z" fill="#860a2c"/><path d="M587.10,534.40 L578.76,537.77 A9.0,9.0 0 0 1 579.31,529.90 Z" fill="#52a21f"/><circle cx="499.4" cy="523.6" r="19.299999999999997" fill="#eaf6f0" opacity="0.85"/><path d="M499.40,523.60 L481.03,522.64 A18.4,18.4 0 0 1 499.40,505.20 Z" fill="#0c4a8e"/><path d="M499.40,523.60 L499.40,505.20 A18.4,18.4 0 0 1 503.54,505.67 Z" fill="#860a2c"/><path d="M499.40,523.60 L503.54,505.67 A18.4,18.4 0 1 1 481.14,525.84 Z" fill="#52a21f"/><path d="M499.40,523.60 L481.14,525.84 A18.4,18.4 0 0 1 481.03,522.64 Z" fill="#fdd21f"/><circle cx="444.2" cy="550.0" r="21.799999999999997" fill="#eaf6f0" opacity="0.85"/><path d="M444.20,550.00 L424.44,543.20 A20.9,20.9 0 0 1 444.20,529.10 Z" fill="#0c4a8e"/><path d="M444.20,550.00 L444.20,529.10 A20.9,20.9 0 0 1 456.48,533.09 Z" fill="#860a2c"/><path d="M444.20,550.00 L456.48,533.09 A20.9,20.9 0 1 1 423.30,549.64 Z" fill="#52a21f"/><path d="M444.20,550.00 L423.30,549.64 A20.9,20.9 0 0 1 424.44,543.20 Z" fill="#fdd21f"/><circle cx="373.4" cy="582.1" r="19.5" fill="#eaf6f0" opacity="0.85"/><path d="M373.40,582.10 L355.71,576.35 A18.6,18.6 0 0 1 370.65,563.70 Z" fill="#fdd21f"/><path d="M373.40,582.10 L370.65,563.70 A18.6,18.6 0 0 1 373.72,563.50 Z" fill="#0c4a8e"/><path d="M373.40,582.10 L373.72,563.50 A18.6,18.6 0 0 1 379.27,564.45 Z" fill="#860a2c"/><path d="M373.40,582.10 L379.27,564.45 A18.6,18.6 0 1 1 355.71,576.35 Z" fill="#52a21f"/><circle cx="425" cy="657" r="20.9" fill="#eaf6f0" opacity="0.85"/><path d="M425.00,657.00 L418.49,638.09 A20,20 0 0 1 425.35,637.00 Z" fill="#0c4a8e"/><path d="M425.00,657.00 L425.35,637.00 A20,20 0 0 1 430.18,637.68 Z" fill="#860a2c"/><path d="M425.00,657.00 L430.18,637.68 A20,20 0 0 1 426.40,676.95 Z" fill="#52a21f"/><path d="M425.00,657.00 L426.40,676.95 A20,20 0 0 1 418.49,638.09 Z" fill="#fdd21f"/><circle cx="590.6" cy="661" r="36.9" fill="#eaf6f0" opacity="0.85"/><path d="M590.60,661.00 L590.60,625.00 A36,36 0 0 1 591.61,625.01 Z" fill="#fdd21f"/><path d="M590.60,661.00 L591.61,625.01 A36,36 0 0 1 612.86,632.71 Z" fill="#860a2c"/><path d="M590.60,661.00 L612.86,632.71 A36,36 0 0 1 576.77,694.24 Z" fill="#52a21f"/><path d="M590.60,661.00 L576.77,694.24 A36,36 0 0 1 575.67,693.76 Z" fill="#fdd21f"/><path d="M590.60,661.00 L575.67,693.76 A36,36 0 0 1 590.60,625.00 Z" fill="#0c4a8e"/><circle cx="504.8" cy="697.1" r="19.9" fill="#eaf6f0" opacity="0.85"/><path d="M504.80,697.10 L501.99,678.31 A19,19 0 0 1 505.46,678.11 Z" fill="#0c4a8e"/><path d="M504.80,697.10 L505.46,678.11 A19,19 0 0 1 520.55,707.72 Z" fill="#52a21f"/><path d="M504.80,697.10 L520.55,707.72 A19,19 0 1 1 501.99,678.31 Z" fill="#fdd21f"/><circle cx="554.4" cy="739.8" r="14.4" fill="#eaf6f0" opacity="0.85"/><path d="M554.40,739.80 L543.62,731.68 A13.5,13.5 0 0 1 554.87,726.31 Z" fill="#0c4a8e"/><path d="M554.40,739.80 L554.87,726.31 A13.5,13.5 0 1 1 542.83,732.85 Z" fill="#52a21f"/><path d="M554.40,739.80 L542.83,732.85 A13.5,13.5 0 0 1 543.62,731.68 Z" fill="#fdd21f"/><circle cx="454.8" cy="817.3" r="20.7" fill="#eaf6f0" opacity="0.85"/><path d="M454.80,817.30 L454.80,797.50 A19.8,19.8 0 1 1 438.12,827.97 Z" fill="#52a21f"/><path d="M454.80,817.30 L438.12,827.97 A19.8,19.8 0 0 1 435.13,815.06 Z" fill="#fdd21f"/><path d="M454.80,817.30 L435.13,815.06 A19.8,19.8 0 0 1 454.80,797.50 Z" fill="#0c4a8e"/><circle cx="525.5" cy="811.5" r="24.7" fill="#eaf6f0" opacity="0.85"/><path d="M525.50,811.50 L526.33,787.71 A23.8,23.8 0 1 1 521.16,834.90 Z" fill="#52a21f"/><path d="M525.50,811.50 L521.16,834.90 A23.8,23.8 0 0 1 516.20,833.41 Z" fill="#fdd21f"/><path d="M525.50,811.50 L516.20,833.41 A23.8,23.8 0 0 1 526.33,787.71 Z" fill="#0c4a8e"/><circle cx="601.4" cy="837.2" r="17.599999999999998" fill="#eaf6f0" opacity="0.85"/><path d="M601.40,837.20 L601.40,820.50 A16.7,16.7 0 0 1 606.00,821.15 Z" fill="#860a2c"/><path d="M601.40,837.20 L606.00,821.15 A16.7,16.7 0 0 1 613.41,848.80 Z" fill="#52a21f"/><path d="M601.40,837.20 L613.41,848.80 A16.7,16.7 0 0 1 611.91,850.18 Z" fill="#fdd21f"/><path d="M601.40,837.20 L611.91,850.18 A16.7,16.7 0 1 1 601.40,820.50 Z" fill="#0c4a8e"/><circle cx="623" cy="945.6" r="18.0" fill="#eaf6f0" opacity="0.85"/><path d="M623.00,945.60 L623.60,928.51 A17.1,17.1 0 0 1 628.28,929.34 Z" fill="#b4d10b"/><path d="M623.00,945.60 L628.28,929.34 A17.1,17.1 0 0 1 633.05,931.77 Z" fill="#860a2c"/><path d="M623.00,945.60 L633.05,931.77 A17.1,17.1 0 0 1 637.61,936.72 Z" fill="#52a21f"/><path d="M623.00,945.60 L637.61,936.72 A17.1,17.1 0 1 1 623.60,928.51 Z" fill="#0c4a8e"/><circle cx="435.5" cy="401.9" r="3.8" fill="#d4d9dd" stroke="#2e2e2e" stroke-width="0.8"/><circle cx="465.7" cy="417.8" r="3.8" fill="#d4d9dd" stroke="#2e2e2e" stroke-width="0.8"/><circle cx="393.9" cy="418.6" r="1.9" fill="#d4d9dd" stroke="#2e2e2e" stroke-width="0.8"/><circle cx="401.6" cy="438.6" r="2.9" fill="#d4d9dd" stroke="#2e2e2e" stroke-width="0.8"/><circle cx="605.3" cy="240.5" r="2.3" fill="#d4d9dd" stroke="#2e2e2e" stroke-width="0.8"/><circle cx="517.5" cy="343" r="3.8" fill="#d4d9dd" stroke="#2e2e2e" stroke-width="0.8"/><circle cx="512.7" cy="429.6" r="2.6" fill="#d4d9dd" stroke="#2e2e2e" stroke-width="0.8"/><circle cx="507.6" cy="431.5" r="2.6" fill="#d4d9dd" stroke="#2e2e2e" stroke-width="0.8"/><circle cx="512.7" cy="434.7" r="2.6" fill="#d4d9dd" stroke="#2e2e2e" stroke-width="0.8"/><circle cx="507.6" cy="436.4" r="2.6" fill="#d4d9dd" stroke="#2e2e2e" stroke-width="0.8"/><circle cx="512.7" cy="439.5" r="2.6" fill="#d4d9dd" stroke="#2e2e2e" stroke-width="0.8"/><circle cx="505.6" cy="443.8" r="3.4" fill="#d4d9dd" stroke="#2e2e2e" stroke-width="0.8"/><circle cx="512.7" cy="445.5" r="3.4" fill="#d4d9dd" stroke="#2e2e2e" stroke-width="0.8"/><circle cx="520.4" cy="445" r="3.4" fill="#d4d9dd" stroke="#2e2e2e" stroke-width="0.8"/><circle cx="506.8" cy="451.1" r="3.4" fill="#d4d9dd" stroke="#2e2e2e" stroke-width="0.8"/><circle cx="524.7" cy="451.1" r="3.1" fill="#d4d9dd" stroke="#2e2e2e" stroke-width="0.8"/><circle cx="517" cy="454.9" r="3.4" fill="#d4d9dd" stroke="#2e2e2e" stroke-width="0.8"/><circle cx="523.5" cy="458.3" r="2.9" fill="#d4d9dd" stroke="#2e2e2e" stroke-width="0.8"/><circle cx="523.8" cy="463.9" r="2.6" fill="#d4d9dd" stroke="#2e2e2e" stroke-width="0.8"/><circle cx="521.8" cy="469.9" r="3.1" fill="#d4d9dd" stroke="#2e2e2e" stroke-width="0.8"/><circle cx="521.3" cy="478" r="3.4" fill="#d4d9dd" stroke="#2e2e2e" stroke-width="0.8"/><circle cx="513.6" cy="483.9" r="3.4" fill="#d4d9dd" stroke="#2e2e2e" stroke-width="0.8"/><circle cx="533.7" cy="477" r="3.6" fill="#d4d9dd" stroke="#2e2e2e" stroke-width="0.8"/><circle cx="467.1" cy="482.7" r="3.0" fill="#d4d9dd" stroke="#2e2e2e" stroke-width="0.8"/><circle cx="474.3" cy="483.4" r="2.9" fill="#d4d9dd" stroke="#2e2e2e" stroke-width="0.8"/><circle cx="481.1" cy="485.1" r="2.6" fill="#d4d9dd" stroke="#2e2e2e" stroke-width="0.8"/><text x="12.8" y="36.3" font-family='"Liberation Sans", sans-serif' font-weight="bold" font-size="27.43" letter-spacing="2.74" textLength="381.4" lengthAdjust="spacingAndGlyphs" fill="#141414" stroke="#141414" stroke-width="1.50" stroke-linejoin="round">Racial makeup of the Americas, 2025</text><text x="349.9" y="126.7" font-family='"Liberation Sans", sans-serif' font-weight="bold" font-size="14.40" letter-spacing="1.44" textLength="35.3" lengthAdjust="spacingAndGlyphs" fill="#141414" stroke="#141414" stroke-width="0.79" stroke-linejoin="round">Canada</text><text x="288.4" y="343.0" font-family='"Liberation Sans", sans-serif' font-weight="bold" font-size="14.40" letter-spacing="1.44" textLength="64.7" lengthAdjust="spacingAndGlyphs" fill="#141414" stroke="#141414" stroke-width="0.79" stroke-linejoin="round">United States</text><text x="259.4" y="392.0" font-family='"Liberation Sans", sans-serif' font-weight="bold" font-size="13.72" letter-spacing="1.37" textLength="33.7" lengthAdjust="spacingAndGlyphs" fill="#141414" stroke="#141414" stroke-width="0.75" stroke-linejoin="round">Mexico</text><text x="749.0" y="108.9" font-family='"Liberation Sans", sans-serif' font-weight="bold" font-size="10.97" letter-spacing="1.10" textLength="38.0" lengthAdjust="spacingAndGlyphs" fill="#141414" stroke="#141414" stroke-width="0.60" stroke-linejoin="round">Greenland</text><text x="519.1" y="317.0" font-family='"Liberation Sans", sans-serif' font-weight="bold" font-size="13.72" letter-spacing="1.37" textLength="43.5" lengthAdjust="spacingAndGlyphs" fill="#141414" stroke="#141414" stroke-width="0.75" stroke-linejoin="round">Bermuda</text><text x="434.1" y="360.5" font-family='"Liberation Sans", sans-serif' font-weight="bold" font-size="14.40" letter-spacing="1.44" textLength="45.2" lengthAdjust="spacingAndGlyphs" fill="#141414" stroke="#141414" stroke-width="0.79" stroke-linejoin="round">Bahamas</text><text x="531.6" y="396.2" font-family='"Liberation Sans", sans-serif' font-weight="bold" font-size="13.72" letter-spacing="1.37" textLength="76.5" lengthAdjust="spacingAndGlyphs" fill="#141414" stroke="#141414" stroke-width="0.75" stroke-linejoin="round">Lesser Antilles*</text><text x="588.1" y="273.5" font-family='"Liberation Sans", sans-serif' font-weight="bold" font-size="4.94" letter-spacing="0.49" textLength="42.6" lengthAdjust="spacingAndGlyphs" fill="#141414" stroke="#141414" stroke-width="0.27" stroke-linejoin="round">Saint Pierre and Miquelon</text><text x="470.9" y="395.0" font-family='"Liberation Sans", sans-serif' font-weight="bold" font-size="4.94" letter-spacing="0.49" textLength="24.3" lengthAdjust="spacingAndGlyphs" fill="#141414" stroke="#141414" stroke-width="0.27" stroke-linejoin="round">Turks &amp; Caicos</text><text x="577.4" y="622.0" font-family='"Liberation Sans", sans-serif' font-weight="bold" font-size="14.68" letter-spacing="1.47" textLength="28.7" lengthAdjust="spacingAndGlyphs" fill="#141414" stroke="#141414" stroke-width="0.80" stroke-linejoin="round">Brazil</text><text x="386.3" y="664.5" font-family='"Liberation Sans", sans-serif' font-weight="bold" font-size="10.97" letter-spacing="1.10" textLength="17.2" lengthAdjust="spacingAndGlyphs" fill="#141414" stroke="#141414" stroke-width="0.60" stroke-linejoin="round">Peru</text><text x="491.0" y="726.2" font-family='"Liberation Sans", sans-serif' font-weight="bold" font-size="10.29" letter-spacing="1.03" textLength="24.4" lengthAdjust="spacingAndGlyphs" fill="#141414" stroke="#141414" stroke-width="0.56" stroke-linejoin="round">Bolivia</text><text x="567.0" y="731.8" font-family='"Liberation Sans", sans-serif' font-weight="bold" font-size="7.54" letter-spacing="0.75" textLength="22.9" lengthAdjust="spacingAndGlyphs" fill="#141414" stroke="#141414" stroke-width="0.41" stroke-linejoin="round">Paraguay</text><text x="407.4" y="821.2" font-family='"Liberation Sans", sans-serif' font-weight="bold" font-size="13.72" letter-spacing="1.37" textLength="23.7" lengthAdjust="spacingAndGlyphs" fill="#141414" stroke="#141414" stroke-width="0.75" stroke-linejoin="round">Chile</text><text x="501.7" y="847.0" font-family='"Liberation Sans", sans-serif' font-weight="bold" font-size="14.68" letter-spacing="1.47" textLength="47.7" lengthAdjust="spacingAndGlyphs" fill="#141414" stroke="#141414" stroke-width="0.80" stroke-linejoin="round">Argentina</text><text x="357.8" y="611.2" font-family='"Liberation Sans", sans-serif' font-weight="bold" font-size="10.29" letter-spacing="1.03" textLength="29.7" lengthAdjust="spacingAndGlyphs" fill="#141414" stroke="#141414" stroke-width="0.56" stroke-linejoin="round">Ecuador</text><text x="584.8" y="863.0" font-family='"Liberation Sans", sans-serif' font-weight="bold" font-size="10.97" letter-spacing="1.10" textLength="30.7" lengthAdjust="spacingAndGlyphs" fill="#141414" stroke="#141414" stroke-width="0.60" stroke-linejoin="round">Uruguay</text><text x="594.9" y="976.2" font-family='"Liberation Sans", sans-serif' font-weight="bold" font-size="13.72" letter-spacing="1.37" textLength="79.7" lengthAdjust="spacingAndGlyphs" fill="#141414" stroke="#141414" stroke-width="0.75" stroke-linejoin="round">Falkland Islands</text><text x="260.1" y="491.2" font-family='"Liberation Sans", sans-serif' font-weight="bold" font-size="10.56" letter-spacing="1.06" textLength="39.3" lengthAdjust="spacingAndGlyphs" fill="#141414" stroke="#141414" stroke-width="0.58" stroke-linejoin="round">Guatemala</text><text x="424.5" y="528.0" font-family='"Liberation Sans", sans-serif' font-weight="bold" font-size="7.54" letter-spacing="0.75" textLength="22.1" lengthAdjust="spacingAndGlyphs" fill="#141414" stroke="#141414" stroke-width="0.41" stroke-linejoin="round">Colombia</text><text x="455.2" y="519.2" font-family='"Liberation Sans", sans-serif' font-weight="bold" font-size="7.54" letter-spacing="0.75" textLength="26.4" lengthAdjust="spacingAndGlyphs" fill="#141414" stroke="#141414" stroke-width="0.41" stroke-linejoin="round">Venezuela</text><text x="338.4" y="503.2" font-family='"Liberation Sans", sans-serif' font-weight="bold" font-size="4.94" letter-spacing="0.49" textLength="19.8" lengthAdjust="spacingAndGlyphs" fill="#141414" stroke="#141414" stroke-width="0.27" stroke-linejoin="round">El Salvador</text><text x="340.1" y="526.8" font-family='"Liberation Sans", sans-serif' font-weight="bold" font-size="4.94" letter-spacing="0.49" textLength="17.1" lengthAdjust="spacingAndGlyphs" fill="#141414" stroke="#141414" stroke-width="0.27" stroke-linejoin="round">Costa Rica</text><text x="387.1" y="545.8" font-family='"Liberation Sans", sans-serif' font-weight="bold" font-size="4.94" letter-spacing="0.49" textLength="14.3" lengthAdjust="spacingAndGlyphs" fill="#141414" stroke="#141414" stroke-width="0.27" stroke-linejoin="round">Panama</text><text x="409.6" y="487.5" font-family='"Liberation Sans", sans-serif' font-weight="bold" font-size="4.94" letter-spacing="0.49" textLength="18.1" lengthAdjust="spacingAndGlyphs" fill="#141414" stroke="#141414" stroke-width="0.27" stroke-linejoin="round">Nicaragua</text><text x="388.1" y="452.5" font-family='"Liberation Sans", sans-serif' font-weight="bold" font-size="4.94" letter-spacing="0.49" textLength="16.3" lengthAdjust="spacingAndGlyphs" fill="#141414" stroke="#141414" stroke-width="0.27" stroke-linejoin="round">Honduras</text><text x="362.6" y="442.5" font-family='"Liberation Sans", sans-serif' font-weight="bold" font-size="5.21" letter-spacing="0.52" textLength="11.3" lengthAdjust="spacingAndGlyphs" fill="#141414" stroke="#141414" stroke-width="0.28" stroke-linejoin="round">Belize</text><text x="372.6" y="427.5" font-family='"Liberation Sans", sans-serif' font-weight="bold" font-size="4.94" letter-spacing="0.49" textLength="13.1" lengthAdjust="spacingAndGlyphs" fill="#141414" stroke="#141414" stroke-width="0.27" stroke-linejoin="round">Cayman</text><text x="373.1" y="433.2" font-family='"Liberation Sans", sans-serif' font-weight="bold" font-size="4.94" letter-spacing="0.49" textLength="12.6" lengthAdjust="spacingAndGlyphs" fill="#141414" stroke="#141414" stroke-width="0.27" stroke-linejoin="round">Islands</text><text x="390.2" y="405.0" font-family='"Liberation Sans", sans-serif' font-weight="bold" font-size="6.86" letter-spacing="0.69" textLength="11.9" lengthAdjust="spacingAndGlyphs" fill="#141414" stroke="#141414" stroke-width="0.38" stroke-linejoin="round">Cuba</text><text x="412.6" y="470.5" font-family='"Liberation Sans", sans-serif' font-weight="bold" font-size="4.94" letter-spacing="0.49" textLength="13.8" lengthAdjust="spacingAndGlyphs" fill="#141414" stroke="#141414" stroke-width="0.27" stroke-linejoin="round">Jamaica</text><text x="433.2" y="455.0" font-family='"Liberation Sans", sans-serif' font-weight="bold" font-size="6.86" letter-spacing="0.69" textLength="11.4" lengthAdjust="spacingAndGlyphs" fill="#141414" stroke="#141414" stroke-width="0.38" stroke-linejoin="round">Haiti</text><text x="468.9" y="424.5" font-family='"Liberation Sans", sans-serif' font-weight="bold" font-size="4.66" letter-spacing="0.47" textLength="18.8" lengthAdjust="spacingAndGlyphs" fill="#141414" stroke="#141414" stroke-width="0.26" stroke-linejoin="round">Dominicana</text><text x="490.1" y="426.2" font-family='"Liberation Sans", sans-serif' font-weight="bold" font-size="4.66" letter-spacing="0.47" textLength="18.1" lengthAdjust="spacingAndGlyphs" fill="#141414" stroke="#141414" stroke-width="0.26" stroke-linejoin="round">Puerto Rico</text><text x="435.2" y="477.0" font-family='"Liberation Sans", sans-serif' font-weight="bold" font-size="6.17" letter-spacing="0.62" textLength="11.3" lengthAdjust="spacingAndGlyphs" fill="#141414" stroke="#141414" stroke-width="0.34" stroke-linejoin="round">Aruba</text><text x="466.4" y="461.0" font-family='"Liberation Sans", sans-serif' font-weight="bold" font-size="4.94" letter-spacing="0.49" textLength="30.1" lengthAdjust="spacingAndGlyphs" fill="#141414" stroke="#141414" stroke-width="0.27" stroke-linejoin="round">Curacao &amp; Bonaire</text><text x="544.5" y="493.8" font-family='"Liberation Sans", sans-serif' font-weight="bold" font-size="7.89" letter-spacing="0.79" textLength="43.9" lengthAdjust="spacingAndGlyphs" fill="#141414" stroke="#141414" stroke-width="0.43" stroke-linejoin="round">Trinidad &amp; Tobago</text><text x="554.2" y="505.0" font-family='"Liberation Sans", sans-serif' font-weight="bold" font-size="7.54" letter-spacing="0.75" textLength="18.1" lengthAdjust="spacingAndGlyphs" fill="#141414" stroke="#141414" stroke-width="0.41" stroke-linejoin="round">Guyana</text><text x="579.2" y="516.8" font-family='"Liberation Sans", sans-serif' font-weight="bold" font-size="7.54" letter-spacing="0.75" textLength="23.6" lengthAdjust="spacingAndGlyphs" fill="#141414" stroke="#141414" stroke-width="0.41" stroke-linejoin="round">Suriname</text><text x="598.2" y="537.5" font-family='"Liberation Sans", sans-serif' font-weight="bold" font-size="7.54" letter-spacing="0.75" textLength="35.6" lengthAdjust="spacingAndGlyphs" fill="#141414" stroke="#141414" stroke-width="0.41" stroke-linejoin="round">French Guiana</text><text x="767.4" y="971.0" font-family='"Liberation Sans", sans-serif' font-weight="bold" font-size="13.17" letter-spacing="1.32" textLength="159.4" lengthAdjust="spacingAndGlyphs" fill="#141414" stroke="#141414" stroke-width="0.72" stroke-linejoin="round">Author / Autor: Piotr Kapuściński</text><text x="763.8" y="988.0" font-family='"Liberation Sans", sans-serif' font-weight="bold" font-size="13.03" letter-spacing="1.30" textLength="168.3" lengthAdjust="spacingAndGlyphs" fill="#141414" stroke="#141414" stroke-width="0.71" stroke-linejoin="round">Contact: piotrkap2020@gmail.com</text><text x="11.1" y="1016.6" font-family='"Liberation Sans", sans-serif' font-weight="bold" font-size="10.01" letter-spacing="1.00" textLength="923.7" lengthAdjust="spacingAndGlyphs" fill="#141414" stroke="#141414" stroke-width="0.55" stroke-linejoin="round">Includes: Anguilla, Antigua &amp; Barbuda, Barbados, British Virgin Islands, Dominica, Grenada, Guadeloupe, Martinique, Montserrat, Saba, St Barthelemy, St Lucia, St Martin, Sint Eustatius, Sint Maarten, St Kitts &amp; Nevis, St Vincent &amp; the Grenadines and U.S. Virgin Islands</text><text x="35.5" y="721.2" font-family='"Liberation Sans", sans-serif' font-weight="bold" font-size="27.43" letter-spacing="2.74" textLength="77.7" lengthAdjust="spacingAndGlyphs" fill="#141414" stroke="#141414" stroke-width="1.50" stroke-linejoin="round">Legend:</text><text x="1.8" y="1018.5" font-family='"Liberation Sans", sans-serif' font-weight="bold" font-size="15" fill="#111" stroke="#111" stroke-width="0.7">*</text><rect x="34" y="737" width="26" height="26" fill="#0c4a8e"/><text x="68.5" y="759.4" font-family='"Liberation Sans", sans-serif' font-weight="bold" font-size="18.93" letter-spacing="1.89" textLength="120.9" lengthAdjust="spacingAndGlyphs" fill="#141414" stroke="#141414" stroke-width="1.03" stroke-linejoin="round">White (European)</text><rect x="34" y="763" width="26" height="26" fill="#ff4e1b"/><line x1="34" y1="763" x2="60" y2="763" stroke="#f4f4f4" stroke-width="0.8" opacity="0.8"/><text x="68.5" y="785.4" font-family='"Liberation Sans", sans-serif' font-weight="bold" font-size="18.93" letter-spacing="1.89" textLength="38.7" lengthAdjust="spacingAndGlyphs" fill="#141414" stroke="#141414" stroke-width="1.03" stroke-linejoin="round">MENA</text><rect x="34" y="789" width="26" height="26" fill="#fdd21f"/><line x1="34" y1="789" x2="60" y2="789" stroke="#f4f4f4" stroke-width="0.8" opacity="0.8"/><text x="68.5" y="811.4" font-family='"Liberation Sans", sans-serif' font-weight="bold" font-size="18.93" letter-spacing="1.89" textLength="134.2" lengthAdjust="spacingAndGlyphs" fill="#141414" stroke="#141414" stroke-width="1.03" stroke-linejoin="round">Amerindian &amp; Inuit</text><rect x="34" y="815" width="26" height="26" fill="#52a21f"/><line x1="34" y1="815" x2="60" y2="815" stroke="#f4f4f4" stroke-width="0.8" opacity="0.8"/><text x="68.5" y="837.4" font-family='"Liberation Sans", sans-serif' font-weight="bold" font-size="18.93" letter-spacing="1.89" textLength="115.8" lengthAdjust="spacingAndGlyphs" fill="#141414" stroke="#141414" stroke-width="1.03" stroke-linejoin="round">Mestizo &amp; Pardo</text><rect x="34" y="841" width="26" height="26" fill="#860a2c"/><line x1="34" y1="841" x2="60" y2="841" stroke="#f4f4f4" stroke-width="0.8" opacity="0.8"/><text x="68.5" y="863.4" font-family='"Liberation Sans", sans-serif' font-weight="bold" font-size="18.93" letter-spacing="1.89" textLength="113.8" lengthAdjust="spacingAndGlyphs" fill="#141414" stroke="#141414" stroke-width="1.03" stroke-linejoin="round">Black &amp; Mulatto</text><rect x="34" y="867" width="26" height="26" fill="#86cbf4"/><line x1="34" y1="867" x2="60" y2="867" stroke="#f4f4f4" stroke-width="0.8" opacity="0.8"/><text x="68.5" y="889.4" font-family='"Liberation Sans", sans-serif' font-weight="bold" font-size="18.93" letter-spacing="1.89" textLength="128.5" lengthAdjust="spacingAndGlyphs" fill="#141414" stroke="#141414" stroke-width="1.03" stroke-linejoin="round">Zambo &amp; Garifuna</text><rect x="34" y="893" width="26" height="26" fill="#2d430f"/><line x1="34" y1="893" x2="60" y2="893" stroke="#f4f4f4" stroke-width="0.8" opacity="0.8"/><text x="68.5" y="915.4" font-family='"Liberation Sans", sans-serif' font-weight="bold" font-size="18.93" letter-spacing="1.89" textLength="84.3" lengthAdjust="spacingAndGlyphs" fill="#141414" stroke="#141414" stroke-width="1.03" stroke-linejoin="round">South Asian</text><rect x="34" y="919" width="26" height="26" fill="#b4d10b"/><line x1="34" y1="919" x2="60" y2="919" stroke="#f4f4f4" stroke-width="0.8" opacity="0.8"/><text x="68.5" y="941.4" font-family='"Liberation Sans", sans-serif' font-weight="bold" font-size="18.93" letter-spacing="1.89" textLength="83.5" lengthAdjust="spacingAndGlyphs" fill="#141414" stroke="#141414" stroke-width="1.03" stroke-linejoin="round">Other Asian</text><rect x="34" y="945" width="26" height="26" fill="#4a2a8c"/><line x1="34" y1="945" x2="60" y2="945" stroke="#f4f4f4" stroke-width="0.8" opacity="0.8"/><text x="68.5" y="967.4" font-family='"Liberation Sans", sans-serif' font-weight="bold" font-size="18.93" letter-spacing="1.89" textLength="135.9" lengthAdjust="spacingAndGlyphs" fill="#141414" stroke="#141414" stroke-width="1.03" stroke-linejoin="round">Multiracial &amp; other</text></svg></body></html>
